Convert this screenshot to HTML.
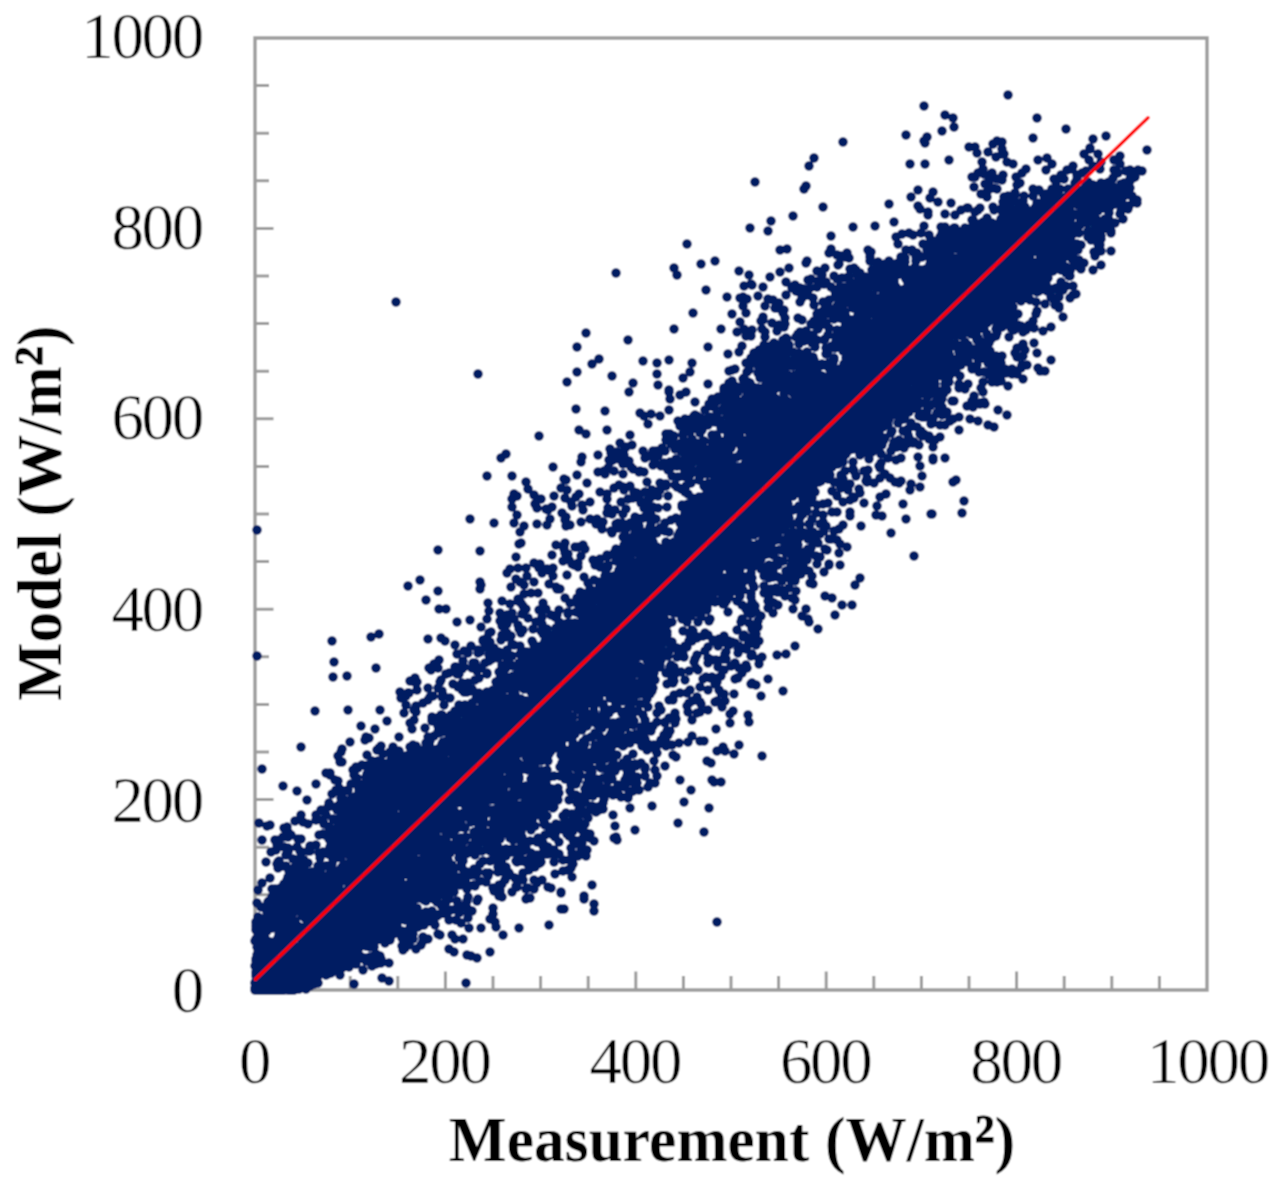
<!DOCTYPE html>
<html><head><meta charset="utf-8"><style>
html,body{margin:0;padding:0;background:#fff;}
svg{display:block;}
.t{font-family:"Liberation Serif",serif;font-size:65px;letter-spacing:-2.3px;fill:#000;stroke:#fff;stroke-width:0.4px;}
.b{font-family:"Liberation Serif",serif;font-weight:bold;font-size:64px;letter-spacing:0.4px;fill:#000;}
</style></head><body>
<svg width="1281" height="1192" viewBox="0 0 1281 1192">
<defs><filter id="bl" x="0" y="0" width="1281" height="1192" filterUnits="userSpaceOnUse"><feConvolveMatrix order="3" kernelMatrix="1 2 1 2 4 2 1 2 1" divisor="16" edgeMode="duplicate" preserveAlpha="true"/></filter></defs>
<g filter="url(#bl)">
<rect width="1281" height="1192" fill="#fff"/>
<path d="M255.0 38.0H1207.0V990.0H255.0Z" fill="none" stroke="#9c9c9c" stroke-width="3.4"/>
<path d="M302.6 990.0V976.0M255.0 942.4H269.0M350.2 990.0V976.0M255.0 894.8H269.0M397.8 990.0V976.0M255.0 847.2H269.0M445.4 990.0V971.5M255.0 799.6H273.5M493.0 990.0V976.0M255.0 752.0H269.0M540.6 990.0V976.0M255.0 704.4H269.0M588.2 990.0V976.0M255.0 656.8H269.0M635.8 990.0V971.5M255.0 609.2H273.5M683.4 990.0V976.0M255.0 561.6H269.0M731.0 990.0V976.0M255.0 514.0H269.0M778.6 990.0V976.0M255.0 466.4H269.0M826.2 990.0V971.5M255.0 418.8H273.5M873.8 990.0V976.0M255.0 371.2H269.0M921.4 990.0V976.0M255.0 323.6H269.0M969.0 990.0V976.0M255.0 276.0H269.0M1016.6 990.0V971.5M255.0 228.4H273.5M1064.2 990.0V976.0M255.0 180.8H269.0M1111.8 990.0V976.0M255.0 133.2H269.0M1159.4 990.0V976.0M255.0 85.6H269.0" stroke="#9c9c9c" stroke-width="3" fill="none"/>
<path d="M258 890h0M257 903h0M256 923h0M256 922h0M256 929h0M256 926h0M256 930h0M258 936h0M256 939h0M257 942h0M257 943h0M255 941h0M257 947h0M258 946h0M258 953h0M257 955h0M258 959h0M256 959h0M257 959h0M256 961h0M256 965h0M257 965h0M257 962h0M258 964h0M256 964h0M255 966h0M257 969h0M257 971h0M257 971h0M256 972h0M256 974h0M256 973h0M256 974h0M256 976h0M257 975h0M257 975h0M258 979h0M257 983h0M256 983h0M255 983h0M257 982h0M256 981h0M258 981h0M258 983h0M257 986h0M256 989h0M256 986h0M256 989h0M255 988h0M255 990h0M258 989h0M258 990h0M256 990h0M258 990h0M258 990h0M257 990h0M256 990h0M257 989h0M256 990h0M257 989h0M258 990h0M257 989h0M255 990h0M257 990h0M255 989h0M258 990h0M257 989h0M259 823h0M261 907h0M258 917h0M260 932h0M260 940h0M261 938h0M259 941h0M259 947h0M260 951h0M260 952h0M259 953h0M261 958h0M259 958h0M260 956h0M259 959h0M260 958h0M258 960h0M261 962h0M261 965h0M260 971h0M261 973h0M260 972h0M260 973h0M260 972h0M259 973h0M261 975h0M259 977h0M258 978h0M260 978h0M261 978h0M260 979h0M259 978h0M259 980h0M258 983h0M259 982h0M259 981h0M260 986h0M259 985h0M259 984h0M261 986h0M261 986h0M261 985h0M259 984h0M259 984h0M260 989h0M260 988h0M259 989h0M260 988h0M261 987h0M259 988h0M260 989h0M258 988h0M259 986h0M259 989h0M259 989h0M261 990h0M259 990h0M261 989h0M261 989h0M260 990h0M260 990h0M259 990h0M259 990h0M259 989h0M260 989h0M260 990h0M260 989h0M262 769h0M262 840h0M262 883h0M264 920h0M262 922h0M262 927h0M263 935h0M263 933h0M264 937h0M262 946h0M263 949h0M262 953h0M263 955h0M263 958h0M264 958h0M263 961h0M263 961h0M263 961h0M262 961h0M261 963h0M263 965h0M262 969h0M263 971h0M263 972h0M262 974h0M262 972h0M262 974h0M263 974h0M262 979h0M261 977h0M264 977h0M261 979h0M262 978h0M261 982h0M263 980h0M262 985h0M264 985h0M262 983h0M261 989h0M263 987h0M262 986h0M261 989h0M263 990h0M262 990h0M261 989h0M262 990h0M263 990h0M264 990h0M262 989h0M267 826h0M266 862h0M266 919h0M265 929h0M267 926h0M267 931h0M266 941h0M265 938h0M266 946h0M265 948h0M264 949h0M267 950h0M265 951h0M265 956h0M265 955h0M265 955h0M264 954h0M266 957h0M265 959h0M266 956h0M264 957h0M267 962h0M265 960h0M266 965h0M265 963h0M265 965h0M265 966h0M265 966h0M265 970h0M265 968h0M264 970h0M265 970h0M264 969h0M267 968h0M266 974h0M266 973h0M266 974h0M266 974h0M264 975h0M266 975h0M265 978h0M265 977h0M265 980h0M266 982h0M266 982h0M265 985h0M265 984h0M266 985h0M266 988h0M265 988h0M266 987h0M266 988h0M265 989h0M265 986h0M267 989h0M266 990h0M266 990h0M264 989h0M265 989h0M265 990h0M266 989h0M265 990h0M265 990h0M265 990h0M265 989h0M265 990h0M270 825h0M269 901h0M268 902h0M269 909h0M267 912h0M269 913h0M267 915h0M269 919h0M270 942h0M268 943h0M267 951h0M268 952h0M269 955h0M269 957h0M269 964h0M269 966h0M268 966h0M269 967h0M269 971h0M269 971h0M270 973h0M269 971h0M268 973h0M269 975h0M269 975h0M268 977h0M269 975h0M268 976h0M267 976h0M267 978h0M270 978h0M268 978h0M268 982h0M268 982h0M270 980h0M267 982h0M269 981h0M268 981h0M267 981h0M267 984h0M269 985h0M268 984h0M270 988h0M268 987h0M267 987h0M267 986h0M267 986h0M268 986h0M268 988h0M269 986h0M267 990h0M267 990h0M267 990h0M270 990h0M270 989h0M270 989h0M267 990h0M268 990h0M269 989h0M271 852h0M270 878h0M272 889h0M272 897h0M272 922h0M272 923h0M272 928h0M271 943h0M270 944h0M271 946h0M273 946h0M271 947h0M272 950h0M271 952h0M272 953h0M270 954h0M272 958h0M271 962h0M272 959h0M272 960h0M272 961h0M272 965h0M272 964h0M271 964h0M273 966h0M271 966h0M273 965h0M272 967h0M272 967h0M272 970h0M271 970h0M272 971h0M270 969h0M270 973h0M273 971h0M271 973h0M271 972h0M271 972h0M270 973h0M271 972h0M272 973h0M272 974h0M271 975h0M270 976h0M270 980h0M272 977h0M272 982h0M271 982h0M271 982h0M272 981h0M271 985h0M273 984h0M271 983h0M270 985h0M272 985h0M272 987h0M272 988h0M270 986h0M270 986h0M271 987h0M270 987h0M271 988h0M270 990h0M273 990h0M273 989h0M271 989h0M273 990h0M271 989h0M275 840h0M276 850h0M275 889h0M274 891h0M274 910h0M275 926h0M273 923h0M276 941h0M274 943h0M273 947h0M273 949h0M275 953h0M274 955h0M274 956h0M275 958h0M274 958h0M275 957h0M274 958h0M275 961h0M274 962h0M274 959h0M276 959h0M275 962h0M273 963h0M274 968h0M275 967h0M276 967h0M275 970h0M273 969h0M274 970h0M275 972h0M275 974h0M274 972h0M275 975h0M275 977h0M276 974h0M274 978h0M274 980h0M274 977h0M275 977h0M275 979h0M274 977h0M274 977h0M276 978h0M274 981h0M275 981h0M275 982h0M275 982h0M275 984h0M275 985h0M274 985h0M275 984h0M276 984h0M275 986h0M274 988h0M274 988h0M274 986h0M275 987h0M274 989h0M276 989h0M276 990h0M274 990h0M275 990h0M273 989h0M274 989h0M277 845h0M278 862h0M277 864h0M278 868h0M278 889h0M276 898h0M277 899h0M276 903h0M278 910h0M276 912h0M277 919h0M276 917h0M278 927h0M279 931h0M279 934h0M278 938h0M279 943h0M276 952h0M278 952h0M279 954h0M277 955h0M276 957h0M278 957h0M277 957h0M279 959h0M278 958h0M278 958h0M276 959h0M277 960h0M278 959h0M277 961h0M277 965h0M277 967h0M278 967h0M277 967h0M276 971h0M279 969h0M278 968h0M279 969h0M276 973h0M277 972h0M279 971h0M278 974h0M278 977h0M277 974h0M279 976h0M277 976h0M277 974h0M277 977h0M279 979h0M278 979h0M278 979h0M278 978h0M276 979h0M277 982h0M276 982h0M277 983h0M277 980h0M279 983h0M279 983h0M278 980h0M277 981h0M277 981h0M276 983h0M279 986h0M277 983h0M278 984h0M278 987h0M279 987h0M276 987h0M279 989h0M277 989h0M278 989h0M277 989h0M278 989h0M278 989h0M277 989h0M278 989h0M277 989h0M279 840h0M279 861h0M282 887h0M282 893h0M280 907h0M279 911h0M281 922h0M281 930h0M281 940h0M281 943h0M281 942h0M279 946h0M279 947h0M281 948h0M281 948h0M281 948h0M281 951h0M279 953h0M282 959h0M280 960h0M281 960h0M280 960h0M281 960h0M280 960h0M282 965h0M280 964h0M280 963h0M281 966h0M281 968h0M280 965h0M282 968h0M281 970h0M281 970h0M279 971h0M280 976h0M282 974h0M281 975h0M281 975h0M280 978h0M279 983h0M280 983h0M280 980h0M281 982h0M281 986h0M281 984h0M282 987h0M282 988h0M282 986h0M279 990h0M281 990h0M280 989h0M279 989h0M282 989h0M280 989h0M280 989h0M283 786h0M284 828h0M283 837h0M284 847h0M283 866h0M284 884h0M284 889h0M283 897h0M284 898h0M285 901h0M283 901h0M284 900h0M283 907h0M284 916h0M285 915h0M284 919h0M282 931h0M282 932h0M283 937h0M283 943h0M284 945h0M284 949h0M283 948h0M283 949h0M284 950h0M284 952h0M283 950h0M283 952h0M284 952h0M282 957h0M283 956h0M283 957h0M284 959h0M282 964h0M282 963h0M282 964h0M284 966h0M283 967h0M283 970h0M285 970h0M282 969h0M283 972h0M282 974h0M285 974h0M282 976h0M284 974h0M285 976h0M282 975h0M282 975h0M284 977h0M283 978h0M284 977h0M283 980h0M283 979h0M284 978h0M284 980h0M283 980h0M282 982h0M283 982h0M284 985h0M282 984h0M283 990h0M283 989h0M284 990h0M287 827h0M288 832h0M288 852h0M286 855h0M286 866h0M288 877h0M287 880h0M287 884h0M285 885h0M287 884h0M285 889h0M286 892h0M286 892h0M288 918h0M287 919h0M287 924h0M288 926h0M288 927h0M285 930h0M288 934h0M287 932h0M287 932h0M287 941h0M286 940h0M285 946h0M288 947h0M287 951h0M287 951h0M286 955h0M286 955h0M285 953h0M286 957h0M287 958h0M286 962h0M286 960h0M285 960h0M287 963h0M285 970h0M286 973h0M287 973h0M287 974h0M285 974h0M288 977h0M285 978h0M286 977h0M287 982h0M286 982h0M287 982h0M286 984h0M286 983h0M285 984h0M286 987h0M287 989h0M285 987h0M286 989h0M288 989h0M291 835h0M288 837h0M289 849h0M288 848h0M289 871h0M288 881h0M290 883h0M289 883h0M291 881h0M289 883h0M291 882h0M290 891h0M290 907h0M291 925h0M289 931h0M291 934h0M289 934h0M290 939h0M288 938h0M291 940h0M289 945h0M289 946h0M289 949h0M291 952h0M288 952h0M290 950h0M289 951h0M290 952h0M291 951h0M289 954h0M289 955h0M289 955h0M289 957h0M290 959h0M291 961h0M288 959h0M289 964h0M291 968h0M288 967h0M290 968h0M288 966h0M289 970h0M288 971h0M288 972h0M289 973h0M289 975h0M289 974h0M289 978h0M290 982h0M290 980h0M289 981h0M289 984h0M289 983h0M288 985h0M290 985h0M289 989h0M290 988h0M289 987h0M291 989h0M289 989h0M288 990h0M290 990h0M293 859h0M292 875h0M293 883h0M292 881h0M291 899h0M292 905h0M293 910h0M293 913h0M291 934h0M291 936h0M293 947h0M294 946h0M292 956h0M293 954h0M293 958h0M293 960h0M291 960h0M291 963h0M293 963h0M292 962h0M291 968h0M292 969h0M291 969h0M294 968h0M292 970h0M293 973h0M293 971h0M291 973h0M293 974h0M292 973h0M293 976h0M294 979h0M291 981h0M294 982h0M292 980h0M294 983h0M293 984h0M291 983h0M291 984h0M291 984h0M292 984h0M294 984h0M292 987h0M293 987h0M294 990h0M292 990h0M294 990h0M292 989h0M297 791h0M295 821h0M296 860h0M296 866h0M297 868h0M295 867h0M296 867h0M297 873h0M296 877h0M297 881h0M295 891h0M294 894h0M295 900h0M294 903h0M297 906h0M296 906h0M295 910h0M295 911h0M295 921h0M297 930h0M296 930h0M295 935h0M296 935h0M295 950h0M295 948h0M297 952h0M294 951h0M295 954h0M296 953h0M295 957h0M295 960h0M296 960h0M296 961h0M295 964h0M294 963h0M295 964h0M296 965h0M295 966h0M297 969h0M296 969h0M297 972h0M295 976h0M295 975h0M296 975h0M296 976h0M294 980h0M295 977h0M295 980h0M296 982h0M297 982h0M296 982h0M297 981h0M297 985h0M296 986h0M294 984h0M296 983h0M295 985h0M295 984h0M294 986h0M295 988h0M296 986h0M294 989h0M294 990h0M298 839h0M297 847h0M300 851h0M299 862h0M299 866h0M298 867h0M298 867h0M299 878h0M299 880h0M299 882h0M299 883h0M298 884h0M297 892h0M299 900h0M298 900h0M300 907h0M298 926h0M298 928h0M298 930h0M298 934h0M300 937h0M298 947h0M298 951h0M300 954h0M298 958h0M300 959h0M297 964h0M299 964h0M299 971h0M297 976h0M299 982h0M298 984h0M298 988h0M299 989h0M301 747h0M301 815h0M301 839h0M301 853h0M301 858h0M301 865h0M303 864h0M302 872h0M302 873h0M302 885h0M301 888h0M301 894h0M302 900h0M303 901h0M301 906h0M300 911h0M303 912h0M302 916h0M301 929h0M301 934h0M302 938h0M301 939h0M302 944h0M301 950h0M302 953h0M302 968h0M300 969h0M301 970h0M301 973h0M303 971h0M303 973h0M300 974h0M300 978h0M301 978h0M300 980h0M303 981h0M303 981h0M301 980h0M300 985h0M301 985h0M300 985h0M302 987h0M303 822h0M304 860h0M304 867h0M304 868h0M305 872h0M303 873h0M304 876h0M305 880h0M303 886h0M304 889h0M303 898h0M305 901h0M304 907h0M306 909h0M304 912h0M305 918h0M306 926h0M305 937h0M304 938h0M305 938h0M306 939h0M304 944h0M304 949h0M306 949h0M305 952h0M303 954h0M304 960h0M305 964h0M305 963h0M304 970h0M304 970h0M305 971h0M305 975h0M305 979h0M305 978h0M303 978h0M304 983h0M305 985h0M306 989h0M307 800h0M308 824h0M308 851h0M308 863h0M309 873h0M308 884h0M307 885h0M307 887h0M306 889h0M306 890h0M308 896h0M307 894h0M307 904h0M309 905h0M309 905h0M308 906h0M308 909h0M309 912h0M307 917h0M308 918h0M308 920h0M307 927h0M308 928h0M308 930h0M309 934h0M308 937h0M308 941h0M307 957h0M307 958h0M308 962h0M306 968h0M308 968h0M307 973h0M308 972h0M309 972h0M308 977h0M308 975h0M308 977h0M308 980h0M308 986h0M311 846h0M310 846h0M310 851h0M311 883h0M310 890h0M311 896h0M310 907h0M312 911h0M311 911h0M311 913h0M310 915h0M310 914h0M309 919h0M312 926h0M312 934h0M309 938h0M309 937h0M312 935h0M309 940h0M310 939h0M309 950h0M312 954h0M310 960h0M312 960h0M310 962h0M311 959h0M312 964h0M312 962h0M312 964h0M310 968h0M310 967h0M311 972h0M310 974h0M309 976h0M309 978h0M311 978h0M310 986h0M312 872h0M313 878h0M312 880h0M314 880h0M313 901h0M314 904h0M315 919h0M313 922h0M314 929h0M314 936h0M313 941h0M314 946h0M312 944h0M312 946h0M313 944h0M315 953h0M312 955h0M314 957h0M312 959h0M313 963h0M312 965h0M314 966h0M313 970h0M312 973h0M315 976h0M314 978h0M314 984h0M315 711h0M316 784h0M316 815h0M316 820h0M316 845h0M318 866h0M317 881h0M318 887h0M318 889h0M315 888h0M318 895h0M317 895h0M317 900h0M315 908h0M317 914h0M317 919h0M316 919h0M315 924h0M318 931h0M316 939h0M315 949h0M318 952h0M317 951h0M317 955h0M318 959h0M317 959h0M316 963h0M318 964h0M317 969h0M316 980h0M319 835h0M319 853h0M319 853h0M320 858h0M320 871h0M320 875h0M318 881h0M320 895h0M318 894h0M318 896h0M321 899h0M319 900h0M321 906h0M320 909h0M320 923h0M320 922h0M319 928h0M320 930h0M318 937h0M319 938h0M320 942h0M319 947h0M320 953h0M319 953h0M320 964h0M318 972h0M321 972h0M319 974h0M318 976h0M318 983h0M321 810h0M323 820h0M324 824h0M323 834h0M323 852h0M322 866h0M324 885h0M321 889h0M323 893h0M322 902h0M322 908h0M321 911h0M324 915h0M323 920h0M323 918h0M322 928h0M323 927h0M322 931h0M323 930h0M323 935h0M322 935h0M324 947h0M321 948h0M322 954h0M323 955h0M322 960h0M323 964h0M324 964h0M322 963h0M323 973h0M323 971h0M326 773h0M326 815h0M325 835h0M324 853h0M326 853h0M327 866h0M326 866h0M326 876h0M325 883h0M326 887h0M327 885h0M325 891h0M326 891h0M326 890h0M324 893h0M326 896h0M325 897h0M327 900h0M326 904h0M327 903h0M326 909h0M324 908h0M326 910h0M327 916h0M326 917h0M324 921h0M326 922h0M326 922h0M326 921h0M325 921h0M325 925h0M325 924h0M324 927h0M325 926h0M326 934h0M327 939h0M325 943h0M327 944h0M324 946h0M327 952h0M325 954h0M325 954h0M327 954h0M326 962h0M324 968h0M325 973h0M325 973h0M326 975h0M330 773h0M329 803h0M328 807h0M329 827h0M329 832h0M329 839h0M330 847h0M328 851h0M328 854h0M329 881h0M330 885h0M329 888h0M328 890h0M330 899h0M329 903h0M329 906h0M329 907h0M329 914h0M327 916h0M330 916h0M330 915h0M328 917h0M330 922h0M329 924h0M329 944h0M327 948h0M329 956h0M329 963h0M330 964h0M327 965h0M329 966h0M328 966h0M328 974h0M332 641h0M333 677h0M330 775h0M332 794h0M331 834h0M332 841h0M333 839h0M332 842h0M331 844h0M331 850h0M333 850h0M332 857h0M331 866h0M332 864h0M331 870h0M332 893h0M332 891h0M332 891h0M330 902h0M331 916h0M331 918h0M332 920h0M332 927h0M331 928h0M333 929h0M333 936h0M332 938h0M331 938h0M331 939h0M331 942h0M332 944h0M332 952h0M331 952h0M333 953h0M332 953h0M331 956h0M332 955h0M333 955h0M332 958h0M332 959h0M332 960h0M332 962h0M331 962h0M331 963h0M332 966h0M332 967h0M332 970h0M331 973h0M334 662h0M335 780h0M335 807h0M333 819h0M335 820h0M334 830h0M333 837h0M333 859h0M334 859h0M333 877h0M333 877h0M334 876h0M334 884h0M335 901h0M335 899h0M335 899h0M334 900h0M335 906h0M334 907h0M334 910h0M334 910h0M335 916h0M336 920h0M335 922h0M335 927h0M333 930h0M335 939h0M334 941h0M336 943h0M333 944h0M334 945h0M334 948h0M336 949h0M334 950h0M333 951h0M334 952h0M336 958h0M335 958h0M335 958h0M334 963h0M334 963h0M334 965h0M336 970h0M338 756h0M338 781h0M338 791h0M336 790h0M338 806h0M337 810h0M339 821h0M338 823h0M338 825h0M337 830h0M338 840h0M336 839h0M337 840h0M337 855h0M337 871h0M337 876h0M337 879h0M338 882h0M338 886h0M339 888h0M336 889h0M337 895h0M336 900h0M336 904h0M337 908h0M337 914h0M337 917h0M336 918h0M337 929h0M338 931h0M336 931h0M337 933h0M337 939h0M336 938h0M337 943h0M337 941h0M337 946h0M337 945h0M337 944h0M336 947h0M337 954h0M337 957h0M338 962h0M338 965h0M338 962h0M338 965h0M338 964h0M338 965h0M338 968h0M337 968h0M338 970h0M341 752h0M340 761h0M340 762h0M339 788h0M341 798h0M340 804h0M340 818h0M339 819h0M342 820h0M341 820h0M339 821h0M341 826h0M339 827h0M341 831h0M341 836h0M341 839h0M341 845h0M340 848h0M339 846h0M341 851h0M339 856h0M341 858h0M342 867h0M341 869h0M339 871h0M340 877h0M340 877h0M339 876h0M340 880h0M339 885h0M341 893h0M342 902h0M340 901h0M342 906h0M341 910h0M340 912h0M339 916h0M342 919h0M341 918h0M340 924h0M340 929h0M341 929h0M339 935h0M341 938h0M339 944h0M342 950h0M341 952h0M341 951h0M340 950h0M341 955h0M340 959h0M342 957h0M341 960h0M341 964h0M339 967h0M342 968h0M340 975h0M342 749h0M342 762h0M344 791h0M343 791h0M343 799h0M344 804h0M343 805h0M343 808h0M344 809h0M344 809h0M344 815h0M344 815h0M344 817h0M343 818h0M342 818h0M343 822h0M344 824h0M344 822h0M345 831h0M344 841h0M343 848h0M345 847h0M343 847h0M344 864h0M343 868h0M344 873h0M343 879h0M345 880h0M342 894h0M342 896h0M345 898h0M343 905h0M342 907h0M343 906h0M345 907h0M342 905h0M344 910h0M342 918h0M344 918h0M345 919h0M345 935h0M344 936h0M342 940h0M344 940h0M342 939h0M345 940h0M344 939h0M343 941h0M345 941h0M343 941h0M345 944h0M344 948h0M343 950h0M344 950h0M345 952h0M344 955h0M343 956h0M343 960h0M343 959h0M342 961h0M343 962h0M343 959h0M347 676h0M345 791h0M348 790h0M347 811h0M347 814h0M346 813h0M348 816h0M345 817h0M347 818h0M347 819h0M346 819h0M348 824h0M348 822h0M345 825h0M346 827h0M348 827h0M346 830h0M347 831h0M347 832h0M347 835h0M346 840h0M345 847h0M345 852h0M345 867h0M348 879h0M348 882h0M345 894h0M348 899h0M347 899h0M347 908h0M347 909h0M346 909h0M345 913h0M346 921h0M348 926h0M346 927h0M346 930h0M348 935h0M348 941h0M348 946h0M347 946h0M347 947h0M347 951h0M346 951h0M346 954h0M347 955h0M347 956h0M348 957h0M346 958h0M345 961h0M347 966h0M348 710h0M350 742h0M351 784h0M349 801h0M350 809h0M350 810h0M348 812h0M348 811h0M348 813h0M350 816h0M350 816h0M349 820h0M350 819h0M350 819h0M349 824h0M348 827h0M349 824h0M350 831h0M350 832h0M349 836h0M349 842h0M349 845h0M350 843h0M350 847h0M350 847h0M351 849h0M349 849h0M350 856h0M349 869h0M351 873h0M349 877h0M348 876h0M351 880h0M349 886h0M348 890h0M349 892h0M350 890h0M350 892h0M351 896h0M351 894h0M348 897h0M350 901h0M350 903h0M350 907h0M349 909h0M349 911h0M349 917h0M351 917h0M350 923h0M349 933h0M349 938h0M351 941h0M351 941h0M351 941h0M349 941h0M349 946h0M351 946h0M350 945h0M348 945h0M350 951h0M349 951h0M349 952h0M348 951h0M349 955h0M349 967h0M353 770h0M352 797h0M354 797h0M354 807h0M353 812h0M352 810h0M351 813h0M354 814h0M353 818h0M354 821h0M353 823h0M353 825h0M354 827h0M352 830h0M352 829h0M352 832h0M352 835h0M351 841h0M352 847h0M351 854h0M352 852h0M353 854h0M351 860h0M354 857h0M352 861h0M353 864h0M353 867h0M354 868h0M353 870h0M354 883h0M352 883h0M352 883h0M352 886h0M352 885h0M353 887h0M354 896h0M353 899h0M352 901h0M354 899h0M352 905h0M351 905h0M352 908h0M354 908h0M353 908h0M354 911h0M352 913h0M353 919h0M354 920h0M352 920h0M352 923h0M352 926h0M352 927h0M353 928h0M351 935h0M352 933h0M354 941h0M352 938h0M352 943h0M354 944h0M352 946h0M352 949h0M354 947h0M354 952h0M352 955h0M352 956h0M353 953h0M352 956h0M352 959h0M356 767h0M355 770h0M354 775h0M357 778h0M356 784h0M355 798h0M355 801h0M357 804h0M355 809h0M357 814h0M357 815h0M356 814h0M355 817h0M356 817h0M354 821h0M356 823h0M357 829h0M357 834h0M354 834h0M356 842h0M357 846h0M355 846h0M357 851h0M357 854h0M355 852h0M355 853h0M356 852h0M355 858h0M356 862h0M356 871h0M355 874h0M354 881h0M356 881h0M355 884h0M357 883h0M357 882h0M356 885h0M355 892h0M356 895h0M357 899h0M355 903h0M355 905h0M355 906h0M355 907h0M355 916h0M356 918h0M355 917h0M356 922h0M354 926h0M356 924h0M355 928h0M357 930h0M356 930h0M356 933h0M356 938h0M354 937h0M355 935h0M355 936h0M357 940h0M355 941h0M356 946h0M355 945h0M354 947h0M357 952h0M356 953h0M356 964h0M354 984h0M358 768h0M358 786h0M359 791h0M359 790h0M359 795h0M359 797h0M359 803h0M358 811h0M358 811h0M358 810h0M360 816h0M358 816h0M357 816h0M358 817h0M359 820h0M357 824h0M358 826h0M359 829h0M359 831h0M359 830h0M359 840h0M358 845h0M359 854h0M360 852h0M360 859h0M358 866h0M358 870h0M358 875h0M360 881h0M358 880h0M360 884h0M359 890h0M357 891h0M358 898h0M360 897h0M358 899h0M358 898h0M359 900h0M360 902h0M359 902h0M358 904h0M358 905h0M359 915h0M359 919h0M359 923h0M358 921h0M359 920h0M360 922h0M357 923h0M359 926h0M359 929h0M357 931h0M359 929h0M360 929h0M359 931h0M358 933h0M359 938h0M360 943h0M357 944h0M358 946h0M358 948h0M359 948h0M359 959h0M361 726h0M362 765h0M363 792h0M362 796h0M360 799h0M363 801h0M361 807h0M363 810h0M363 813h0M361 814h0M361 818h0M361 825h0M363 825h0M361 831h0M360 832h0M361 832h0M361 841h0M361 846h0M361 848h0M360 850h0M361 849h0M361 855h0M361 858h0M361 862h0M362 872h0M362 874h0M362 876h0M360 877h0M363 883h0M361 881h0M361 896h0M362 905h0M362 903h0M361 917h0M363 918h0M360 924h0M361 929h0M362 930h0M360 932h0M360 932h0M363 931h0M362 937h0M361 941h0M361 939h0M360 956h0M365 740h0M366 777h0M364 784h0M365 790h0M365 795h0M364 799h0M365 805h0M365 807h0M365 810h0M364 810h0M363 809h0M365 815h0M366 813h0M364 814h0M364 815h0M365 817h0M365 816h0M365 819h0M363 818h0M363 818h0M365 821h0M363 823h0M363 821h0M364 821h0M365 823h0M365 829h0M365 828h0M365 828h0M364 829h0M363 832h0M365 831h0M365 831h0M365 839h0M366 838h0M364 842h0M365 842h0M366 842h0M365 844h0M365 844h0M366 848h0M365 847h0M366 849h0M366 850h0M364 855h0M363 861h0M363 863h0M363 865h0M366 864h0M366 868h0M364 871h0M364 870h0M365 873h0M364 872h0M364 877h0M364 882h0M363 884h0M363 883h0M365 885h0M365 888h0M364 888h0M366 888h0M366 887h0M366 892h0M364 891h0M364 896h0M366 900h0M363 904h0M363 905h0M364 910h0M363 909h0M364 917h0M363 921h0M365 927h0M366 931h0M363 929h0M365 929h0M364 934h0M366 935h0M364 934h0M366 943h0M366 943h0M366 946h0M365 958h0M366 961h0M363 970h0M366 737h0M367 755h0M368 765h0M368 769h0M367 774h0M369 788h0M368 794h0M367 792h0M368 800h0M366 805h0M366 807h0M368 811h0M367 813h0M367 812h0M367 821h0M369 821h0M366 823h0M367 824h0M368 826h0M368 825h0M369 833h0M368 830h0M369 833h0M367 836h0M367 836h0M368 838h0M369 838h0M369 836h0M369 841h0M366 843h0M367 845h0M367 845h0M368 847h0M368 845h0M367 847h0M369 847h0M368 848h0M368 857h0M368 863h0M366 867h0M368 867h0M368 875h0M368 879h0M367 878h0M368 880h0M367 878h0M368 882h0M366 884h0M369 893h0M369 891h0M368 894h0M368 897h0M367 910h0M367 916h0M368 919h0M366 921h0M367 921h0M367 924h0M367 928h0M369 928h0M368 930h0M368 934h0M366 935h0M367 935h0M366 936h0M371 637h0M369 738h0M370 778h0M372 785h0M370 785h0M370 794h0M370 797h0M372 800h0M371 802h0M369 803h0M370 800h0M370 803h0M369 809h0M370 811h0M371 815h0M369 819h0M371 822h0M371 821h0M369 828h0M371 829h0M369 832h0M372 832h0M371 839h0M370 842h0M370 840h0M370 843h0M372 845h0M370 852h0M371 856h0M370 856h0M370 855h0M372 860h0M370 858h0M370 861h0M370 866h0M372 870h0M369 870h0M369 873h0M370 882h0M369 881h0M371 882h0M370 889h0M370 889h0M372 891h0M371 893h0M372 901h0M369 903h0M371 904h0M369 906h0M371 905h0M370 909h0M371 910h0M370 913h0M372 912h0M371 912h0M371 914h0M370 919h0M369 919h0M370 921h0M372 925h0M370 923h0M372 929h0M369 929h0M372 933h0M370 936h0M369 943h0M370 947h0M370 957h0M372 966h0M372 761h0M374 768h0M374 776h0M375 782h0M372 783h0M373 790h0M375 789h0M373 792h0M373 797h0M375 797h0M372 799h0M373 798h0M372 803h0M374 806h0M373 810h0M373 810h0M373 810h0M373 817h0M373 816h0M373 819h0M374 822h0M375 826h0M373 832h0M373 842h0M373 840h0M374 846h0M375 850h0M373 851h0M374 853h0M372 852h0M374 854h0M374 856h0M373 857h0M373 864h0M373 868h0M373 869h0M374 866h0M374 874h0M374 875h0M372 880h0M374 879h0M374 884h0M374 889h0M374 890h0M375 893h0M373 899h0M373 902h0M375 900h0M374 903h0M374 904h0M374 911h0M372 912h0M372 916h0M375 914h0M373 915h0M373 915h0M372 919h0M374 919h0M373 923h0M374 926h0M374 923h0M375 923h0M374 927h0M374 927h0M374 930h0M373 932h0M374 934h0M374 947h0M374 956h0M376 668h0M375 729h0M377 750h0M378 761h0M376 762h0M377 778h0M376 791h0M375 794h0M376 794h0M377 798h0M377 798h0M378 798h0M378 802h0M377 802h0M377 805h0M376 806h0M378 807h0M376 808h0M375 808h0M376 810h0M377 811h0M376 813h0M376 815h0M377 817h0M378 821h0M375 823h0M375 821h0M377 825h0M378 832h0M377 830h0M377 837h0M377 842h0M376 847h0M375 850h0M378 851h0M375 850h0M378 854h0M376 853h0M376 860h0M376 858h0M376 861h0M377 867h0M375 872h0M376 872h0M376 878h0M377 877h0M376 880h0M377 880h0M376 878h0M375 879h0M378 883h0M376 891h0M375 901h0M376 900h0M378 904h0M377 908h0M376 907h0M377 907h0M377 908h0M375 910h0M376 917h0M377 920h0M378 922h0M378 921h0M377 921h0M377 923h0M376 926h0M376 926h0M376 929h0M377 928h0M378 931h0M376 934h0M377 933h0M377 937h0M376 939h0M377 940h0M377 939h0M376 954h0M376 964h0M379 634h0M380 710h0M379 748h0M380 763h0M379 777h0M378 788h0M379 786h0M379 793h0M379 791h0M380 792h0M379 796h0M379 795h0M381 796h0M379 796h0M379 798h0M381 803h0M381 803h0M380 800h0M378 801h0M378 804h0M381 804h0M380 808h0M379 807h0M378 807h0M378 808h0M380 811h0M379 814h0M380 819h0M379 823h0M379 828h0M379 827h0M381 833h0M379 837h0M379 837h0M380 844h0M381 852h0M380 853h0M379 856h0M378 855h0M379 856h0M379 863h0M379 862h0M380 866h0M380 865h0M380 867h0M378 870h0M378 875h0M378 875h0M378 883h0M378 883h0M379 888h0M380 887h0M379 888h0M379 891h0M380 901h0M380 905h0M380 917h0M380 917h0M379 918h0M380 920h0M378 921h0M379 923h0M381 921h0M380 920h0M378 926h0M381 930h0M379 936h0M380 956h0M380 958h0M379 960h0M381 959h0M381 746h0M383 754h0M383 763h0M384 768h0M381 771h0M383 774h0M383 774h0M382 773h0M383 781h0M383 783h0M381 787h0M381 789h0M384 788h0M381 790h0M382 795h0M383 794h0M383 800h0M381 800h0M382 801h0M383 811h0M381 812h0M382 815h0M382 816h0M381 816h0M382 820h0M381 825h0M381 831h0M383 832h0M381 846h0M381 846h0M381 846h0M382 849h0M383 850h0M383 852h0M381 852h0M381 856h0M382 858h0M382 858h0M383 865h0M382 867h0M384 870h0M381 870h0M383 874h0M381 872h0M383 874h0M383 878h0M382 880h0M382 879h0M382 885h0M381 888h0M381 892h0M381 896h0M384 897h0M382 901h0M383 901h0M382 910h0M383 910h0M382 912h0M384 911h0M382 913h0M383 916h0M383 917h0M384 918h0M382 918h0M382 918h0M383 920h0M383 921h0M383 920h0M384 922h0M383 920h0M381 963h0M382 978h0M384 764h0M385 768h0M385 783h0M385 785h0M386 792h0M386 791h0M385 794h0M384 797h0M385 803h0M384 804h0M386 808h0M386 807h0M386 811h0M387 811h0M385 822h0M386 822h0M386 825h0M386 830h0M387 835h0M386 837h0M386 846h0M386 847h0M386 848h0M386 854h0M385 860h0M385 865h0M386 871h0M385 869h0M386 870h0M385 873h0M385 878h0M385 880h0M384 881h0M385 881h0M387 886h0M384 888h0M384 889h0M387 891h0M385 893h0M387 894h0M384 897h0M386 901h0M385 902h0M385 902h0M386 905h0M384 904h0M385 903h0M386 905h0M386 910h0M386 910h0M386 909h0M384 917h0M385 918h0M386 918h0M387 917h0M387 918h0M385 918h0M385 921h0M386 921h0M384 920h0M385 923h0M386 925h0M387 925h0M386 928h0M385 927h0M387 933h0M385 943h0M387 721h0M390 752h0M388 769h0M387 772h0M389 776h0M388 777h0M388 777h0M390 779h0M389 784h0M388 790h0M389 791h0M388 789h0M387 789h0M389 789h0M389 791h0M389 794h0M389 800h0M390 801h0M389 806h0M388 807h0M387 815h0M388 813h0M390 815h0M390 818h0M389 822h0M390 827h0M388 827h0M389 832h0M388 831h0M387 832h0M388 831h0M387 837h0M388 839h0M387 845h0M389 846h0M387 852h0M390 855h0M388 856h0M388 858h0M390 857h0M389 858h0M390 861h0M388 861h0M388 863h0M389 866h0M390 873h0M389 875h0M389 881h0M388 880h0M387 885h0M388 890h0M388 889h0M387 901h0M388 903h0M387 903h0M388 909h0M387 908h0M390 909h0M388 912h0M389 913h0M390 914h0M388 917h0M389 917h0M389 930h0M387 933h0M387 938h0M387 941h0M389 963h0M389 981h0M393 747h0M391 754h0M391 760h0M391 767h0M392 774h0M393 776h0M390 777h0M390 782h0M392 780h0M391 784h0M391 789h0M392 788h0M391 790h0M391 791h0M392 792h0M392 794h0M393 800h0M391 809h0M393 811h0M392 814h0M391 820h0M393 820h0M393 826h0M390 829h0M392 828h0M392 836h0M390 846h0M390 853h0M392 855h0M392 858h0M391 864h0M393 868h0M392 880h0M391 879h0M393 890h0M391 891h0M392 896h0M391 900h0M391 904h0M392 905h0M391 909h0M391 916h0M392 916h0M390 918h0M390 921h0M392 926h0M392 935h0M390 940h0M395 753h0M395 772h0M394 774h0M394 776h0M394 778h0M395 776h0M394 779h0M396 780h0M396 780h0M393 783h0M394 784h0M395 786h0M393 788h0M396 788h0M394 794h0M395 794h0M394 798h0M393 800h0M394 805h0M396 806h0M394 814h0M395 830h0M395 831h0M395 834h0M395 834h0M394 841h0M395 849h0M393 850h0M396 854h0M394 853h0M395 852h0M394 852h0M395 854h0M394 854h0M393 858h0M394 867h0M396 870h0M394 874h0M394 877h0M394 884h0M396 891h0M395 890h0M396 893h0M395 896h0M395 900h0M395 912h0M395 914h0M395 912h0M394 924h0M399 737h0M398 760h0M399 766h0M398 766h0M396 767h0M397 765h0M396 769h0M399 767h0M396 772h0M399 773h0M398 774h0M397 777h0M398 778h0M398 781h0M396 783h0M399 786h0M398 786h0M398 790h0M396 790h0M399 790h0M398 789h0M396 797h0M399 797h0M398 800h0M397 806h0M396 803h0M399 806h0M398 826h0M397 826h0M398 827h0M397 830h0M398 834h0M398 844h0M398 844h0M397 850h0M397 852h0M398 854h0M398 859h0M398 864h0M398 865h0M396 864h0M398 871h0M397 869h0M396 871h0M397 872h0M398 875h0M398 876h0M398 879h0M398 881h0M398 883h0M398 884h0M397 895h0M397 898h0M398 904h0M399 906h0M396 907h0M396 913h0M399 914h0M398 918h0M397 925h0M397 933h0M400 692h0M401 698h0M399 751h0M401 761h0M402 763h0M399 764h0M400 770h0M400 768h0M400 771h0M400 770h0M401 771h0M400 781h0M400 780h0M402 780h0M399 779h0M401 788h0M402 787h0M400 785h0M400 786h0M401 790h0M400 790h0M400 788h0M402 793h0M402 800h0M402 797h0M402 807h0M402 817h0M400 816h0M402 827h0M401 841h0M399 846h0M401 848h0M401 853h0M400 853h0M401 852h0M401 863h0M402 865h0M399 871h0M401 872h0M401 877h0M400 879h0M401 885h0M401 889h0M399 889h0M402 894h0M400 898h0M399 904h0M401 909h0M399 911h0M401 914h0M399 916h0M402 916h0M401 919h0M401 931h0M399 930h0M401 931h0M404 713h0M404 759h0M403 762h0M403 771h0M405 771h0M405 774h0M403 781h0M404 779h0M403 781h0M404 782h0M404 783h0M403 786h0M405 786h0M404 793h0M405 793h0M403 794h0M405 793h0M403 796h0M404 799h0M404 797h0M404 797h0M405 801h0M403 802h0M404 807h0M403 809h0M402 822h0M405 824h0M403 831h0M403 835h0M404 833h0M403 835h0M405 840h0M403 847h0M405 851h0M404 849h0M405 855h0M402 860h0M405 861h0M402 864h0M403 868h0M404 871h0M403 872h0M402 874h0M403 875h0M404 892h0M404 897h0M404 905h0M402 906h0M403 912h0M404 913h0M404 914h0M405 918h0M405 920h0M402 931h0M402 938h0M402 946h0M405 948h0M403 950h0M406 696h0M406 705h0M406 756h0M407 759h0M407 763h0M408 771h0M407 776h0M406 779h0M407 781h0M405 782h0M408 784h0M407 783h0M408 783h0M406 785h0M406 786h0M406 790h0M406 790h0M407 794h0M407 793h0M406 793h0M407 792h0M408 793h0M406 795h0M408 798h0M408 804h0M408 804h0M407 810h0M406 814h0M407 820h0M407 823h0M407 824h0M406 828h0M407 828h0M405 828h0M407 833h0M407 838h0M407 839h0M408 844h0M407 844h0M408 847h0M406 847h0M408 849h0M407 854h0M405 857h0M405 860h0M408 859h0M406 860h0M406 861h0M406 861h0M406 866h0M407 869h0M405 874h0M405 885h0M406 887h0M405 892h0M407 892h0M407 895h0M406 894h0M407 902h0M405 909h0M406 910h0M405 913h0M405 916h0M407 915h0M405 935h0M410 681h0M409 693h0M408 693h0M410 723h0M411 748h0M410 747h0M410 754h0M409 760h0M410 760h0M409 759h0M408 764h0M408 770h0M409 772h0M411 780h0M409 784h0M408 783h0M410 788h0M409 791h0M411 793h0M409 794h0M409 803h0M411 806h0M410 806h0M410 827h0M409 827h0M409 827h0M410 833h0M409 833h0M410 833h0M410 841h0M411 840h0M408 842h0M409 847h0M410 848h0M409 848h0M408 856h0M409 855h0M409 857h0M411 861h0M411 865h0M409 872h0M409 875h0M410 875h0M411 884h0M410 884h0M409 887h0M410 888h0M410 892h0M410 892h0M410 893h0M409 895h0M409 894h0M411 896h0M411 905h0M410 918h0M409 917h0M411 926h0M410 928h0M408 935h0M409 942h0M409 945h0M412 681h0M412 729h0M413 745h0M412 749h0M411 748h0M412 761h0M413 761h0M411 766h0M411 765h0M413 765h0M412 775h0M413 776h0M412 781h0M414 780h0M412 783h0M413 785h0M413 795h0M412 797h0M413 795h0M413 802h0M414 800h0M414 810h0M413 812h0M412 818h0M414 827h0M412 836h0M413 837h0M413 845h0M413 843h0M412 848h0M414 852h0M413 853h0M411 854h0M412 857h0M412 858h0M414 862h0M413 866h0M412 867h0M413 867h0M413 869h0M413 879h0M411 881h0M412 886h0M411 896h0M412 895h0M414 893h0M412 899h0M413 901h0M412 906h0M413 914h0M412 915h0M413 915h0M412 920h0M412 926h0M413 934h0M413 939h0M415 678h0M417 682h0M416 683h0M416 706h0M416 712h0M414 710h0M414 720h0M416 746h0M416 750h0M415 753h0M417 754h0M416 765h0M414 764h0M415 768h0M414 771h0M416 774h0M415 779h0M417 779h0M416 778h0M415 783h0M416 786h0M416 786h0M415 788h0M417 798h0M416 807h0M416 809h0M414 812h0M417 813h0M415 814h0M416 817h0M415 821h0M415 818h0M415 820h0M416 819h0M415 829h0M416 833h0M415 836h0M416 838h0M417 850h0M417 851h0M414 853h0M414 852h0M414 859h0M415 872h0M417 872h0M416 880h0M416 879h0M416 891h0M417 897h0M417 898h0M417 908h0M416 908h0M416 917h0M416 919h0M416 949h0M417 690h0M420 756h0M420 760h0M418 759h0M418 763h0M418 771h0M419 771h0M418 775h0M420 774h0M420 775h0M420 777h0M418 780h0M420 790h0M418 789h0M418 789h0M419 789h0M419 793h0M418 795h0M418 800h0M419 799h0M419 801h0M420 805h0M417 810h0M419 813h0M417 813h0M417 816h0M419 824h0M419 823h0M418 832h0M419 835h0M419 835h0M420 841h0M420 850h0M419 849h0M419 868h0M418 867h0M418 874h0M420 873h0M418 877h0M418 880h0M418 884h0M418 886h0M420 884h0M419 887h0M418 889h0M419 894h0M418 898h0M419 913h0M418 927h0M420 580h0M423 703h0M422 754h0M422 756h0M421 757h0M421 766h0M421 770h0M422 778h0M422 781h0M422 784h0M421 793h0M421 791h0M421 797h0M422 798h0M422 798h0M422 802h0M420 803h0M421 806h0M421 806h0M422 812h0M423 813h0M422 819h0M422 827h0M422 829h0M422 838h0M420 836h0M422 838h0M423 843h0M421 851h0M421 860h0M421 861h0M423 865h0M422 870h0M420 873h0M420 875h0M422 878h0M423 879h0M420 885h0M420 888h0M422 895h0M421 896h0M423 899h0M422 922h0M420 921h0M420 924h0M422 925h0M423 925h0M423 924h0M421 945h0M426 600h0M425 728h0M424 752h0M424 750h0M423 750h0M425 758h0M424 761h0M424 773h0M425 780h0M425 781h0M425 780h0M424 783h0M424 788h0M426 790h0M426 793h0M424 795h0M424 795h0M423 798h0M426 799h0M423 800h0M424 800h0M425 802h0M425 811h0M426 819h0M425 828h0M424 829h0M425 832h0M425 835h0M425 835h0M423 835h0M426 838h0M424 839h0M424 842h0M424 848h0M425 849h0M425 849h0M426 848h0M426 852h0M424 853h0M423 852h0M425 852h0M425 852h0M424 852h0M425 854h0M425 858h0M424 861h0M424 860h0M424 872h0M423 872h0M424 874h0M425 880h0M423 891h0M424 900h0M426 900h0M426 912h0M424 914h0M423 916h0M424 925h0M423 937h0M423 941h0M428 639h0M428 688h0M428 700h0M428 737h0M429 743h0M426 743h0M428 759h0M427 763h0M428 768h0M427 771h0M428 770h0M428 775h0M428 777h0M427 790h0M427 792h0M427 799h0M428 802h0M428 802h0M427 805h0M427 812h0M427 812h0M427 813h0M428 827h0M427 827h0M427 825h0M428 827h0M428 840h0M428 843h0M429 844h0M428 845h0M427 847h0M428 855h0M429 868h0M427 877h0M426 882h0M426 881h0M429 892h0M426 901h0M428 919h0M427 922h0M428 939h0M429 668h0M431 670h0M430 697h0M432 717h0M432 721h0M432 719h0M430 741h0M429 744h0M430 747h0M432 754h0M431 757h0M431 760h0M431 760h0M430 764h0M430 764h0M431 765h0M432 771h0M431 779h0M430 781h0M431 779h0M429 787h0M431 793h0M431 793h0M431 797h0M431 809h0M430 811h0M430 820h0M431 822h0M431 826h0M430 829h0M431 830h0M429 832h0M430 831h0M431 833h0M430 835h0M431 842h0M431 842h0M431 852h0M430 852h0M432 863h0M430 865h0M429 872h0M429 875h0M429 876h0M431 879h0M430 886h0M429 888h0M431 896h0M431 898h0M432 911h0M431 920h0M434 664h0M433 696h0M434 736h0M435 752h0M434 764h0M433 765h0M433 770h0M432 784h0M434 787h0M434 791h0M434 791h0M433 789h0M435 794h0M435 791h0M432 796h0M432 799h0M434 798h0M434 801h0M435 802h0M434 808h0M434 813h0M432 817h0M435 819h0M433 824h0M434 826h0M433 829h0M433 830h0M432 848h0M433 852h0M434 855h0M433 862h0M435 864h0M433 870h0M434 870h0M435 875h0M435 879h0M434 880h0M434 884h0M434 886h0M434 885h0M434 891h0M434 895h0M434 898h0M434 923h0M435 925h0M438 591h0M438 688h0M438 732h0M438 749h0M437 763h0M438 771h0M438 771h0M437 770h0M437 775h0M437 779h0M437 789h0M437 792h0M436 795h0M437 805h0M436 808h0M436 806h0M437 813h0M436 812h0M437 816h0M438 821h0M436 820h0M435 820h0M438 826h0M435 830h0M435 828h0M436 836h0M438 840h0M436 853h0M435 852h0M435 851h0M438 860h0M437 859h0M436 859h0M437 862h0M437 861h0M437 867h0M436 878h0M437 878h0M436 876h0M435 879h0M437 882h0M436 886h0M438 889h0M435 900h0M437 902h0M437 916h0M439 609h0M439 660h0M438 668h0M441 680h0M440 682h0M441 715h0M439 717h0M438 726h0M439 733h0M440 748h0M439 754h0M439 758h0M440 762h0M440 767h0M440 772h0M439 775h0M438 783h0M441 796h0M438 797h0M439 801h0M439 805h0M440 808h0M439 806h0M439 814h0M441 814h0M439 817h0M438 829h0M441 828h0M439 839h0M440 845h0M438 844h0M440 845h0M440 863h0M439 860h0M441 866h0M440 867h0M441 873h0M439 880h0M439 882h0M439 890h0M439 895h0M441 905h0M440 914h0M438 934h0M440 935h0M441 638h0M442 691h0M443 695h0M442 697h0M442 715h0M442 719h0M442 727h0M442 732h0M443 742h0M442 744h0M442 747h0M443 763h0M444 764h0M441 766h0M443 785h0M442 784h0M443 786h0M443 790h0M443 791h0M444 798h0M442 799h0M443 800h0M443 800h0M442 806h0M442 806h0M442 808h0M442 808h0M442 810h0M443 816h0M443 821h0M442 822h0M442 822h0M444 826h0M442 829h0M441 827h0M444 829h0M443 840h0M444 841h0M441 847h0M442 850h0M442 849h0M442 852h0M441 857h0M443 862h0M443 863h0M442 865h0M442 867h0M441 866h0M443 880h0M444 879h0M444 881h0M441 886h0M441 886h0M444 907h0M446 609h0M445 641h0M446 674h0M444 705h0M446 724h0M444 725h0M446 746h0M445 753h0M445 762h0M445 767h0M446 770h0M446 772h0M446 772h0M446 778h0M444 777h0M446 783h0M444 786h0M447 788h0M446 793h0M446 794h0M445 797h0M446 798h0M445 799h0M445 800h0M445 802h0M445 808h0M445 810h0M446 819h0M446 836h0M446 840h0M445 841h0M444 840h0M446 842h0M445 842h0M447 845h0M444 850h0M447 853h0M447 851h0M446 855h0M447 855h0M447 858h0M445 867h0M445 866h0M444 872h0M445 886h0M446 893h0M446 901h0M446 902h0M446 914h0M447 914h0M449 673h0M450 698h0M448 721h0M449 726h0M449 728h0M448 729h0M448 733h0M447 741h0M449 761h0M448 764h0M450 764h0M449 767h0M449 769h0M449 767h0M447 768h0M448 780h0M448 785h0M448 785h0M450 790h0M448 793h0M449 799h0M450 805h0M449 804h0M448 803h0M449 808h0M450 818h0M449 819h0M449 822h0M447 824h0M447 825h0M449 825h0M450 832h0M448 852h0M448 860h0M448 861h0M448 866h0M448 864h0M448 868h0M448 867h0M448 874h0M449 899h0M449 920h0M449 949h0M451 715h0M451 721h0M452 732h0M450 735h0M452 742h0M451 747h0M452 749h0M450 770h0M450 776h0M450 776h0M452 783h0M452 782h0M451 791h0M451 793h0M452 795h0M451 796h0M452 798h0M451 804h0M452 805h0M453 812h0M451 819h0M452 820h0M452 819h0M451 823h0M452 846h0M452 845h0M451 851h0M450 851h0M450 853h0M452 865h0M451 866h0M453 870h0M452 877h0M450 881h0M453 889h0M451 910h0M452 935h0M455 645h0M455 667h0M453 684h0M455 711h0M453 722h0M456 719h0M456 729h0M456 732h0M455 736h0M456 736h0M453 738h0M456 745h0M455 746h0M453 754h0M454 753h0M456 756h0M454 760h0M455 768h0M455 769h0M454 771h0M456 778h0M456 781h0M454 780h0M455 783h0M455 789h0M453 796h0M454 797h0M455 801h0M455 812h0M454 813h0M454 818h0M454 824h0M456 822h0M456 822h0M454 826h0M454 835h0M455 847h0M454 869h0M454 869h0M453 872h0M454 882h0M454 883h0M455 885h0M453 890h0M454 892h0M456 920h0M455 939h0M454 952h0M457 622h0M457 654h0M456 667h0M459 674h0M457 674h0M458 687h0M457 714h0M457 718h0M457 718h0M457 728h0M458 732h0M457 733h0M458 748h0M457 755h0M459 760h0M458 760h0M459 766h0M457 772h0M458 778h0M457 779h0M458 790h0M456 792h0M457 803h0M459 820h0M459 819h0M459 823h0M456 829h0M456 842h0M458 840h0M458 851h0M459 852h0M459 858h0M457 901h0M457 908h0M462 690h0M459 705h0M460 711h0M460 722h0M460 724h0M461 723h0M460 724h0M459 724h0M462 727h0M460 732h0M459 733h0M461 744h0M459 747h0M460 749h0M461 750h0M460 751h0M462 763h0M462 766h0M460 764h0M459 770h0M459 770h0M461 774h0M462 783h0M461 788h0M459 789h0M460 793h0M460 800h0M459 818h0M461 821h0M460 819h0M461 823h0M460 826h0M460 827h0M461 838h0M462 839h0M462 847h0M461 860h0M461 866h0M462 868h0M460 877h0M462 881h0M460 885h0M461 906h0M459 913h0M461 923h0M464 651h0M463 661h0M464 667h0M462 669h0M462 683h0M464 692h0M465 725h0M465 729h0M463 738h0M462 738h0M463 749h0M463 759h0M464 769h0M463 771h0M462 778h0M462 779h0M464 777h0M462 779h0M462 786h0M463 789h0M465 789h0M463 797h0M464 801h0M464 804h0M463 813h0M464 817h0M463 827h0M463 841h0M463 842h0M463 861h0M464 876h0M463 939h0M467 692h0M465 705h0M468 712h0M466 715h0M467 716h0M465 726h0M467 740h0M466 745h0M466 744h0M466 746h0M465 749h0M468 751h0M465 756h0M467 759h0M467 764h0M466 766h0M466 775h0M465 779h0M466 782h0M466 783h0M466 784h0M466 788h0M466 787h0M466 790h0M467 793h0M467 795h0M465 799h0M467 799h0M466 811h0M467 811h0M467 812h0M467 816h0M465 828h0M465 839h0M466 837h0M466 850h0M468 853h0M466 854h0M467 872h0M466 874h0M466 883h0M467 889h0M468 897h0M467 901h0M467 908h0M468 914h0M467 955h0M470 519h0M470 620h0M471 646h0M468 653h0M468 683h0M469 721h0M470 731h0M470 728h0M470 737h0M468 735h0M470 739h0M469 744h0M471 746h0M470 755h0M469 760h0M471 764h0M471 768h0M468 770h0M468 779h0M469 780h0M470 781h0M470 785h0M471 787h0M470 793h0M469 795h0M470 795h0M470 799h0M470 798h0M469 803h0M469 803h0M470 809h0M469 812h0M471 875h0M468 918h0M469 928h0M471 956h0M473 663h0M472 668h0M473 691h0M472 691h0M472 689h0M472 703h0M471 705h0M472 707h0M472 716h0M472 723h0M471 727h0M474 731h0M471 732h0M472 735h0M472 740h0M474 747h0M471 749h0M473 757h0M473 759h0M474 764h0M474 769h0M474 772h0M473 771h0M473 784h0M471 785h0M474 788h0M471 801h0M471 809h0M473 808h0M471 814h0M471 822h0M472 845h0M473 848h0M474 869h0M474 885h0M472 911h0M475 663h0M477 671h0M475 680h0M476 699h0M476 709h0M477 715h0M476 722h0M475 727h0M475 732h0M475 737h0M477 738h0M476 743h0M476 744h0M475 764h0M475 762h0M476 768h0M475 772h0M475 773h0M475 776h0M475 777h0M476 780h0M475 780h0M475 783h0M474 783h0M474 788h0M474 786h0M475 785h0M476 785h0M476 789h0M477 794h0M475 796h0M477 799h0M477 800h0M476 807h0M476 814h0M475 818h0M477 819h0M474 832h0M475 835h0M476 836h0M475 838h0M475 855h0M475 871h0M475 873h0M475 875h0M475 886h0M480 589h0M478 650h0M480 652h0M478 653h0M479 678h0M479 693h0M480 725h0M478 728h0M480 730h0M477 740h0M478 741h0M479 746h0M477 750h0M479 755h0M480 764h0M480 763h0M479 765h0M480 766h0M480 765h0M479 767h0M479 776h0M477 776h0M479 775h0M480 776h0M479 777h0M478 781h0M480 781h0M478 781h0M480 784h0M478 793h0M479 803h0M477 802h0M479 809h0M480 811h0M480 817h0M479 826h0M479 830h0M478 832h0M478 832h0M479 841h0M478 848h0M480 864h0M478 872h0M478 899h0M477 901h0M477 958h0M480 551h0M480 582h0M481 585h0M481 627h0M483 640h0M481 668h0M482 699h0M482 702h0M482 708h0M481 711h0M481 717h0M482 720h0M482 719h0M482 725h0M480 729h0M483 729h0M481 734h0M482 731h0M482 735h0M480 735h0M483 738h0M481 739h0M480 742h0M483 741h0M483 741h0M483 741h0M481 743h0M480 746h0M482 747h0M481 752h0M480 751h0M482 753h0M482 754h0M481 759h0M480 763h0M482 764h0M481 761h0M482 764h0M480 769h0M480 770h0M481 783h0M482 794h0M480 798h0M480 812h0M483 826h0M480 828h0M482 851h0M483 861h0M480 881h0M481 928h0M483 641h0M485 647h0M485 663h0M484 695h0M483 710h0M485 716h0M485 721h0M485 723h0M485 728h0M485 726h0M485 729h0M484 732h0M485 735h0M486 739h0M484 740h0M485 746h0M484 756h0M483 758h0M484 763h0M484 763h0M486 765h0M484 770h0M484 769h0M484 768h0M485 767h0M486 772h0M483 785h0M484 785h0M483 788h0M484 799h0M485 799h0M485 801h0M484 802h0M485 807h0M484 816h0M484 822h0M485 832h0M484 838h0M485 842h0M484 839h0M486 873h0M487 476h0M488 603h0M487 619h0M487 638h0M487 673h0M487 674h0M487 692h0M486 697h0M487 707h0M486 705h0M488 706h0M487 715h0M487 715h0M487 717h0M487 719h0M488 721h0M487 733h0M487 733h0M486 731h0M486 734h0M489 736h0M487 740h0M486 752h0M488 763h0M487 766h0M489 777h0M488 780h0M488 786h0M489 790h0M489 793h0M487 796h0M486 809h0M488 835h0M488 835h0M488 838h0M488 836h0M488 841h0M487 844h0M489 873h0M488 876h0M486 882h0M489 611h0M491 632h0M489 633h0M490 642h0M492 651h0M489 655h0M489 661h0M492 659h0M492 694h0M490 695h0M490 700h0M490 702h0M491 707h0M489 710h0M489 713h0M491 714h0M489 713h0M492 723h0M491 733h0M491 732h0M491 735h0M491 737h0M491 741h0M490 744h0M490 746h0M492 747h0M489 747h0M491 746h0M489 752h0M490 754h0M491 758h0M491 760h0M491 765h0M490 766h0M491 769h0M490 768h0M490 774h0M492 776h0M490 778h0M489 794h0M490 795h0M490 800h0M490 810h0M491 813h0M492 824h0M489 833h0M491 832h0M489 833h0M491 834h0M490 833h0M491 837h0M491 842h0M489 839h0M492 843h0M490 851h0M490 861h0M490 919h0M490 952h0M494 648h0M495 657h0M493 690h0M493 697h0M494 703h0M493 706h0M493 710h0M494 715h0M493 718h0M494 726h0M495 727h0M492 730h0M494 732h0M492 732h0M493 731h0M492 735h0M492 739h0M495 746h0M494 745h0M493 748h0M494 754h0M495 755h0M494 758h0M493 756h0M495 756h0M493 760h0M494 764h0M492 764h0M495 766h0M495 766h0M493 770h0M494 768h0M493 771h0M495 770h0M493 774h0M495 777h0M492 779h0M494 789h0M495 812h0M493 810h0M494 820h0M495 821h0M494 828h0M494 831h0M494 842h0M492 846h0M493 851h0M494 856h0M493 888h0M494 891h0M493 908h0M493 914h0M495 922h0M496 654h0M496 682h0M498 687h0M497 690h0M496 694h0M495 694h0M497 698h0M496 705h0M498 705h0M496 709h0M497 715h0M498 717h0M497 721h0M497 720h0M497 721h0M496 724h0M495 728h0M498 730h0M495 729h0M496 731h0M496 728h0M497 731h0M497 733h0M496 735h0M498 737h0M497 738h0M495 740h0M498 742h0M498 746h0M496 749h0M497 747h0M496 751h0M496 751h0M498 751h0M495 754h0M498 754h0M497 755h0M496 752h0M496 755h0M496 757h0M497 760h0M497 761h0M496 762h0M497 770h0M498 771h0M497 780h0M495 786h0M497 793h0M495 800h0M495 812h0M497 809h0M497 820h0M496 822h0M495 826h0M497 826h0M497 827h0M496 835h0M496 835h0M498 847h0M497 847h0M497 852h0M496 927h0M501 458h0M500 613h0M500 621h0M501 640h0M499 652h0M498 658h0M501 670h0M499 672h0M499 680h0M500 689h0M500 692h0M499 692h0M500 693h0M498 698h0M499 705h0M500 706h0M500 708h0M498 708h0M499 712h0M500 711h0M499 712h0M499 714h0M499 715h0M501 718h0M499 721h0M499 721h0M500 719h0M499 726h0M499 726h0M500 726h0M501 726h0M498 729h0M499 732h0M499 734h0M499 746h0M500 748h0M499 751h0M499 757h0M501 763h0M500 763h0M499 770h0M500 772h0M499 773h0M499 778h0M498 786h0M501 788h0M499 792h0M499 793h0M499 800h0M500 802h0M499 812h0M500 813h0M500 817h0M500 819h0M500 821h0M499 819h0M501 822h0M500 822h0M499 830h0M500 832h0M499 833h0M500 834h0M499 835h0M498 836h0M500 839h0M500 838h0M500 856h0M501 857h0M498 863h0M501 865h0M498 867h0M500 868h0M498 872h0M499 885h0M500 892h0M500 890h0M499 896h0M502 601h0M502 621h0M502 626h0M502 635h0M504 653h0M502 665h0M504 674h0M502 680h0M502 678h0M502 685h0M503 688h0M502 688h0M503 702h0M504 705h0M503 708h0M502 711h0M502 714h0M501 724h0M503 723h0M501 728h0M502 731h0M502 733h0M504 743h0M501 742h0M501 743h0M501 745h0M501 747h0M503 752h0M503 755h0M504 754h0M503 752h0M502 755h0M503 758h0M502 760h0M504 760h0M501 762h0M501 765h0M504 766h0M504 769h0M503 782h0M502 784h0M504 788h0M502 795h0M504 799h0M502 801h0M502 805h0M503 813h0M503 817h0M501 818h0M504 818h0M502 816h0M504 821h0M502 823h0M502 823h0M502 828h0M501 834h0M502 852h0M504 855h0M502 858h0M502 864h0M502 867h0M502 884h0M502 884h0M502 897h0M503 935h0M506 454h0M507 615h0M504 619h0M506 620h0M506 632h0M507 633h0M506 637h0M507 650h0M505 653h0M506 668h0M505 676h0M505 683h0M505 681h0M505 684h0M505 685h0M505 689h0M505 687h0M505 698h0M505 704h0M506 713h0M506 714h0M506 715h0M507 717h0M505 720h0M506 722h0M506 721h0M504 719h0M504 728h0M507 727h0M505 726h0M506 727h0M506 736h0M506 734h0M505 739h0M505 738h0M505 741h0M505 744h0M505 750h0M504 753h0M506 754h0M506 753h0M507 755h0M505 757h0M505 761h0M504 769h0M506 779h0M505 783h0M504 783h0M505 783h0M504 786h0M506 799h0M505 805h0M505 805h0M505 810h0M506 816h0M506 819h0M504 822h0M506 823h0M507 827h0M507 824h0M504 826h0M505 827h0M506 829h0M506 830h0M505 833h0M506 849h0M506 856h0M506 867h0M506 867h0M507 872h0M505 873h0M505 880h0M507 573h0M510 604h0M507 624h0M507 635h0M507 658h0M509 661h0M509 665h0M508 678h0M510 684h0M507 699h0M508 720h0M510 722h0M508 726h0M508 729h0M507 733h0M509 738h0M510 742h0M509 745h0M509 749h0M509 750h0M508 769h0M507 768h0M510 774h0M509 795h0M508 804h0M510 809h0M509 809h0M508 810h0M508 811h0M507 813h0M508 818h0M510 815h0M508 820h0M508 820h0M510 818h0M509 820h0M507 821h0M510 824h0M507 821h0M509 829h0M510 838h0M508 872h0M509 873h0M510 875h0M512 476h0M512 499h0M512 507h0M510 569h0M511 587h0M512 613h0M511 636h0M512 644h0M512 656h0M513 676h0M511 684h0M511 684h0M511 689h0M511 697h0M513 707h0M511 710h0M513 709h0M512 713h0M510 710h0M512 715h0M512 716h0M511 724h0M511 723h0M511 728h0M513 726h0M513 727h0M511 734h0M512 735h0M511 739h0M513 737h0M512 738h0M512 737h0M510 742h0M512 745h0M511 746h0M512 751h0M512 749h0M512 752h0M513 751h0M513 750h0M512 755h0M513 762h0M511 764h0M512 763h0M512 768h0M512 770h0M512 784h0M513 795h0M513 796h0M512 797h0M513 799h0M511 802h0M510 801h0M512 803h0M510 818h0M511 827h0M513 828h0M513 831h0M511 830h0M510 836h0M512 849h0M512 852h0M511 851h0M512 892h0M514 494h0M514 523h0M516 557h0M516 579h0M514 619h0M514 645h0M513 666h0M515 676h0M515 682h0M514 680h0M513 690h0M515 690h0M515 694h0M514 694h0M513 697h0M516 699h0M514 704h0M513 710h0M515 711h0M515 711h0M515 716h0M516 715h0M514 719h0M514 720h0M514 723h0M513 725h0M516 727h0M515 728h0M515 732h0M515 737h0M514 739h0M515 743h0M516 743h0M516 741h0M515 747h0M515 752h0M514 757h0M513 757h0M514 758h0M514 767h0M514 769h0M515 771h0M515 773h0M515 781h0M515 789h0M516 791h0M514 790h0M514 788h0M516 796h0M514 797h0M513 795h0M513 801h0M514 806h0M514 809h0M514 807h0M515 812h0M513 809h0M513 814h0M514 822h0M515 826h0M515 827h0M515 827h0M514 828h0M513 831h0M513 840h0M514 849h0M516 861h0M515 878h0M517 496h0M517 515h0M519 544h0M518 568h0M518 599h0M518 601h0M518 625h0M518 666h0M518 674h0M516 675h0M517 677h0M518 686h0M519 700h0M519 699h0M518 703h0M517 707h0M517 710h0M516 712h0M517 711h0M517 718h0M519 721h0M518 720h0M518 724h0M519 724h0M518 725h0M517 729h0M518 732h0M517 734h0M517 741h0M518 740h0M517 742h0M518 745h0M518 752h0M517 755h0M518 763h0M517 763h0M517 775h0M519 777h0M518 782h0M519 789h0M517 805h0M517 808h0M518 808h0M517 810h0M517 816h0M518 815h0M517 821h0M518 820h0M516 824h0M517 827h0M518 829h0M518 831h0M517 839h0M518 838h0M518 849h0M518 853h0M517 853h0M517 862h0M516 886h0M517 887h0M520 532h0M521 543h0M520 582h0M521 603h0M519 629h0M521 633h0M520 646h0M520 654h0M522 660h0M519 663h0M521 665h0M520 667h0M521 673h0M520 677h0M519 681h0M522 687h0M521 699h0M521 700h0M522 700h0M520 703h0M520 704h0M520 706h0M520 707h0M519 708h0M521 712h0M519 717h0M521 721h0M522 730h0M520 736h0M520 740h0M520 745h0M522 743h0M519 747h0M519 747h0M519 779h0M519 785h0M521 789h0M521 794h0M521 795h0M519 806h0M521 805h0M521 806h0M519 812h0M521 817h0M521 817h0M520 818h0M521 832h0M520 830h0M522 844h0M519 854h0M521 859h0M521 861h0M524 526h0M524 585h0M524 594h0M523 606h0M522 614h0M523 630h0M525 652h0M523 666h0M523 672h0M523 675h0M524 675h0M523 680h0M525 682h0M524 687h0M524 689h0M523 701h0M523 710h0M525 711h0M524 713h0M524 720h0M524 722h0M523 724h0M523 727h0M524 726h0M524 739h0M523 739h0M525 739h0M523 746h0M525 746h0M523 747h0M523 750h0M524 751h0M524 750h0M522 751h0M523 766h0M524 769h0M525 803h0M523 806h0M523 805h0M523 806h0M523 806h0M523 806h0M524 813h0M522 823h0M522 837h0M522 843h0M523 851h0M524 861h0M523 873h0M522 879h0M523 880h0M526 482h0M526 568h0M527 576h0M526 609h0M528 618h0M527 652h0M527 654h0M527 655h0M527 662h0M526 672h0M527 673h0M526 674h0M528 677h0M527 676h0M527 682h0M525 683h0M525 688h0M526 701h0M527 701h0M526 705h0M527 708h0M526 708h0M525 708h0M527 712h0M526 711h0M526 719h0M526 719h0M527 723h0M526 724h0M526 726h0M525 732h0M526 736h0M527 739h0M526 737h0M527 754h0M526 757h0M527 757h0M525 765h0M526 786h0M526 790h0M528 793h0M526 796h0M528 799h0M527 802h0M528 803h0M525 804h0M526 810h0M526 811h0M526 814h0M528 818h0M527 826h0M527 842h0M526 848h0M527 863h0M526 889h0M528 888h0M526 899h0M527 898h0M528 489h0M529 665h0M528 670h0M529 673h0M529 684h0M529 685h0M530 688h0M531 692h0M530 713h0M529 716h0M529 717h0M531 720h0M529 720h0M530 722h0M531 723h0M529 723h0M531 724h0M529 723h0M530 727h0M531 727h0M531 728h0M529 731h0M530 740h0M528 738h0M529 739h0M530 740h0M529 740h0M529 744h0M531 745h0M529 745h0M528 748h0M528 750h0M531 755h0M529 757h0M531 759h0M530 759h0M529 764h0M530 765h0M528 770h0M531 779h0M530 797h0M529 799h0M529 800h0M529 800h0M530 804h0M530 805h0M531 808h0M530 809h0M530 815h0M528 814h0M529 817h0M531 830h0M530 841h0M531 853h0M529 859h0M529 869h0M529 870h0M530 898h0M534 582h0M531 593h0M533 629h0M532 641h0M533 643h0M534 649h0M533 652h0M532 656h0M534 656h0M532 661h0M532 661h0M532 659h0M533 662h0M533 665h0M532 668h0M531 670h0M533 680h0M533 682h0M534 684h0M531 685h0M532 690h0M532 690h0M533 696h0M534 701h0M532 706h0M533 705h0M533 709h0M534 716h0M533 717h0M533 716h0M532 724h0M532 730h0M532 728h0M531 732h0M532 735h0M531 743h0M534 744h0M533 747h0M531 748h0M532 746h0M533 750h0M533 755h0M533 759h0M531 759h0M533 761h0M534 774h0M534 785h0M532 791h0M533 790h0M531 793h0M533 796h0M532 798h0M532 803h0M533 809h0M534 812h0M533 812h0M533 816h0M533 818h0M531 821h0M533 861h0M531 863h0M533 866h0M534 495h0M535 504h0M534 563h0M536 622h0M536 650h0M534 657h0M537 657h0M536 659h0M535 674h0M535 675h0M534 683h0M536 685h0M537 687h0M536 688h0M534 690h0M534 694h0M534 694h0M535 697h0M535 696h0M536 700h0M536 705h0M536 707h0M536 707h0M534 712h0M536 713h0M534 724h0M535 724h0M535 726h0M537 729h0M534 732h0M535 737h0M536 745h0M535 746h0M536 752h0M535 768h0M535 777h0M536 776h0M537 788h0M535 794h0M535 801h0M536 801h0M535 809h0M537 806h0M535 806h0M535 826h0M535 856h0M537 858h0M535 867h0M534 880h0M537 883h0M534 889h0M537 508h0M537 524h0M538 566h0M539 568h0M538 593h0M539 610h0M537 654h0M539 655h0M540 658h0M538 660h0M539 661h0M538 667h0M537 665h0M539 670h0M539 671h0M539 672h0M538 676h0M539 675h0M537 675h0M537 678h0M540 678h0M538 682h0M538 682h0M539 686h0M539 685h0M539 687h0M538 691h0M539 694h0M538 695h0M539 697h0M540 699h0M537 699h0M539 704h0M537 704h0M537 706h0M539 706h0M540 713h0M538 715h0M539 715h0M537 721h0M537 735h0M539 739h0M539 741h0M537 741h0M539 741h0M537 743h0M538 744h0M539 754h0M537 758h0M538 760h0M540 775h0M540 779h0M537 784h0M539 798h0M540 798h0M539 798h0M537 801h0M540 806h0M538 806h0M539 809h0M538 838h0M537 842h0M537 855h0M540 863h0M538 864h0M541 499h0M540 564h0M542 573h0M543 603h0M543 607h0M542 617h0M542 624h0M541 631h0M543 645h0M541 646h0M542 651h0M540 657h0M542 661h0M543 661h0M541 669h0M541 674h0M541 681h0M543 681h0M542 690h0M543 691h0M542 692h0M542 693h0M540 701h0M541 719h0M543 719h0M542 736h0M541 736h0M542 734h0M540 740h0M540 740h0M542 742h0M540 744h0M543 754h0M542 757h0M542 756h0M541 761h0M541 771h0M542 771h0M542 778h0M543 783h0M542 791h0M542 795h0M540 815h0M543 843h0M543 846h0M540 862h0M541 862h0M542 880h0M546 509h0M543 634h0M545 641h0M544 644h0M545 649h0M545 652h0M546 656h0M546 655h0M544 657h0M545 664h0M543 675h0M544 677h0M545 675h0M544 679h0M546 677h0M543 681h0M545 683h0M546 685h0M546 685h0M545 687h0M545 692h0M544 690h0M544 690h0M544 694h0M545 699h0M546 702h0M543 703h0M544 702h0M545 707h0M545 705h0M545 710h0M544 712h0M545 713h0M544 713h0M544 715h0M543 717h0M544 719h0M546 722h0M545 720h0M546 722h0M544 725h0M544 727h0M545 733h0M545 735h0M543 739h0M545 737h0M544 742h0M543 745h0M544 749h0M544 749h0M546 751h0M546 782h0M544 787h0M544 792h0M544 792h0M543 807h0M544 812h0M543 819h0M544 824h0M545 824h0M545 825h0M545 835h0M543 853h0M548 510h0M547 525h0M547 569h0M549 584h0M546 609h0M547 629h0M547 631h0M547 640h0M547 644h0M548 646h0M547 648h0M548 652h0M547 655h0M546 657h0M547 661h0M547 668h0M549 666h0M547 665h0M549 668h0M548 678h0M547 685h0M547 683h0M547 685h0M547 687h0M547 691h0M547 695h0M546 692h0M549 696h0M548 700h0M548 704h0M547 706h0M548 707h0M546 707h0M546 708h0M547 712h0M549 719h0M548 729h0M547 729h0M549 734h0M546 738h0M547 741h0M549 740h0M549 748h0M547 750h0M549 754h0M547 759h0M548 761h0M547 770h0M549 777h0M547 786h0M549 790h0M547 797h0M547 804h0M546 807h0M547 816h0M549 827h0M548 847h0M548 850h0M546 854h0M548 854h0M548 887h0M552 507h0M550 519h0M552 555h0M550 571h0M551 615h0M550 636h0M551 642h0M551 647h0M552 649h0M549 651h0M550 655h0M551 658h0M550 660h0M552 663h0M551 667h0M551 667h0M552 669h0M550 673h0M549 679h0M551 677h0M549 685h0M551 684h0M552 686h0M551 687h0M549 691h0M550 690h0M552 694h0M552 695h0M551 693h0M552 694h0M551 700h0M549 699h0M550 700h0M549 698h0M550 701h0M551 706h0M549 708h0M551 709h0M549 714h0M550 714h0M550 718h0M549 720h0M551 722h0M552 723h0M550 725h0M551 727h0M551 751h0M552 789h0M551 888h0M549 925h0M553 467h0M554 496h0M553 568h0M553 576h0M553 642h0M553 642h0M553 644h0M554 650h0M553 648h0M553 656h0M553 665h0M554 663h0M555 666h0M552 665h0M554 669h0M552 672h0M555 679h0M552 682h0M555 687h0M555 693h0M552 695h0M554 699h0M552 698h0M552 702h0M554 701h0M555 708h0M555 710h0M554 715h0M555 722h0M554 722h0M554 731h0M554 739h0M552 740h0M555 740h0M555 748h0M554 746h0M554 776h0M554 790h0M554 795h0M553 795h0M554 800h0M554 807h0M553 808h0M555 831h0M553 832h0M553 830h0M553 835h0M554 850h0M554 855h0M554 862h0M555 874h0M556 545h0M556 587h0M557 589h0M557 615h0M555 617h0M556 628h0M558 630h0M556 633h0M557 637h0M557 640h0M557 641h0M557 644h0M556 648h0M556 659h0M557 657h0M557 658h0M558 658h0M556 660h0M558 661h0M556 665h0M558 664h0M557 662h0M558 667h0M557 670h0M557 682h0M557 685h0M556 686h0M556 686h0M555 690h0M557 692h0M555 691h0M557 693h0M557 693h0M555 694h0M555 696h0M555 697h0M557 697h0M558 698h0M558 709h0M556 710h0M556 711h0M556 719h0M556 724h0M556 724h0M557 723h0M555 725h0M555 727h0M557 726h0M555 728h0M556 728h0M556 732h0M555 732h0M557 735h0M557 791h0M558 800h0M556 824h0M557 828h0M556 832h0M555 837h0M560 589h0M559 610h0M559 622h0M560 631h0M561 639h0M561 646h0M560 644h0M559 648h0M559 659h0M560 661h0M559 664h0M559 665h0M558 670h0M559 670h0M560 675h0M558 675h0M560 675h0M561 679h0M560 677h0M559 684h0M560 686h0M560 687h0M559 687h0M559 691h0M558 690h0M559 691h0M560 694h0M558 697h0M560 697h0M558 699h0M559 703h0M559 701h0M560 702h0M560 706h0M558 707h0M559 708h0M560 713h0M559 714h0M559 713h0M559 717h0M560 720h0M559 721h0M559 721h0M560 723h0M559 723h0M558 727h0M558 726h0M559 734h0M560 739h0M558 739h0M559 739h0M560 767h0M560 776h0M558 788h0M559 793h0M560 825h0M559 842h0M559 854h0M561 909h0M564 479h0M561 488h0M562 513h0M564 547h0M564 549h0M563 561h0M562 625h0M563 628h0M562 626h0M561 643h0M562 647h0M562 649h0M562 650h0M562 651h0M563 653h0M564 652h0M561 652h0M562 654h0M564 659h0M564 659h0M562 665h0M562 666h0M562 667h0M563 665h0M562 671h0M562 671h0M562 675h0M563 674h0M561 680h0M561 682h0M562 682h0M563 683h0M562 686h0M561 687h0M561 691h0M562 694h0M563 693h0M562 693h0M563 697h0M564 702h0M563 705h0M563 707h0M562 707h0M564 712h0M561 716h0M563 718h0M564 716h0M563 716h0M561 733h0M563 735h0M562 741h0M562 747h0M564 753h0M562 753h0M561 755h0M564 760h0M563 761h0M562 763h0M564 762h0M562 765h0M563 816h0M564 830h0M562 827h0M563 860h0M563 871h0M561 893h0M561 892h0M566 480h0M565 498h0M566 517h0M565 520h0M566 526h0M565 543h0M565 553h0M567 575h0M565 598h0M565 624h0M565 629h0M566 627h0M567 631h0M565 637h0M564 639h0M567 640h0M564 644h0M564 646h0M565 647h0M567 647h0M565 652h0M567 652h0M566 653h0M564 654h0M564 662h0M566 662h0M564 665h0M566 668h0M565 665h0M565 668h0M566 677h0M567 677h0M564 677h0M566 681h0M566 682h0M565 681h0M564 684h0M565 686h0M565 689h0M564 687h0M565 692h0M565 692h0M566 694h0M566 692h0M567 696h0M564 704h0M566 706h0M565 708h0M564 710h0M566 714h0M567 714h0M566 715h0M565 717h0M566 720h0M564 729h0M565 728h0M564 735h0M567 751h0M565 756h0M566 755h0M566 758h0M566 761h0M567 764h0M565 765h0M565 768h0M566 778h0M565 777h0M565 779h0M566 813h0M567 822h0M564 909h0M567 490h0M570 525h0M568 554h0M569 560h0M568 612h0M568 614h0M570 623h0M568 623h0M567 626h0M570 624h0M569 627h0M569 630h0M569 634h0M568 641h0M568 642h0M568 645h0M569 652h0M568 652h0M568 654h0M568 654h0M567 658h0M569 660h0M569 663h0M567 665h0M567 669h0M568 669h0M568 676h0M568 675h0M568 674h0M569 676h0M567 676h0M568 680h0M568 678h0M567 681h0M570 681h0M569 681h0M570 683h0M567 686h0M569 691h0M570 692h0M568 691h0M567 694h0M569 696h0M570 697h0M569 700h0M568 702h0M568 706h0M568 710h0M568 707h0M568 711h0M567 711h0M568 719h0M567 722h0M569 733h0M570 738h0M569 755h0M570 757h0M570 762h0M569 768h0M570 776h0M570 779h0M570 791h0M569 800h0M569 833h0M569 836h0M567 834h0M569 860h0M568 870h0M571 502h0M572 506h0M572 564h0M570 603h0M572 626h0M571 636h0M572 638h0M572 637h0M572 641h0M570 640h0M571 641h0M572 645h0M573 651h0M572 651h0M571 650h0M571 651h0M571 654h0M570 660h0M572 661h0M572 662h0M570 659h0M570 664h0M571 663h0M571 664h0M572 671h0M572 668h0M570 669h0M573 670h0M570 668h0M571 676h0M571 678h0M572 678h0M571 683h0M572 683h0M570 685h0M572 689h0M570 690h0M572 692h0M572 702h0M571 702h0M571 703h0M572 720h0M572 719h0M572 721h0M570 723h0M570 729h0M573 743h0M572 748h0M573 754h0M573 752h0M571 778h0M571 785h0M572 814h0M572 827h0M571 834h0M571 848h0M572 853h0M572 861h0M571 868h0M572 877h0M576 497h0M575 547h0M574 565h0M576 612h0M575 623h0M574 624h0M574 628h0M575 631h0M573 638h0M573 639h0M573 640h0M576 649h0M573 648h0M574 653h0M574 653h0M576 656h0M575 656h0M575 657h0M575 657h0M575 659h0M574 659h0M575 664h0M574 663h0M574 664h0M575 666h0M575 666h0M574 670h0M575 670h0M575 670h0M574 673h0M575 675h0M575 677h0M574 679h0M575 679h0M575 679h0M574 685h0M573 685h0M575 684h0M576 686h0M576 690h0M574 691h0M574 693h0M574 696h0M576 700h0M573 717h0M574 726h0M575 727h0M575 733h0M573 736h0M575 734h0M574 748h0M574 752h0M576 749h0M576 767h0M576 768h0M573 777h0M574 783h0M575 821h0M574 824h0M573 831h0M573 840h0M573 864h0M577 372h0M576 409h0M577 475h0M579 494h0M578 547h0M578 563h0M578 567h0M577 598h0M577 603h0M577 628h0M576 626h0M576 631h0M579 630h0M577 630h0M577 631h0M576 634h0M577 638h0M577 636h0M578 637h0M576 639h0M578 640h0M578 641h0M577 641h0M576 639h0M578 643h0M576 643h0M578 645h0M576 646h0M577 647h0M576 649h0M578 648h0M577 650h0M578 652h0M576 653h0M577 654h0M577 656h0M579 659h0M577 659h0M579 664h0M579 668h0M579 665h0M578 673h0M577 676h0M577 674h0M577 677h0M577 679h0M578 684h0M578 689h0M577 689h0M577 689h0M578 690h0M576 695h0M579 697h0M577 699h0M576 701h0M577 705h0M577 709h0M577 709h0M577 752h0M578 763h0M576 761h0M578 780h0M576 784h0M576 795h0M577 803h0M579 810h0M578 817h0M578 826h0M577 841h0M578 844h0M578 856h0M576 856h0M579 430h0M582 457h0M581 462h0M582 505h0M581 522h0M581 556h0M580 592h0M581 605h0M580 614h0M581 614h0M581 634h0M581 638h0M581 639h0M580 638h0M579 641h0M579 646h0M581 648h0M581 652h0M582 652h0M580 655h0M582 654h0M582 655h0M580 657h0M581 659h0M582 659h0M580 660h0M580 660h0M580 660h0M580 660h0M581 663h0M581 663h0M580 663h0M580 662h0M582 663h0M581 666h0M579 669h0M580 672h0M582 676h0M580 674h0M580 680h0M581 688h0M582 688h0M581 690h0M581 691h0M580 694h0M582 697h0M582 702h0M582 708h0M579 710h0M581 710h0M581 711h0M582 713h0M582 718h0M581 725h0M581 723h0M582 725h0M581 729h0M582 730h0M581 745h0M580 756h0M580 759h0M581 763h0M580 764h0M579 769h0M580 775h0M581 797h0M579 803h0M580 802h0M581 808h0M581 808h0M580 823h0M582 830h0M582 843h0M581 851h0M583 510h0M583 545h0M585 549h0M584 577h0M582 593h0M583 596h0M585 610h0M582 611h0M583 614h0M583 615h0M582 621h0M583 626h0M584 628h0M584 635h0M583 637h0M582 639h0M583 643h0M584 643h0M585 643h0M582 646h0M585 645h0M585 645h0M583 645h0M584 649h0M584 650h0M584 647h0M582 649h0M584 651h0M582 653h0M583 651h0M584 654h0M582 659h0M585 657h0M584 658h0M582 662h0M583 660h0M583 660h0M584 664h0M582 663h0M582 663h0M584 665h0M584 667h0M584 665h0M584 667h0M584 669h0M584 671h0M584 670h0M583 669h0M583 671h0M583 671h0M583 673h0M584 674h0M584 677h0M585 676h0M583 676h0M584 682h0M584 685h0M583 686h0M584 688h0M583 690h0M584 693h0M584 692h0M583 696h0M583 698h0M584 705h0M585 711h0M583 718h0M583 719h0M584 721h0M584 723h0M583 742h0M585 744h0M583 746h0M584 750h0M582 755h0M585 753h0M584 757h0M582 760h0M584 759h0M583 763h0M582 797h0M583 814h0M582 824h0M585 824h0M582 829h0M583 838h0M584 896h0M584 899h0M586 434h0M587 483h0M585 595h0M586 599h0M586 606h0M586 609h0M586 609h0M586 608h0M586 612h0M586 615h0M587 617h0M587 620h0M587 627h0M586 630h0M586 631h0M585 634h0M588 637h0M588 639h0M586 643h0M586 646h0M587 645h0M586 646h0M586 646h0M587 649h0M587 651h0M588 652h0M587 656h0M587 658h0M586 657h0M586 658h0M587 658h0M585 657h0M586 657h0M587 661h0M588 662h0M587 662h0M586 661h0M587 663h0M586 664h0M588 662h0M588 664h0M585 665h0M588 665h0M585 662h0M588 663h0M585 666h0M587 669h0M586 672h0M586 672h0M585 674h0M586 677h0M586 675h0M587 674h0M585 675h0M587 676h0M587 680h0M588 678h0M585 679h0M585 681h0M586 681h0M587 683h0M587 686h0M586 684h0M586 686h0M587 688h0M585 687h0M587 687h0M585 694h0M588 693h0M586 695h0M586 693h0M586 701h0M587 703h0M585 704h0M587 704h0M586 719h0M586 720h0M587 726h0M586 739h0M585 755h0M586 757h0M588 757h0M587 768h0M587 784h0M585 789h0M587 796h0M585 802h0M588 818h0M586 833h0M587 850h0M586 856h0M590 502h0M590 519h0M588 583h0M590 589h0M591 599h0M590 599h0M591 608h0M590 616h0M589 616h0M589 617h0M591 617h0M590 620h0M591 628h0M589 629h0M589 630h0M589 634h0M590 636h0M590 635h0M590 640h0M589 639h0M590 639h0M590 639h0M589 642h0M590 645h0M589 647h0M591 646h0M589 645h0M589 649h0M589 648h0M590 648h0M589 653h0M591 653h0M590 655h0M590 657h0M589 658h0M590 658h0M591 661h0M590 662h0M589 661h0M590 662h0M591 660h0M590 665h0M590 662h0M591 665h0M589 665h0M589 665h0M589 667h0M590 668h0M589 669h0M589 671h0M589 674h0M589 674h0M590 674h0M588 674h0M591 675h0M590 677h0M591 674h0M589 674h0M591 680h0M588 679h0M591 677h0M589 687h0M591 687h0M589 697h0M588 700h0M589 699h0M589 759h0M588 777h0M591 783h0M588 787h0M589 795h0M590 795h0M590 810h0M590 834h0M590 838h0M593 560h0M592 595h0M593 601h0M592 607h0M593 609h0M593 614h0M592 615h0M594 619h0M593 618h0M594 621h0M593 624h0M593 629h0M592 626h0M592 630h0M593 631h0M593 634h0M591 632h0M591 636h0M592 640h0M594 645h0M594 644h0M591 647h0M592 646h0M592 647h0M593 649h0M591 649h0M594 653h0M591 651h0M593 652h0M592 653h0M594 653h0M592 654h0M591 658h0M593 659h0M592 660h0M593 661h0M594 660h0M594 660h0M594 660h0M592 662h0M591 663h0M592 666h0M593 666h0M594 667h0M592 668h0M592 671h0M592 669h0M592 668h0M592 670h0M593 671h0M592 671h0M591 672h0M592 673h0M592 680h0M593 680h0M593 685h0M591 686h0M592 686h0M594 691h0M592 693h0M592 695h0M594 696h0M593 701h0M594 706h0M593 704h0M591 715h0M591 737h0M592 737h0M592 752h0M592 760h0M592 769h0M592 772h0M592 777h0M593 784h0M593 796h0M592 806h0M593 807h0M594 841h0M592 885h0M594 911h0M597 519h0M596 524h0M595 565h0M594 580h0M596 594h0M596 594h0M596 612h0M594 615h0M594 615h0M596 627h0M594 627h0M597 627h0M594 631h0M596 634h0M597 634h0M596 633h0M595 635h0M596 635h0M594 636h0M596 638h0M595 643h0M596 641h0M596 641h0M594 646h0M595 644h0M597 646h0M595 647h0M595 647h0M596 647h0M594 649h0M597 650h0M595 648h0M595 652h0M597 651h0M595 653h0M597 656h0M594 653h0M596 656h0M595 661h0M595 662h0M596 661h0M596 663h0M594 663h0M596 664h0M595 664h0M595 664h0M595 664h0M597 667h0M596 665h0M595 666h0M596 671h0M597 668h0M594 672h0M595 676h0M596 676h0M594 680h0M597 679h0M596 679h0M596 678h0M596 682h0M596 686h0M596 684h0M596 685h0M595 691h0M596 696h0M594 712h0M597 717h0M594 722h0M595 733h0M595 745h0M595 748h0M596 748h0M595 752h0M597 757h0M596 779h0M595 780h0M595 789h0M595 807h0M596 812h0M594 904h0M599 359h0M598 455h0M598 472h0M600 492h0M599 564h0M600 567h0M599 582h0M599 588h0M599 599h0M598 599h0M598 611h0M598 613h0M598 614h0M599 620h0M598 620h0M598 621h0M600 622h0M599 621h0M600 626h0M599 625h0M597 624h0M598 628h0M597 628h0M600 629h0M597 630h0M598 630h0M600 633h0M600 637h0M597 640h0M600 641h0M598 642h0M598 643h0M598 643h0M598 646h0M599 645h0M597 646h0M600 646h0M599 649h0M599 650h0M597 648h0M599 651h0M599 652h0M600 656h0M598 655h0M598 656h0M598 658h0M599 658h0M599 660h0M600 661h0M597 660h0M598 662h0M599 664h0M599 667h0M600 671h0M598 670h0M599 669h0M599 673h0M599 673h0M597 676h0M599 679h0M599 677h0M600 679h0M599 681h0M599 683h0M599 683h0M600 686h0M598 688h0M598 689h0M599 698h0M598 696h0M599 702h0M597 724h0M600 750h0M600 764h0M597 781h0M598 784h0M597 789h0M599 793h0M599 809h0M598 807h0M599 810h0M602 529h0M600 559h0M602 567h0M601 582h0M601 588h0M600 588h0M602 592h0M601 592h0M602 591h0M601 598h0M603 598h0M601 606h0M601 609h0M601 611h0M602 613h0M602 614h0M602 614h0M601 619h0M601 618h0M602 618h0M602 625h0M600 623h0M600 625h0M601 629h0M602 628h0M602 631h0M601 629h0M601 635h0M601 636h0M600 635h0M601 640h0M600 644h0M601 641h0M601 644h0M600 646h0M602 648h0M602 650h0M600 648h0M603 647h0M601 649h0M601 648h0M602 653h0M600 654h0M601 657h0M602 658h0M600 656h0M602 656h0M602 663h0M602 665h0M603 662h0M601 663h0M601 667h0M601 665h0M602 668h0M603 666h0M602 669h0M600 669h0M601 671h0M602 670h0M600 671h0M600 672h0M601 673h0M601 673h0M601 676h0M600 681h0M601 682h0M600 685h0M600 686h0M602 691h0M603 704h0M601 717h0M600 722h0M600 725h0M603 723h0M602 728h0M600 737h0M602 745h0M603 749h0M600 754h0M602 754h0M602 759h0M601 763h0M601 768h0M603 778h0M605 411h0M604 471h0M605 474h0M603 522h0M606 573h0M605 576h0M605 580h0M605 584h0M605 588h0M604 589h0M604 591h0M603 591h0M606 600h0M605 608h0M604 606h0M604 614h0M605 613h0M605 616h0M603 618h0M604 619h0M604 622h0M605 621h0M605 625h0M606 624h0M605 628h0M604 630h0M605 630h0M606 635h0M604 640h0M604 643h0M604 641h0M604 642h0M605 643h0M604 642h0M605 646h0M604 645h0M605 648h0M605 647h0M603 650h0M604 648h0M605 648h0M605 651h0M603 652h0M606 652h0M603 652h0M605 652h0M606 651h0M604 653h0M606 654h0M604 656h0M605 657h0M604 658h0M604 657h0M604 658h0M603 657h0M605 662h0M603 660h0M603 659h0M603 660h0M604 664h0M606 663h0M604 664h0M603 664h0M603 665h0M604 668h0M604 665h0M604 666h0M605 668h0M605 670h0M606 668h0M604 671h0M605 675h0M606 677h0M603 678h0M605 684h0M606 683h0M605 684h0M604 685h0M605 687h0M604 690h0M604 692h0M604 707h0M604 712h0M603 718h0M604 725h0M603 760h0M605 759h0M603 788h0M606 792h0M604 799h0M603 803h0M603 809h0M607 430h0M608 468h0M607 494h0M607 499h0M608 508h0M607 513h0M607 555h0M607 557h0M608 565h0M608 567h0M609 586h0M608 591h0M608 595h0M608 602h0M606 603h0M607 605h0M606 611h0M607 608h0M608 611h0M606 612h0M607 616h0M606 615h0M607 614h0M608 622h0M608 627h0M607 629h0M607 626h0M608 630h0M608 634h0M608 633h0M606 633h0M607 635h0M609 640h0M607 638h0M608 638h0M609 640h0M608 644h0M609 647h0M609 645h0M608 645h0M609 644h0M607 649h0M609 648h0M607 649h0M608 653h0M607 653h0M608 654h0M609 658h0M607 657h0M608 658h0M608 659h0M607 665h0M608 663h0M608 665h0M609 665h0M608 670h0M608 669h0M608 670h0M606 673h0M609 672h0M608 678h0M606 679h0M607 678h0M608 681h0M607 687h0M608 687h0M607 693h0M606 712h0M609 712h0M607 714h0M606 717h0M608 724h0M607 739h0M609 737h0M609 752h0M606 769h0M609 773h0M608 781h0M607 790h0M608 791h0M608 793h0M612 376h0M610 449h0M611 453h0M609 460h0M610 462h0M612 514h0M611 531h0M612 533h0M609 583h0M611 585h0M612 593h0M612 596h0M610 598h0M610 599h0M611 601h0M612 601h0M611 610h0M610 612h0M611 615h0M611 615h0M609 618h0M610 620h0M610 618h0M609 619h0M609 621h0M611 621h0M609 621h0M612 623h0M611 629h0M610 627h0M610 632h0M610 634h0M610 635h0M611 633h0M611 636h0M609 641h0M609 640h0M610 640h0M611 638h0M611 646h0M609 652h0M611 653h0M612 652h0M611 653h0M609 657h0M610 658h0M609 657h0M609 659h0M611 660h0M611 659h0M610 663h0M609 666h0M610 667h0M611 670h0M610 669h0M612 671h0M611 670h0M611 673h0M611 671h0M611 671h0M611 676h0M612 674h0M611 680h0M612 677h0M612 681h0M609 684h0M610 686h0M611 687h0M611 690h0M611 691h0M612 689h0M611 692h0M610 698h0M610 710h0M611 710h0M609 713h0M611 734h0M612 732h0M609 741h0M609 746h0M611 751h0M610 754h0M611 758h0M611 767h0M611 767h0M611 778h0M609 779h0M611 790h0M613 460h0M614 471h0M614 488h0M615 510h0M614 553h0M614 554h0M614 576h0M613 581h0M612 588h0M613 592h0M612 593h0M613 593h0M613 594h0M614 599h0M613 599h0M614 598h0M614 600h0M615 602h0M614 604h0M613 605h0M615 606h0M614 606h0M615 612h0M612 617h0M614 617h0M615 615h0M613 615h0M613 622h0M614 623h0M615 624h0M614 626h0M613 627h0M615 630h0M614 634h0M613 634h0M614 638h0M612 637h0M614 637h0M613 643h0M612 643h0M614 653h0M613 652h0M613 650h0M612 657h0M615 657h0M614 661h0M613 661h0M613 661h0M613 662h0M614 664h0M613 662h0M615 667h0M612 669h0M614 670h0M614 672h0M615 676h0M612 675h0M614 675h0M614 680h0M614 681h0M613 684h0M612 683h0M614 688h0M614 687h0M612 687h0M615 690h0M613 692h0M615 701h0M613 709h0M613 723h0M614 727h0M615 729h0M612 739h0M613 745h0M613 761h0M615 767h0M612 779h0M613 795h0M613 815h0M615 826h0M614 838h0M617 452h0M618 523h0M616 524h0M616 549h0M618 552h0M616 558h0M616 561h0M617 560h0M617 575h0M617 577h0M618 580h0M616 578h0M617 588h0M616 593h0M617 592h0M617 595h0M617 595h0M618 597h0M615 596h0M616 601h0M615 604h0M618 607h0M615 606h0M618 608h0M617 609h0M617 609h0M617 608h0M618 609h0M616 612h0M617 614h0M617 613h0M617 612h0M616 616h0M616 619h0M618 619h0M617 621h0M616 621h0M616 624h0M616 628h0M616 629h0M616 630h0M616 629h0M616 635h0M616 632h0M615 632h0M618 634h0M617 636h0M617 637h0M617 637h0M616 636h0M617 640h0M617 642h0M617 649h0M616 648h0M617 648h0M618 649h0M618 647h0M617 651h0M616 655h0M618 655h0M618 653h0M617 657h0M617 659h0M618 660h0M617 662h0M618 661h0M618 662h0M616 669h0M618 671h0M616 672h0M617 675h0M616 686h0M616 685h0M616 697h0M617 708h0M616 729h0M617 737h0M617 735h0M616 737h0M617 743h0M617 755h0M617 767h0M615 771h0M616 789h0M616 837h0M617 840h0M620 443h0M619 459h0M619 485h0M620 527h0M618 528h0M619 528h0M621 558h0M619 561h0M621 568h0M620 569h0M620 572h0M619 570h0M620 570h0M620 574h0M618 573h0M620 581h0M621 587h0M618 587h0M621 590h0M618 593h0M619 595h0M618 598h0M619 601h0M620 599h0M618 600h0M621 606h0M620 608h0M619 610h0M619 611h0M621 617h0M618 620h0M621 618h0M621 622h0M621 626h0M619 627h0M619 631h0M620 634h0M621 635h0M621 638h0M620 638h0M619 635h0M619 638h0M620 639h0M620 639h0M619 639h0M620 641h0M619 641h0M621 647h0M619 645h0M620 645h0M620 645h0M621 653h0M618 651h0M621 656h0M621 653h0M620 656h0M618 660h0M620 664h0M620 662h0M619 667h0M621 666h0M620 666h0M619 670h0M621 677h0M621 674h0M620 685h0M618 687h0M621 691h0M619 722h0M618 728h0M621 730h0M619 733h0M619 734h0M620 744h0M620 766h0M618 785h0M618 789h0M619 795h0M624 455h0M623 464h0M623 474h0M623 487h0M621 502h0M623 514h0M622 523h0M623 537h0M624 545h0M623 552h0M623 556h0M624 558h0M623 560h0M623 562h0M622 566h0M622 566h0M624 569h0M622 574h0M622 573h0M622 582h0M621 583h0M622 586h0M622 586h0M622 585h0M621 593h0M622 595h0M623 595h0M621 598h0M623 597h0M624 597h0M623 601h0M623 599h0M623 599h0M622 600h0M623 604h0M623 602h0M623 611h0M622 613h0M622 613h0M624 612h0M621 612h0M623 614h0M621 614h0M622 616h0M624 617h0M624 619h0M622 618h0M621 617h0M623 619h0M622 620h0M622 620h0M623 622h0M623 623h0M622 624h0M623 623h0M624 624h0M622 624h0M622 627h0M623 627h0M623 627h0M622 627h0M622 627h0M623 632h0M622 630h0M621 636h0M622 637h0M621 636h0M622 635h0M621 638h0M622 642h0M621 647h0M624 646h0M624 647h0M622 648h0M624 649h0M621 648h0M621 650h0M622 652h0M624 653h0M622 654h0M621 654h0M622 656h0M624 653h0M622 656h0M621 656h0M621 656h0M624 659h0M621 659h0M624 661h0M624 659h0M624 668h0M624 671h0M623 689h0M624 691h0M624 700h0M623 699h0M623 701h0M622 712h0M622 713h0M624 722h0M622 723h0M623 726h0M621 728h0M623 738h0M624 745h0M623 746h0M623 763h0M621 797h0M626 447h0M625 448h0M624 490h0M626 509h0M626 529h0M625 535h0M627 561h0M627 560h0M625 567h0M626 570h0M625 578h0M625 581h0M625 588h0M624 595h0M625 599h0M627 598h0M625 601h0M626 600h0M626 600h0M627 604h0M627 602h0M627 602h0M626 606h0M627 608h0M627 610h0M624 609h0M627 613h0M627 613h0M627 614h0M626 619h0M626 618h0M627 620h0M625 619h0M626 617h0M627 619h0M626 618h0M624 622h0M627 622h0M626 622h0M626 626h0M624 624h0M627 627h0M625 627h0M626 630h0M626 635h0M627 633h0M626 636h0M626 636h0M625 637h0M625 637h0M627 640h0M625 645h0M624 645h0M626 646h0M624 650h0M624 648h0M626 654h0M626 653h0M627 659h0M627 665h0M625 672h0M626 678h0M625 682h0M624 681h0M627 712h0M626 711h0M624 720h0M625 721h0M626 727h0M627 739h0M627 759h0M627 770h0M625 780h0M626 779h0M625 787h0M629 392h0M629 461h0M628 499h0M629 539h0M629 546h0M629 550h0M630 554h0M627 552h0M630 557h0M629 567h0M628 571h0M630 571h0M628 571h0M628 570h0M630 572h0M629 583h0M630 589h0M630 587h0M628 591h0M629 592h0M629 593h0M629 592h0M627 598h0M627 600h0M628 601h0M628 601h0M628 604h0M630 603h0M628 608h0M629 606h0M630 606h0M628 605h0M630 605h0M627 609h0M628 610h0M630 612h0M628 612h0M628 616h0M628 616h0M628 614h0M629 615h0M630 617h0M627 620h0M629 620h0M630 620h0M630 621h0M630 621h0M627 625h0M629 629h0M628 628h0M628 629h0M629 638h0M628 639h0M627 639h0M630 639h0M629 640h0M628 644h0M627 641h0M627 645h0M628 646h0M627 646h0M630 647h0M628 648h0M628 647h0M628 647h0M629 655h0M629 654h0M628 653h0M630 659h0M629 664h0M630 665h0M627 671h0M630 675h0M627 678h0M630 685h0M628 685h0M630 688h0M629 691h0M628 696h0M629 700h0M628 701h0M629 699h0M630 707h0M629 708h0M628 718h0M627 720h0M627 721h0M629 723h0M629 736h0M630 743h0M629 764h0M627 776h0M629 794h0M628 798h0M633 383h0M630 435h0M632 445h0M631 467h0M633 469h0M630 486h0M630 523h0M631 544h0M631 544h0M631 548h0M632 550h0M630 560h0M631 561h0M631 565h0M633 574h0M631 590h0M631 587h0M631 587h0M632 589h0M631 591h0M632 593h0M632 594h0M632 594h0M631 597h0M631 607h0M631 610h0M630 609h0M631 610h0M630 609h0M632 609h0M632 610h0M633 611h0M632 611h0M632 613h0M631 614h0M633 614h0M631 615h0M633 619h0M632 618h0M632 617h0M632 623h0M631 621h0M632 625h0M630 624h0M633 623h0M633 623h0M631 631h0M630 629h0M631 631h0M630 632h0M630 630h0M630 633h0M631 634h0M632 636h0M632 636h0M631 638h0M632 640h0M632 644h0M630 646h0M631 646h0M632 646h0M632 647h0M630 647h0M632 651h0M632 664h0M632 665h0M632 664h0M631 668h0M630 670h0M631 673h0M632 672h0M632 677h0M632 701h0M630 712h0M632 716h0M630 720h0M633 725h0M631 736h0M630 735h0M631 740h0M633 754h0M631 772h0M632 781h0M632 782h0M633 791h0M630 808h0M634 492h0M633 498h0M635 517h0M633 524h0M634 527h0M635 533h0M634 536h0M633 537h0M634 550h0M635 553h0M634 566h0M634 566h0M634 578h0M634 581h0M634 578h0M634 582h0M635 591h0M635 594h0M634 595h0M633 593h0M635 595h0M634 598h0M634 597h0M636 602h0M636 601h0M634 602h0M634 604h0M635 607h0M636 610h0M636 611h0M634 610h0M635 613h0M634 614h0M633 612h0M635 612h0M635 611h0M633 615h0M634 616h0M633 617h0M635 615h0M635 619h0M633 617h0M634 618h0M634 620h0M635 622h0M635 624h0M636 627h0M635 626h0M636 631h0M636 631h0M635 632h0M633 634h0M635 632h0M635 633h0M634 635h0M636 638h0M636 643h0M635 644h0M634 645h0M633 645h0M635 652h0M634 651h0M636 651h0M636 658h0M635 666h0M635 683h0M634 688h0M635 692h0M634 697h0M633 702h0M635 711h0M634 721h0M633 765h0M635 764h0M636 786h0M635 830h0M639 472h0M637 493h0M637 518h0M639 526h0M638 537h0M638 562h0M638 565h0M638 574h0M638 575h0M637 579h0M637 587h0M637 587h0M639 587h0M637 594h0M639 594h0M638 595h0M639 595h0M638 598h0M639 602h0M637 606h0M639 605h0M638 608h0M638 606h0M636 606h0M638 611h0M639 610h0M638 611h0M636 613h0M638 613h0M638 611h0M637 615h0M639 615h0M638 617h0M637 616h0M639 616h0M637 615h0M637 620h0M638 620h0M638 621h0M637 623h0M637 625h0M637 625h0M638 625h0M639 626h0M637 628h0M636 631h0M639 631h0M638 634h0M637 636h0M639 641h0M637 638h0M638 642h0M636 642h0M637 644h0M637 643h0M638 652h0M637 652h0M637 653h0M636 672h0M637 673h0M637 686h0M638 687h0M638 711h0M636 734h0M638 740h0M636 766h0M637 777h0M637 783h0M639 790h0M640 413h0M640 471h0M639 498h0M641 503h0M642 536h0M641 543h0M639 544h0M642 545h0M640 550h0M640 556h0M642 556h0M642 562h0M642 566h0M640 566h0M641 566h0M641 571h0M641 576h0M641 575h0M642 583h0M642 586h0M640 586h0M640 587h0M640 587h0M640 588h0M640 592h0M642 592h0M641 594h0M641 597h0M639 602h0M641 605h0M639 607h0M640 610h0M639 610h0M642 609h0M639 611h0M642 617h0M639 620h0M641 619h0M641 619h0M641 618h0M641 618h0M641 621h0M641 622h0M642 623h0M641 623h0M640 627h0M640 628h0M641 631h0M640 629h0M641 629h0M641 630h0M642 631h0M641 634h0M641 632h0M641 637h0M640 638h0M642 640h0M640 641h0M641 645h0M639 645h0M642 646h0M641 646h0M641 649h0M639 648h0M642 652h0M641 656h0M639 666h0M640 694h0M640 704h0M641 727h0M641 736h0M642 746h0M641 763h0M643 361h0M644 416h0M643 451h0M645 458h0M644 472h0M644 508h0M643 518h0M643 532h0M643 551h0M644 563h0M643 561h0M644 561h0M643 561h0M645 565h0M645 567h0M642 567h0M643 574h0M644 591h0M644 592h0M644 595h0M643 594h0M645 598h0M644 597h0M643 600h0M645 602h0M643 603h0M645 604h0M644 604h0M642 602h0M644 607h0M644 606h0M643 610h0M644 613h0M644 613h0M644 616h0M645 616h0M645 614h0M645 619h0M643 618h0M643 619h0M644 617h0M642 620h0M644 618h0M644 623h0M644 622h0M642 621h0M645 624h0M643 628h0M644 627h0M642 626h0M642 630h0M642 630h0M643 630h0M644 631h0M643 633h0M644 633h0M644 637h0M645 636h0M642 639h0M643 645h0M644 654h0M644 671h0M643 672h0M642 673h0M643 676h0M642 678h0M644 679h0M642 685h0M644 690h0M643 715h0M645 720h0M645 726h0M642 729h0M642 737h0M644 734h0M645 739h0M645 769h0M645 776h0M648 424h0M647 482h0M645 492h0M646 505h0M646 508h0M646 516h0M646 517h0M647 532h0M648 537h0M647 541h0M647 553h0M646 561h0M648 561h0M645 561h0M648 565h0M647 565h0M647 570h0M645 573h0M647 575h0M647 576h0M646 576h0M648 576h0M646 578h0M645 581h0M645 582h0M646 582h0M647 583h0M645 583h0M647 599h0M646 599h0M646 602h0M646 601h0M645 604h0M648 602h0M647 604h0M645 606h0M648 607h0M648 609h0M646 611h0M647 612h0M646 616h0M648 614h0M646 617h0M647 620h0M646 617h0M648 617h0M648 617h0M648 617h0M646 618h0M647 622h0M647 623h0M646 621h0M646 625h0M646 624h0M647 626h0M646 623h0M646 626h0M648 628h0M647 628h0M648 628h0M646 630h0M648 629h0M646 635h0M647 638h0M646 641h0M647 639h0M646 642h0M647 643h0M647 645h0M647 650h0M646 650h0M647 651h0M647 654h0M645 654h0M647 660h0M648 665h0M648 667h0M645 680h0M648 679h0M647 685h0M646 685h0M647 699h0M648 707h0M648 726h0M645 739h0M648 744h0M647 750h0M645 767h0M648 787h0M651 414h0M649 456h0M648 500h0M650 498h0M648 509h0M651 510h0M649 514h0M651 515h0M651 523h0M650 527h0M651 548h0M650 547h0M651 553h0M649 552h0M648 561h0M650 572h0M648 574h0M651 573h0M649 574h0M648 577h0M650 581h0M650 586h0M649 585h0M651 585h0M649 584h0M651 589h0M649 589h0M648 592h0M650 590h0M650 590h0M649 591h0M648 594h0M650 596h0M651 600h0M649 600h0M649 600h0M650 602h0M648 602h0M650 605h0M648 608h0M650 608h0M650 609h0M649 612h0M649 615h0M648 616h0M649 615h0M648 615h0M649 615h0M650 616h0M650 618h0M648 621h0M649 621h0M648 621h0M650 624h0M648 623h0M651 627h0M650 634h0M649 633h0M649 635h0M649 635h0M648 643h0M650 643h0M650 641h0M650 647h0M648 646h0M651 650h0M648 653h0M651 657h0M648 658h0M651 682h0M651 692h0M650 694h0M648 696h0M649 730h0M650 783h0M653 451h0M653 465h0M652 490h0M651 497h0M653 507h0M653 530h0M652 540h0M653 542h0M651 547h0M654 550h0M653 554h0M652 556h0M651 558h0M653 560h0M652 563h0M653 565h0M652 566h0M651 575h0M653 580h0M653 586h0M651 589h0M654 593h0M652 598h0M653 599h0M654 598h0M653 600h0M652 601h0M652 601h0M653 599h0M653 605h0M654 606h0M653 608h0M652 606h0M652 608h0M652 611h0M651 611h0M653 611h0M653 611h0M652 613h0M654 612h0M654 615h0M652 615h0M654 615h0M653 615h0M654 616h0M652 616h0M651 620h0M653 618h0M652 626h0M653 629h0M653 629h0M652 629h0M652 635h0M653 638h0M653 643h0M653 659h0M652 667h0M651 673h0M652 672h0M653 688h0M652 686h0M652 691h0M653 726h0M651 731h0M654 761h0M652 806h0M656 451h0M655 460h0M654 494h0M656 519h0M655 532h0M657 547h0M654 550h0M655 554h0M657 555h0M656 557h0M654 558h0M654 561h0M654 569h0M654 567h0M655 570h0M655 576h0M655 578h0M656 580h0M657 582h0M655 585h0M656 587h0M657 587h0M655 590h0M655 589h0M655 592h0M655 596h0M656 594h0M657 593h0M657 598h0M655 597h0M656 598h0M657 597h0M656 600h0M655 599h0M656 601h0M656 603h0M655 603h0M655 606h0M654 607h0M657 607h0M656 605h0M656 607h0M655 610h0M654 613h0M654 611h0M654 615h0M655 616h0M656 615h0M657 616h0M655 619h0M656 621h0M656 623h0M657 626h0M654 625h0M656 624h0M657 625h0M654 630h0M656 632h0M656 636h0M656 637h0M655 643h0M656 646h0M655 656h0M655 655h0M655 654h0M654 673h0M655 680h0M654 745h0M656 748h0M656 751h0M657 753h0M655 770h0M657 776h0M655 783h0M657 363h0M657 374h0M658 385h0M660 416h0M658 456h0M660 490h0M658 496h0M658 508h0M660 528h0M658 531h0M657 533h0M659 554h0M659 556h0M658 556h0M659 557h0M658 562h0M658 562h0M658 565h0M659 566h0M659 564h0M659 564h0M657 564h0M659 567h0M657 566h0M660 573h0M658 572h0M658 576h0M657 576h0M658 580h0M659 583h0M659 581h0M658 585h0M659 586h0M657 586h0M659 589h0M659 588h0M658 592h0M658 591h0M660 592h0M658 592h0M657 591h0M658 596h0M659 599h0M658 598h0M660 601h0M659 599h0M658 599h0M659 600h0M657 601h0M658 600h0M658 604h0M658 607h0M659 610h0M659 610h0M658 611h0M658 612h0M658 614h0M658 612h0M659 612h0M659 614h0M659 622h0M658 628h0M658 634h0M657 633h0M659 633h0M659 635h0M660 658h0M658 660h0M660 665h0M659 706h0M657 713h0M657 722h0M660 743h0M662 448h0M661 466h0M662 484h0M660 483h0M660 490h0M663 553h0M662 554h0M662 553h0M663 555h0M660 559h0M662 561h0M662 563h0M660 563h0M661 567h0M662 569h0M661 569h0M662 571h0M662 571h0M663 573h0M662 574h0M660 573h0M661 578h0M660 581h0M662 579h0M661 584h0M662 586h0M660 586h0M662 589h0M661 592h0M662 596h0M663 594h0M660 596h0M663 600h0M662 604h0M661 603h0M661 602h0M662 605h0M661 608h0M662 605h0M662 608h0M661 609h0M662 610h0M660 614h0M661 619h0M661 620h0M662 621h0M661 624h0M661 625h0M662 629h0M660 631h0M661 640h0M663 638h0M661 641h0M662 644h0M662 644h0M661 647h0M662 655h0M661 660h0M660 667h0M661 710h0M663 741h0M661 740h0M666 434h0M665 451h0M664 463h0M663 465h0M664 464h0M666 484h0M664 486h0M666 486h0M665 523h0M665 531h0M666 542h0M664 548h0M663 557h0M665 555h0M663 559h0M663 559h0M664 559h0M666 558h0M664 558h0M666 562h0M666 566h0M665 564h0M666 564h0M664 564h0M665 566h0M663 566h0M665 567h0M664 568h0M663 570h0M664 570h0M663 569h0M665 573h0M664 572h0M666 577h0M664 581h0M666 580h0M664 580h0M665 581h0M665 579h0M665 579h0M664 582h0M664 585h0M663 584h0M664 585h0M666 587h0M666 590h0M664 588h0M666 589h0M664 594h0M665 594h0M664 598h0M664 597h0M664 599h0M664 597h0M663 601h0M663 599h0M666 605h0M665 602h0M666 605h0M664 614h0M664 618h0M665 620h0M664 623h0M665 633h0M664 636h0M663 640h0M665 722h0M665 723h0M664 735h0M666 742h0M665 745h0M666 746h0M665 766h0M669 360h0M669 390h0M669 392h0M669 410h0M668 434h0M666 440h0M667 468h0M668 470h0M668 496h0M667 507h0M666 543h0M667 551h0M667 548h0M667 549h0M667 553h0M669 553h0M667 560h0M668 557h0M669 560h0M668 561h0M668 564h0M668 567h0M668 566h0M669 568h0M668 567h0M668 566h0M668 570h0M666 570h0M668 572h0M668 578h0M667 578h0M668 576h0M668 579h0M669 583h0M666 583h0M667 584h0M669 587h0M668 586h0M668 584h0M666 589h0M667 588h0M667 588h0M668 587h0M667 591h0M668 592h0M666 595h0M667 594h0M668 595h0M669 594h0M668 597h0M669 598h0M667 597h0M667 596h0M668 599h0M667 602h0M668 605h0M669 604h0M667 604h0M667 607h0M668 609h0M668 611h0M668 624h0M668 623h0M666 626h0M667 632h0M667 635h0M667 639h0M669 651h0M668 656h0M666 673h0M668 672h0M667 684h0M669 700h0M669 718h0M667 731h0M668 735h0M670 399h0M670 434h0M671 444h0M670 462h0M671 467h0M672 476h0M671 520h0M669 532h0M672 545h0M672 545h0M671 548h0M670 554h0M672 555h0M670 556h0M672 558h0M672 562h0M672 561h0M671 561h0M672 565h0M672 563h0M671 568h0M671 567h0M670 568h0M672 569h0M672 575h0M671 573h0M671 576h0M671 577h0M672 576h0M670 577h0M671 576h0M672 580h0M669 580h0M669 580h0M672 580h0M671 581h0M671 580h0M671 583h0M671 582h0M671 582h0M672 583h0M672 586h0M670 587h0M669 585h0M672 585h0M671 586h0M669 589h0M669 588h0M671 589h0M670 589h0M671 591h0M672 594h0M671 593h0M669 594h0M672 596h0M672 596h0M672 601h0M669 599h0M671 603h0M671 605h0M670 606h0M671 607h0M672 622h0M672 642h0M670 644h0M670 667h0M671 665h0M669 671h0M670 731h0M674 268h0M674 329h0M674 436h0M675 449h0M675 485h0M674 542h0M675 550h0M674 548h0M673 552h0M674 556h0M673 559h0M674 560h0M675 558h0M673 560h0M673 562h0M674 561h0M674 563h0M674 567h0M675 567h0M672 568h0M674 572h0M675 570h0M675 572h0M673 570h0M673 574h0M675 574h0M673 577h0M674 580h0M674 581h0M674 579h0M672 580h0M674 580h0M673 579h0M673 579h0M674 583h0M673 582h0M675 582h0M675 585h0M673 585h0M675 586h0M674 590h0M674 590h0M673 588h0M675 590h0M674 587h0M674 593h0M674 592h0M673 591h0M675 594h0M673 595h0M674 599h0M673 601h0M674 603h0M674 608h0M675 607h0M674 607h0M672 612h0M674 613h0M674 667h0M672 670h0M672 679h0M674 681h0M673 683h0M674 695h0M673 700h0M675 713h0M675 716h0M675 723h0M672 745h0M673 755h0M677 275h0M678 421h0M675 444h0M676 448h0M676 459h0M677 466h0M677 487h0M676 518h0M676 548h0M677 545h0M677 550h0M677 556h0M678 558h0M675 563h0M677 561h0M675 566h0M676 569h0M675 568h0M677 571h0M677 572h0M676 571h0M676 574h0M676 572h0M675 573h0M677 573h0M676 576h0M676 578h0M678 576h0M675 575h0M675 580h0M675 580h0M676 579h0M677 579h0M677 580h0M678 582h0M676 583h0M677 583h0M677 583h0M677 583h0M676 586h0M677 585h0M676 586h0M677 586h0M676 587h0M677 587h0M678 588h0M677 590h0M677 588h0M675 592h0M677 592h0M676 593h0M676 597h0M677 596h0M676 598h0M677 597h0M676 596h0M677 597h0M676 601h0M676 600h0M678 613h0M677 649h0M677 648h0M678 656h0M677 657h0M675 674h0M676 719h0M676 757h0M680 395h0M680 426h0M680 426h0M678 477h0M681 489h0M680 523h0M680 532h0M678 536h0M679 534h0M680 535h0M679 540h0M680 544h0M680 549h0M680 550h0M679 549h0M680 554h0M680 554h0M680 558h0M678 561h0M681 564h0M680 566h0M680 568h0M681 568h0M678 567h0M681 569h0M679 574h0M678 572h0M680 573h0M679 575h0M679 572h0M679 574h0M679 574h0M680 574h0M678 573h0M680 575h0M680 575h0M678 575h0M681 575h0M679 576h0M680 577h0M678 577h0M679 579h0M680 578h0M680 580h0M680 579h0M680 580h0M679 579h0M679 578h0M678 583h0M681 581h0M678 583h0M680 584h0M681 587h0M680 586h0M680 585h0M678 588h0M678 588h0M681 590h0M679 591h0M679 592h0M679 597h0M679 597h0M681 598h0M679 599h0M680 599h0M678 606h0M680 606h0M679 606h0M678 610h0M679 611h0M681 656h0M681 672h0M680 693h0M679 743h0M680 780h0M678 823h0M683 378h0M683 435h0M683 434h0M681 443h0M681 451h0M682 462h0M683 463h0M684 465h0M683 467h0M683 476h0M683 490h0M682 505h0M682 507h0M683 518h0M682 527h0M682 539h0M683 545h0M684 549h0M683 550h0M683 555h0M682 559h0M682 558h0M683 562h0M681 562h0M683 561h0M684 563h0M682 566h0M682 566h0M681 566h0M683 567h0M682 569h0M682 571h0M682 572h0M682 571h0M684 571h0M682 574h0M682 575h0M682 573h0M683 577h0M683 577h0M681 582h0M682 583h0M683 583h0M682 582h0M682 583h0M682 586h0M684 585h0M682 585h0M683 586h0M683 587h0M683 588h0M681 587h0M683 587h0M683 591h0M683 592h0M683 591h0M681 591h0M683 594h0M684 595h0M682 595h0M681 596h0M684 597h0M682 605h0M682 607h0M684 610h0M682 615h0M682 619h0M683 631h0M683 654h0M681 653h0M686 392h0M685 419h0M685 425h0M685 443h0M687 442h0M687 446h0M685 445h0M686 449h0M686 453h0M685 456h0M686 462h0M685 472h0M686 477h0M686 486h0M685 492h0M686 505h0M685 513h0M685 514h0M685 526h0M686 527h0M687 525h0M685 533h0M686 530h0M685 535h0M685 539h0M685 538h0M684 541h0M686 543h0M686 543h0M684 547h0M684 547h0M684 546h0M685 548h0M685 549h0M685 553h0M686 553h0M686 554h0M684 562h0M686 566h0M685 564h0M686 567h0M685 568h0M685 570h0M687 569h0M687 571h0M687 574h0M685 573h0M687 576h0M685 576h0M687 578h0M687 580h0M687 582h0M686 584h0M685 587h0M685 588h0M685 590h0M685 589h0M686 592h0M685 596h0M686 599h0M686 603h0M684 605h0M686 607h0M685 646h0M684 657h0M685 680h0M687 706h0M684 802h0M689 427h0M688 427h0M688 430h0M687 444h0M687 444h0M689 448h0M688 450h0M689 452h0M688 476h0M688 494h0M690 505h0M688 504h0M687 508h0M689 509h0M687 515h0M690 517h0M688 522h0M689 527h0M688 528h0M687 532h0M688 532h0M687 546h0M690 547h0M688 549h0M689 549h0M688 548h0M690 556h0M688 555h0M687 558h0M689 563h0M689 568h0M687 569h0M688 570h0M688 574h0M687 573h0M688 574h0M688 572h0M687 572h0M689 576h0M687 578h0M687 577h0M690 577h0M689 576h0M689 577h0M687 581h0M688 580h0M687 586h0M688 584h0M689 585h0M689 586h0M689 584h0M688 590h0M688 589h0M688 591h0M689 593h0M689 590h0M689 595h0M688 595h0M688 596h0M688 609h0M687 622h0M689 641h0M687 647h0M689 671h0M687 693h0M689 703h0M688 712h0M688 742h0M693 313h0M692 363h0M690 372h0M690 420h0M691 419h0M692 429h0M690 432h0M692 439h0M693 447h0M690 449h0M690 449h0M693 453h0M692 456h0M691 466h0M690 475h0M691 483h0M692 498h0M691 508h0M692 507h0M691 510h0M693 510h0M692 510h0M692 509h0M692 518h0M691 515h0M691 527h0M692 528h0M691 532h0M692 531h0M692 537h0M693 538h0M692 540h0M692 543h0M692 542h0M692 548h0M693 545h0M692 546h0M692 547h0M690 553h0M692 554h0M690 553h0M691 554h0M693 555h0M691 555h0M691 559h0M693 558h0M693 560h0M691 561h0M691 561h0M690 563h0M693 562h0M690 560h0M692 565h0M691 565h0M692 564h0M691 563h0M691 569h0M692 568h0M691 566h0M692 575h0M693 573h0M690 573h0M692 580h0M691 579h0M692 580h0M693 582h0M692 583h0M691 584h0M693 584h0M691 590h0M691 590h0M690 596h0M692 598h0M690 597h0M693 609h0M690 609h0M691 612h0M691 612h0M691 612h0M691 615h0M691 616h0M693 631h0M692 630h0M690 635h0M692 641h0M690 690h0M692 701h0M692 720h0M692 736h0M691 790h0M695 402h0M694 416h0M695 415h0M696 443h0M695 455h0M695 461h0M695 499h0M694 510h0M695 514h0M694 515h0M695 518h0M694 517h0M694 520h0M693 522h0M694 527h0M693 525h0M695 526h0M695 525h0M695 533h0M695 534h0M693 535h0M696 537h0M695 537h0M695 541h0M694 541h0M696 548h0M696 552h0M694 553h0M695 551h0M696 560h0M694 559h0M695 569h0M695 568h0M694 568h0M693 569h0M695 571h0M696 570h0M694 572h0M695 576h0M695 580h0M696 578h0M695 579h0M694 579h0M694 578h0M695 583h0M695 584h0M696 586h0M693 590h0M695 589h0M695 588h0M694 591h0M693 601h0M695 607h0M696 612h0M695 659h0M694 662h0M696 700h0M697 416h0M698 423h0M697 423h0M696 444h0M697 450h0M698 458h0M696 472h0M699 473h0M699 497h0M697 501h0M696 505h0M697 508h0M698 515h0M697 512h0M698 516h0M696 515h0M696 515h0M697 521h0M696 523h0M698 530h0M699 528h0M697 531h0M698 531h0M699 535h0M698 538h0M698 538h0M697 539h0M698 543h0M697 543h0M698 545h0M698 549h0M699 549h0M697 549h0M696 554h0M698 558h0M697 563h0M698 564h0M696 568h0M698 574h0M698 575h0M697 577h0M697 576h0M697 575h0M697 580h0M696 583h0M698 586h0M697 586h0M699 587h0M699 593h0M697 593h0M697 595h0M698 595h0M696 597h0M699 598h0M699 596h0M697 603h0M696 602h0M696 607h0M698 609h0M698 613h0M698 622h0M697 638h0M698 637h0M697 655h0M698 670h0M696 668h0M697 697h0M697 713h0M701 264h0M700 418h0M701 420h0M699 422h0M699 427h0M699 425h0M702 430h0M700 433h0M702 442h0M701 455h0M702 462h0M700 469h0M701 475h0M700 475h0M699 480h0M702 503h0M702 504h0M702 503h0M701 503h0M700 506h0M702 512h0M700 522h0M699 522h0M699 524h0M702 527h0M700 529h0M702 528h0M700 532h0M699 531h0M700 534h0M700 534h0M701 538h0M699 537h0M700 538h0M700 541h0M701 542h0M701 543h0M699 543h0M700 544h0M700 542h0M701 549h0M699 550h0M701 551h0M700 556h0M700 555h0M702 558h0M701 562h0M701 563h0M700 564h0M700 565h0M700 567h0M702 571h0M700 570h0M700 570h0M700 571h0M701 574h0M700 576h0M700 579h0M699 580h0M700 579h0M700 584h0M700 585h0M702 586h0M701 589h0M700 587h0M700 591h0M701 594h0M699 593h0M699 596h0M700 597h0M699 601h0M699 601h0M701 600h0M702 599h0M701 608h0M701 611h0M701 617h0M700 687h0M700 702h0M701 704h0M700 712h0M700 741h0M705 422h0M703 427h0M703 442h0M704 441h0M704 449h0M703 447h0M702 448h0M704 450h0M704 450h0M705 452h0M703 456h0M702 467h0M702 470h0M704 486h0M705 487h0M702 498h0M702 497h0M704 502h0M704 503h0M703 505h0M702 505h0M703 507h0M702 512h0M702 509h0M702 512h0M703 516h0M704 522h0M703 525h0M704 524h0M703 526h0M704 527h0M703 528h0M705 533h0M704 531h0M703 534h0M702 534h0M705 537h0M705 536h0M703 541h0M704 542h0M704 542h0M704 544h0M705 544h0M703 543h0M703 548h0M704 545h0M703 548h0M705 551h0M703 549h0M704 550h0M704 550h0M705 550h0M704 553h0M704 553h0M702 558h0M705 560h0M705 558h0M703 561h0M705 561h0M705 563h0M705 568h0M705 566h0M702 567h0M703 572h0M702 570h0M702 577h0M704 578h0M703 581h0M704 589h0M702 588h0M703 591h0M703 592h0M702 599h0M705 633h0M703 636h0M705 651h0M703 679h0M704 741h0M704 832h0M706 290h0M708 384h0M705 410h0M707 419h0M708 451h0M707 456h0M706 464h0M706 465h0M705 468h0M706 469h0M707 474h0M707 484h0M706 488h0M708 495h0M706 495h0M706 495h0M707 502h0M707 508h0M706 506h0M705 514h0M706 515h0M708 517h0M706 519h0M705 520h0M706 524h0M706 523h0M708 526h0M707 525h0M708 524h0M706 529h0M707 529h0M706 529h0M707 528h0M708 527h0M707 528h0M706 529h0M706 530h0M705 531h0M708 532h0M707 534h0M706 533h0M705 535h0M705 534h0M708 538h0M705 538h0M706 537h0M705 536h0M706 538h0M707 540h0M707 544h0M706 544h0M706 544h0M707 549h0M706 553h0M706 552h0M708 553h0M708 553h0M706 556h0M706 555h0M706 555h0M706 554h0M706 555h0M708 557h0M708 558h0M706 562h0M708 568h0M707 573h0M706 579h0M707 579h0M706 586h0M706 590h0M707 591h0M708 599h0M707 604h0M706 602h0M705 606h0M707 607h0M707 610h0M708 658h0M708 663h0M706 677h0M708 690h0M708 710h0M707 761h0M708 347h0M709 404h0M710 406h0M710 404h0M710 417h0M710 421h0M708 425h0M710 449h0M710 451h0M711 452h0M710 453h0M708 459h0M709 458h0M711 463h0M711 468h0M709 483h0M711 483h0M709 489h0M708 501h0M710 514h0M708 512h0M710 515h0M709 519h0M710 519h0M710 523h0M708 526h0M709 525h0M708 526h0M710 528h0M708 529h0M710 530h0M710 529h0M711 530h0M709 531h0M709 533h0M710 535h0M710 535h0M711 535h0M708 535h0M709 535h0M709 535h0M711 537h0M711 540h0M711 541h0M709 541h0M708 541h0M711 544h0M710 542h0M710 542h0M711 550h0M709 550h0M710 549h0M709 550h0M710 550h0M708 552h0M710 553h0M710 552h0M710 554h0M710 556h0M709 557h0M709 558h0M709 559h0M711 562h0M711 560h0M711 564h0M710 567h0M710 568h0M710 572h0M710 574h0M709 575h0M709 577h0M708 576h0M710 576h0M710 579h0M708 582h0M708 595h0M710 596h0M710 619h0M709 621h0M708 635h0M708 647h0M710 678h0M709 808h0M712 399h0M714 407h0M712 420h0M711 422h0M712 435h0M712 442h0M712 448h0M711 453h0M711 457h0M712 463h0M712 467h0M712 468h0M713 474h0M714 491h0M712 489h0M713 502h0M712 503h0M713 507h0M712 511h0M714 513h0M714 514h0M713 518h0M711 521h0M711 520h0M711 521h0M713 521h0M712 524h0M713 527h0M711 526h0M711 524h0M712 529h0M713 528h0M712 529h0M713 531h0M713 530h0M712 533h0M713 534h0M714 535h0M714 536h0M714 538h0M711 538h0M713 538h0M712 536h0M713 537h0M712 539h0M713 538h0M713 541h0M714 541h0M713 542h0M712 546h0M712 551h0M713 550h0M714 551h0M712 549h0M713 553h0M713 552h0M712 552h0M713 552h0M712 554h0M712 552h0M711 554h0M712 554h0M712 560h0M711 558h0M713 559h0M711 559h0M713 561h0M713 561h0M711 561h0M714 564h0M713 566h0M713 569h0M713 571h0M713 578h0M712 583h0M713 584h0M711 594h0M712 593h0M713 595h0M712 597h0M712 601h0M713 640h0M714 641h0M712 660h0M712 677h0M711 763h0M712 780h0M715 261h0M716 402h0M717 414h0M715 422h0M717 437h0M716 436h0M716 435h0M714 441h0M717 447h0M715 457h0M717 457h0M716 476h0M716 479h0M715 478h0M715 483h0M717 484h0M716 485h0M715 489h0M715 495h0M715 499h0M715 506h0M716 511h0M714 515h0M717 516h0M716 516h0M717 516h0M716 518h0M716 516h0M716 515h0M717 517h0M715 519h0M716 518h0M716 523h0M717 525h0M714 525h0M717 527h0M714 527h0M716 528h0M714 532h0M716 531h0M715 534h0M716 536h0M717 535h0M717 536h0M715 534h0M716 536h0M715 534h0M716 536h0M716 538h0M716 539h0M715 538h0M714 537h0M714 537h0M717 537h0M715 541h0M716 539h0M715 541h0M715 540h0M716 541h0M716 539h0M715 545h0M714 543h0M717 544h0M714 544h0M715 545h0M716 545h0M714 546h0M717 547h0M714 545h0M714 551h0M714 549h0M717 553h0M717 554h0M715 553h0M716 551h0M715 554h0M715 554h0M715 555h0M714 559h0M714 559h0M715 558h0M715 558h0M717 562h0M716 568h0M714 570h0M715 574h0M714 574h0M716 576h0M716 579h0M715 580h0M716 587h0M716 589h0M716 592h0M715 602h0M716 660h0M717 682h0M715 684h0M717 701h0M715 702h0M716 729h0M717 751h0M714 782h0M718 397h0M720 444h0M719 445h0M718 451h0M719 457h0M719 461h0M720 463h0M719 467h0M719 465h0M719 472h0M719 488h0M717 496h0M718 505h0M719 508h0M719 511h0M717 512h0M719 513h0M719 512h0M717 513h0M720 517h0M718 516h0M718 516h0M718 521h0M720 519h0M717 518h0M717 521h0M719 522h0M720 523h0M718 524h0M718 526h0M718 525h0M719 527h0M719 526h0M718 528h0M718 532h0M720 532h0M718 533h0M718 532h0M719 531h0M717 531h0M720 535h0M720 533h0M718 537h0M718 537h0M718 541h0M718 541h0M718 539h0M718 547h0M718 550h0M720 549h0M718 552h0M719 551h0M717 554h0M720 555h0M719 555h0M717 557h0M719 556h0M719 555h0M718 554h0M720 558h0M718 560h0M717 560h0M718 560h0M720 563h0M719 561h0M719 563h0M718 563h0M717 567h0M719 571h0M718 575h0M719 583h0M719 639h0M718 646h0M718 667h0M717 679h0M718 678h0M719 690h0M721 329h0M721 400h0M723 409h0M720 420h0M721 428h0M722 429h0M722 442h0M722 443h0M722 445h0M720 451h0M722 460h0M723 463h0M721 466h0M721 476h0M723 474h0M722 479h0M722 478h0M722 481h0M721 480h0M721 487h0M722 488h0M721 497h0M722 497h0M720 497h0M721 503h0M723 504h0M720 503h0M722 507h0M721 507h0M721 506h0M722 507h0M722 507h0M722 510h0M723 511h0M721 509h0M722 510h0M722 514h0M723 512h0M723 515h0M723 514h0M722 516h0M722 519h0M722 518h0M721 520h0M721 520h0M722 518h0M720 524h0M723 527h0M721 526h0M721 527h0M723 531h0M721 533h0M723 533h0M721 536h0M721 537h0M721 537h0M722 541h0M722 540h0M721 544h0M720 543h0M722 543h0M722 542h0M721 543h0M722 547h0M721 545h0M721 548h0M720 549h0M720 549h0M721 551h0M723 549h0M721 553h0M722 552h0M721 551h0M720 553h0M723 553h0M721 557h0M722 555h0M722 558h0M722 560h0M722 563h0M720 562h0M721 561h0M722 563h0M721 566h0M721 567h0M721 567h0M723 578h0M721 589h0M722 593h0M720 601h0M722 642h0M721 676h0M721 693h0M722 707h0M723 747h0M721 782h0M724 388h0M725 391h0M724 389h0M725 392h0M726 389h0M724 391h0M724 393h0M725 401h0M723 410h0M725 426h0M723 446h0M726 453h0M726 456h0M725 455h0M725 462h0M725 468h0M725 472h0M726 473h0M723 477h0M725 482h0M723 483h0M724 489h0M724 492h0M723 493h0M724 497h0M724 497h0M725 499h0M723 498h0M724 502h0M723 501h0M725 507h0M723 506h0M725 515h0M726 516h0M726 518h0M724 518h0M723 519h0M725 520h0M725 521h0M723 523h0M725 525h0M724 527h0M724 527h0M723 528h0M724 528h0M725 530h0M725 530h0M726 535h0M724 533h0M725 533h0M724 535h0M726 536h0M725 536h0M724 542h0M724 543h0M723 544h0M725 543h0M724 544h0M725 547h0M724 545h0M725 551h0M724 548h0M723 556h0M725 556h0M726 557h0M726 560h0M724 562h0M725 561h0M724 564h0M724 566h0M725 565h0M724 565h0M725 578h0M724 578h0M725 578h0M723 580h0M725 582h0M726 582h0M724 584h0M724 588h0M724 591h0M724 600h0M723 604h0M725 603h0M724 636h0M725 654h0M726 659h0M723 659h0M724 670h0M724 694h0M725 701h0M725 751h0M727 297h0M728 354h0M729 371h0M728 393h0M728 396h0M727 396h0M727 404h0M728 411h0M727 415h0M728 415h0M728 423h0M727 424h0M729 423h0M728 435h0M727 439h0M726 443h0M726 464h0M729 470h0M727 476h0M726 473h0M727 480h0M728 481h0M727 480h0M728 482h0M728 485h0M727 486h0M729 488h0M729 489h0M728 494h0M727 493h0M727 496h0M728 501h0M726 506h0M727 504h0M729 507h0M728 509h0M727 515h0M728 514h0M727 516h0M727 520h0M729 523h0M729 524h0M728 522h0M728 522h0M729 524h0M728 524h0M728 526h0M727 524h0M727 526h0M728 530h0M728 531h0M728 532h0M727 535h0M727 534h0M728 534h0M727 536h0M727 541h0M726 542h0M726 545h0M728 547h0M726 549h0M729 548h0M728 554h0M728 553h0M729 561h0M727 563h0M727 566h0M728 585h0M729 597h0M727 600h0M728 612h0M728 645h0M726 652h0M732 314h0M729 383h0M732 381h0M730 411h0M730 411h0M730 416h0M729 425h0M731 423h0M731 422h0M730 428h0M730 440h0M732 441h0M732 441h0M732 445h0M732 444h0M731 448h0M729 455h0M730 459h0M731 463h0M731 475h0M731 479h0M731 480h0M731 485h0M732 485h0M730 497h0M730 495h0M731 495h0M731 500h0M730 498h0M730 499h0M729 502h0M731 501h0M730 501h0M729 503h0M732 505h0M732 505h0M731 504h0M731 506h0M731 510h0M732 510h0M731 511h0M732 515h0M731 515h0M730 516h0M731 521h0M731 523h0M731 521h0M731 524h0M730 526h0M731 527h0M729 529h0M731 531h0M730 532h0M730 532h0M730 534h0M730 536h0M731 535h0M730 535h0M731 533h0M731 538h0M732 536h0M732 538h0M729 536h0M730 537h0M731 538h0M730 541h0M730 540h0M731 541h0M731 542h0M731 539h0M731 540h0M730 544h0M731 545h0M730 547h0M731 559h0M730 562h0M730 561h0M731 563h0M732 568h0M731 571h0M732 571h0M730 571h0M731 573h0M730 580h0M731 592h0M729 641h0M729 645h0M731 666h0M730 714h0M730 723h0M732 370h0M735 369h0M733 392h0M735 397h0M733 399h0M733 401h0M734 402h0M735 408h0M733 408h0M733 417h0M733 417h0M733 421h0M733 436h0M733 436h0M732 460h0M732 461h0M732 469h0M734 468h0M734 472h0M733 475h0M732 474h0M733 477h0M734 482h0M734 482h0M733 485h0M733 483h0M732 485h0M733 491h0M733 492h0M733 494h0M733 496h0M734 496h0M733 496h0M732 500h0M733 497h0M733 498h0M735 500h0M733 504h0M732 505h0M734 505h0M734 507h0M733 508h0M733 508h0M733 509h0M732 508h0M735 508h0M734 511h0M734 514h0M732 517h0M733 518h0M733 518h0M733 516h0M734 515h0M733 520h0M734 518h0M732 522h0M734 524h0M733 525h0M732 528h0M735 531h0M734 532h0M734 531h0M735 532h0M734 535h0M732 534h0M732 535h0M734 535h0M735 538h0M733 537h0M734 538h0M734 542h0M732 540h0M733 541h0M734 542h0M733 542h0M733 546h0M735 546h0M732 546h0M734 548h0M732 550h0M732 553h0M734 552h0M734 553h0M734 562h0M733 564h0M733 565h0M734 571h0M733 575h0M733 574h0M732 577h0M733 577h0M734 581h0M735 579h0M735 643h0M732 642h0M734 694h0M733 711h0M734 754h0M737 332h0M735 386h0M736 399h0M736 402h0M736 401h0M738 412h0M737 411h0M736 414h0M735 415h0M738 422h0M736 422h0M736 427h0M737 434h0M736 440h0M737 457h0M735 469h0M735 468h0M737 470h0M735 473h0M735 471h0M737 471h0M736 473h0M735 476h0M737 478h0M737 477h0M737 484h0M735 488h0M736 486h0M736 491h0M735 491h0M736 488h0M737 492h0M735 493h0M737 498h0M738 499h0M735 499h0M738 500h0M737 502h0M738 505h0M735 507h0M736 507h0M738 506h0M736 509h0M736 509h0M737 512h0M735 511h0M738 513h0M736 517h0M736 517h0M736 517h0M738 521h0M737 519h0M736 521h0M735 523h0M736 521h0M735 523h0M737 526h0M738 526h0M737 526h0M738 525h0M735 524h0M736 528h0M737 528h0M735 529h0M737 529h0M736 532h0M737 536h0M737 539h0M736 537h0M737 542h0M735 539h0M735 540h0M737 545h0M737 543h0M735 546h0M737 546h0M736 546h0M737 549h0M736 551h0M735 553h0M735 554h0M737 561h0M735 564h0M736 563h0M735 567h0M737 575h0M737 580h0M736 588h0M736 591h0M737 601h0M737 630h0M738 653h0M735 663h0M735 679h0M738 678h0M737 678h0M739 271h0M740 298h0M740 322h0M739 352h0M738 392h0M741 406h0M740 420h0M738 420h0M741 420h0M738 428h0M738 427h0M741 431h0M739 436h0M740 438h0M741 446h0M740 468h0M738 467h0M738 474h0M741 475h0M739 477h0M740 480h0M738 487h0M740 489h0M738 492h0M738 491h0M739 492h0M739 495h0M738 497h0M741 496h0M738 495h0M741 497h0M740 500h0M741 500h0M740 497h0M739 506h0M740 504h0M739 504h0M739 505h0M741 505h0M741 507h0M741 511h0M741 511h0M740 511h0M739 512h0M741 512h0M739 512h0M741 515h0M739 517h0M739 515h0M739 516h0M739 521h0M741 520h0M739 520h0M739 521h0M741 522h0M740 522h0M740 526h0M740 528h0M740 527h0M738 529h0M740 532h0M740 530h0M740 535h0M739 533h0M740 536h0M740 542h0M741 540h0M740 544h0M739 543h0M739 543h0M739 543h0M740 546h0M739 546h0M739 546h0M738 548h0M738 547h0M739 550h0M738 551h0M739 555h0M740 557h0M741 555h0M739 560h0M740 557h0M740 569h0M740 574h0M740 577h0M740 580h0M738 592h0M740 596h0M741 622h0M739 646h0M738 648h0M739 650h0M739 668h0M739 745h0M743 297h0M743 306h0M742 346h0M743 379h0M744 378h0M741 389h0M744 388h0M741 387h0M742 405h0M743 418h0M742 420h0M743 421h0M742 420h0M742 420h0M742 427h0M742 428h0M743 440h0M743 447h0M741 453h0M743 456h0M742 468h0M742 467h0M744 471h0M742 472h0M743 475h0M743 477h0M744 483h0M741 483h0M742 486h0M742 486h0M742 490h0M743 489h0M742 491h0M744 489h0M742 491h0M741 492h0M743 493h0M741 492h0M744 491h0M742 496h0M741 496h0M742 494h0M742 498h0M742 497h0M743 497h0M742 501h0M742 501h0M742 502h0M741 502h0M742 505h0M744 504h0M743 508h0M741 508h0M743 507h0M743 509h0M742 507h0M743 509h0M744 511h0M743 510h0M743 518h0M744 519h0M743 522h0M744 524h0M743 523h0M742 525h0M742 524h0M743 525h0M744 526h0M742 524h0M742 526h0M742 526h0M743 526h0M744 526h0M744 528h0M741 527h0M742 527h0M742 535h0M744 538h0M742 538h0M741 538h0M743 541h0M743 541h0M743 543h0M743 544h0M744 542h0M742 546h0M741 547h0M743 546h0M743 548h0M742 550h0M742 554h0M743 554h0M742 562h0M741 560h0M743 561h0M743 565h0M743 564h0M743 582h0M741 582h0M743 590h0M742 605h0M742 619h0M744 635h0M743 637h0M742 673h0M744 286h0M747 299h0M746 313h0M744 329h0M746 336h0M746 363h0M747 372h0M747 383h0M747 386h0M745 399h0M745 409h0M744 410h0M746 411h0M744 419h0M744 418h0M746 419h0M746 420h0M745 443h0M746 447h0M745 464h0M747 472h0M746 472h0M745 476h0M747 478h0M747 481h0M745 486h0M744 489h0M745 491h0M747 491h0M746 491h0M745 492h0M744 494h0M745 492h0M744 492h0M746 496h0M747 496h0M746 499h0M745 498h0M746 502h0M745 501h0M745 506h0M746 511h0M746 510h0M747 510h0M747 512h0M745 518h0M746 521h0M747 520h0M745 519h0M746 523h0M746 524h0M746 525h0M746 525h0M747 525h0M746 526h0M746 527h0M745 529h0M746 528h0M745 532h0M745 531h0M745 534h0M745 535h0M746 534h0M744 536h0M746 535h0M745 536h0M746 539h0M745 539h0M747 543h0M746 550h0M746 551h0M746 553h0M747 554h0M746 553h0M744 552h0M747 555h0M745 557h0M746 560h0M744 560h0M747 565h0M745 577h0M745 607h0M746 609h0M746 649h0M746 665h0M747 668h0M750 228h0M749 275h0M749 370h0M748 382h0M750 383h0M748 389h0M750 390h0M747 396h0M749 405h0M750 413h0M749 415h0M748 426h0M747 425h0M749 432h0M748 444h0M749 446h0M749 449h0M749 454h0M749 458h0M749 465h0M749 469h0M750 471h0M748 475h0M748 475h0M750 476h0M748 476h0M750 477h0M748 477h0M748 481h0M749 481h0M748 483h0M750 484h0M749 487h0M748 487h0M748 490h0M749 488h0M748 490h0M748 493h0M747 493h0M748 494h0M748 496h0M748 497h0M748 499h0M749 498h0M750 500h0M749 499h0M750 502h0M748 500h0M749 501h0M748 501h0M748 505h0M750 505h0M749 504h0M748 504h0M749 507h0M748 506h0M749 506h0M747 507h0M748 508h0M749 507h0M750 507h0M748 507h0M748 509h0M750 510h0M749 512h0M749 509h0M747 514h0M749 517h0M749 517h0M750 518h0M749 521h0M749 519h0M748 529h0M749 530h0M748 536h0M747 539h0M747 539h0M747 540h0M747 545h0M749 547h0M748 547h0M749 549h0M747 551h0M749 552h0M750 553h0M748 555h0M750 557h0M749 565h0M747 577h0M749 580h0M748 613h0M749 623h0M749 638h0M748 645h0M747 668h0M748 715h0M749 722h0M751 284h0M752 285h0M752 330h0M751 336h0M751 358h0M753 363h0M751 391h0M752 403h0M751 407h0M751 417h0M751 428h0M752 425h0M752 426h0M751 426h0M752 430h0M753 434h0M750 437h0M751 436h0M752 440h0M752 445h0M753 450h0M751 458h0M751 462h0M752 463h0M751 463h0M752 465h0M753 466h0M752 469h0M750 473h0M753 471h0M753 476h0M752 473h0M751 478h0M752 479h0M753 478h0M752 477h0M753 480h0M750 484h0M752 484h0M752 485h0M752 491h0M750 493h0M752 492h0M750 492h0M751 491h0M752 499h0M752 498h0M750 499h0M752 498h0M751 498h0M752 503h0M751 500h0M751 501h0M751 502h0M750 505h0M752 506h0M750 505h0M752 507h0M751 506h0M752 510h0M751 510h0M753 509h0M752 510h0M750 512h0M752 510h0M750 518h0M753 519h0M753 520h0M750 519h0M751 518h0M753 524h0M752 523h0M751 521h0M751 526h0M752 525h0M752 530h0M751 529h0M753 527h0M751 528h0M752 531h0M752 532h0M751 534h0M752 546h0M751 545h0M753 550h0M752 555h0M751 560h0M753 564h0M751 565h0M751 563h0M752 568h0M751 573h0M752 578h0M751 593h0M751 594h0M751 597h0M752 602h0M751 614h0M751 625h0M752 629h0M751 656h0M752 654h0M751 684h0M752 683h0M755 182h0M754 353h0M753 387h0M755 388h0M756 395h0M755 396h0M756 397h0M755 401h0M754 407h0M756 409h0M755 417h0M756 423h0M755 424h0M754 424h0M756 431h0M755 435h0M755 439h0M755 439h0M754 440h0M755 442h0M756 460h0M755 464h0M755 462h0M754 464h0M754 468h0M755 468h0M754 472h0M753 471h0M754 471h0M755 470h0M756 475h0M755 474h0M754 478h0M753 478h0M753 478h0M754 481h0M755 481h0M754 479h0M756 483h0M754 487h0M755 485h0M755 488h0M754 487h0M755 487h0M753 489h0M755 489h0M755 489h0M755 490h0M753 489h0M755 493h0M755 492h0M756 492h0M754 492h0M756 496h0M753 496h0M754 496h0M755 497h0M755 498h0M755 501h0M756 504h0M755 505h0M755 505h0M755 507h0M756 507h0M754 507h0M755 507h0M754 508h0M753 509h0M756 513h0M754 513h0M755 512h0M755 518h0M755 517h0M754 517h0M753 515h0M754 519h0M755 520h0M753 520h0M755 519h0M753 519h0M754 523h0M755 525h0M754 526h0M756 527h0M754 535h0M754 546h0M754 556h0M754 554h0M755 561h0M754 587h0M753 585h0M755 606h0M754 605h0M753 608h0M756 612h0M756 634h0M753 641h0M755 643h0M756 645h0M758 296h0M759 350h0M759 361h0M759 369h0M758 373h0M758 388h0M758 389h0M757 400h0M757 401h0M756 403h0M757 406h0M757 407h0M757 415h0M757 423h0M756 432h0M759 439h0M758 441h0M756 444h0M757 450h0M756 451h0M758 452h0M757 453h0M757 466h0M756 471h0M757 474h0M758 478h0M759 479h0M758 477h0M758 476h0M757 483h0M758 487h0M757 489h0M757 490h0M758 490h0M758 490h0M757 489h0M758 489h0M758 494h0M757 491h0M758 493h0M757 492h0M757 493h0M759 492h0M756 491h0M756 492h0M757 495h0M757 497h0M758 500h0M758 499h0M757 498h0M758 502h0M757 501h0M757 502h0M759 501h0M759 500h0M758 504h0M758 505h0M758 507h0M757 508h0M758 510h0M758 509h0M759 511h0M756 513h0M759 514h0M757 520h0M758 520h0M758 523h0M757 522h0M757 525h0M758 544h0M759 547h0M756 551h0M757 554h0M757 564h0M758 563h0M758 621h0M756 628h0M758 627h0M759 659h0M756 685h0M761 321h0M759 355h0M762 369h0M760 378h0M762 397h0M759 399h0M759 403h0M759 401h0M759 404h0M761 415h0M760 419h0M759 420h0M762 425h0M759 432h0M761 439h0M761 440h0M760 446h0M760 448h0M761 450h0M762 461h0M761 461h0M760 460h0M761 462h0M759 462h0M761 467h0M759 465h0M759 469h0M761 468h0M761 470h0M760 468h0M762 472h0M759 472h0M762 472h0M760 471h0M759 476h0M759 477h0M760 481h0M759 485h0M761 485h0M761 484h0M762 484h0M761 487h0M760 486h0M759 487h0M761 488h0M762 489h0M760 490h0M761 490h0M760 490h0M761 488h0M762 491h0M762 492h0M760 491h0M761 492h0M761 493h0M762 492h0M760 492h0M760 493h0M761 497h0M760 498h0M759 503h0M759 502h0M760 506h0M760 503h0M760 503h0M761 506h0M761 507h0M761 510h0M760 510h0M761 512h0M759 511h0M760 513h0M760 514h0M759 521h0M762 520h0M762 520h0M760 523h0M759 523h0M762 522h0M761 522h0M761 522h0M760 526h0M762 529h0M759 529h0M759 531h0M760 545h0M760 545h0M762 553h0M760 557h0M761 559h0M761 557h0M759 565h0M761 566h0M761 569h0M761 616h0M759 641h0M762 657h0M759 659h0M759 664h0M761 696h0M763 287h0M763 317h0M763 320h0M762 329h0M765 332h0M765 337h0M764 345h0M763 354h0M762 357h0M764 360h0M765 359h0M763 366h0M764 368h0M765 373h0M765 378h0M763 388h0M764 391h0M762 403h0M764 408h0M763 420h0M764 427h0M763 430h0M764 434h0M763 440h0M765 444h0M764 444h0M765 448h0M763 451h0M765 451h0M763 449h0M763 454h0M763 453h0M762 453h0M764 456h0M765 455h0M763 457h0M764 457h0M765 456h0M763 460h0M763 462h0M764 464h0M762 470h0M762 472h0M764 471h0M763 475h0M762 475h0M764 474h0M765 475h0M765 478h0M764 478h0M763 481h0M765 481h0M763 480h0M763 482h0M764 479h0M764 480h0M765 483h0M765 483h0M763 488h0M764 491h0M765 490h0M764 489h0M765 491h0M764 492h0M764 492h0M764 491h0M762 492h0M762 495h0M764 494h0M764 495h0M763 497h0M764 496h0M762 499h0M764 500h0M765 500h0M764 497h0M762 499h0M763 499h0M763 497h0M764 497h0M763 498h0M763 503h0M764 500h0M764 501h0M764 504h0M764 504h0M763 503h0M765 504h0M762 503h0M765 508h0M763 510h0M764 509h0M763 510h0M764 513h0M764 513h0M765 518h0M763 515h0M764 515h0M762 519h0M764 519h0M765 519h0M764 522h0M762 522h0M763 528h0M764 529h0M765 529h0M763 528h0M764 539h0M764 536h0M763 538h0M764 544h0M762 548h0M764 546h0M762 550h0M763 548h0M764 554h0M764 555h0M764 576h0M764 586h0M764 593h0M762 756h0M768 231h0M768 299h0M765 306h0M767 350h0M767 358h0M766 385h0M766 386h0M768 391h0M767 396h0M766 400h0M767 407h0M767 411h0M767 414h0M766 416h0M766 416h0M766 420h0M767 423h0M767 427h0M767 432h0M766 432h0M766 438h0M768 438h0M765 439h0M766 440h0M765 437h0M765 440h0M766 448h0M768 447h0M767 452h0M766 455h0M767 455h0M765 457h0M767 456h0M766 456h0M766 460h0M767 459h0M766 466h0M768 467h0M766 465h0M765 466h0M766 466h0M766 468h0M768 474h0M766 475h0M767 475h0M768 475h0M766 478h0M766 478h0M765 478h0M767 479h0M767 482h0M767 491h0M766 495h0M767 498h0M767 505h0M766 504h0M767 504h0M766 506h0M765 507h0M768 508h0M767 506h0M766 507h0M765 506h0M766 509h0M767 509h0M767 512h0M766 514h0M768 520h0M768 533h0M766 537h0M766 543h0M767 543h0M767 547h0M766 550h0M767 548h0M768 553h0M767 554h0M766 567h0M766 573h0M768 608h0M768 679h0M770 277h0M768 351h0M769 356h0M770 355h0M769 358h0M768 364h0M770 369h0M771 372h0M770 380h0M770 384h0M771 391h0M771 394h0M769 413h0M768 419h0M771 419h0M770 425h0M771 425h0M771 430h0M769 432h0M769 435h0M768 440h0M771 439h0M770 440h0M769 443h0M770 444h0M769 447h0M768 446h0M771 453h0M768 456h0M770 456h0M769 457h0M770 457h0M770 459h0M770 464h0M771 466h0M770 467h0M768 470h0M771 469h0M769 470h0M770 469h0M770 471h0M768 472h0M771 472h0M771 471h0M769 474h0M770 477h0M768 481h0M769 480h0M770 484h0M768 484h0M768 483h0M768 484h0M769 486h0M771 490h0M768 491h0M769 491h0M769 492h0M771 491h0M770 491h0M771 492h0M771 494h0M769 500h0M771 499h0M769 500h0M768 503h0M771 505h0M771 503h0M770 504h0M768 503h0M770 507h0M769 510h0M771 514h0M770 515h0M769 515h0M768 515h0M769 516h0M770 521h0M770 524h0M769 524h0M770 528h0M770 531h0M771 531h0M769 533h0M770 536h0M769 537h0M769 537h0M769 539h0M769 542h0M769 552h0M769 565h0M769 578h0M771 589h0M768 590h0M771 590h0M769 595h0M768 601h0M771 221h0M773 300h0M772 323h0M772 345h0M771 360h0M774 359h0M771 365h0M772 369h0M773 380h0M774 388h0M774 389h0M773 396h0M772 402h0M773 402h0M774 402h0M773 413h0M773 413h0M772 418h0M774 419h0M772 420h0M773 423h0M773 427h0M772 426h0M771 433h0M771 436h0M774 437h0M773 437h0M772 441h0M773 443h0M774 449h0M773 448h0M774 451h0M772 451h0M771 454h0M772 452h0M773 453h0M773 457h0M772 457h0M771 459h0M772 461h0M772 460h0M773 460h0M773 467h0M774 466h0M774 466h0M771 464h0M773 469h0M773 470h0M774 473h0M772 472h0M774 472h0M771 475h0M772 475h0M772 478h0M772 479h0M772 478h0M773 481h0M774 480h0M772 484h0M774 486h0M773 487h0M772 492h0M774 500h0M771 498h0M773 502h0M772 501h0M771 508h0M774 508h0M774 510h0M773 511h0M772 510h0M771 511h0M773 510h0M773 513h0M771 515h0M774 520h0M771 522h0M772 534h0M773 540h0M771 545h0M771 547h0M773 555h0M773 568h0M773 571h0M773 577h0M774 603h0M772 602h0M773 613h0M775 308h0M774 343h0M776 346h0M775 353h0M774 358h0M774 377h0M777 382h0M775 386h0M775 389h0M775 398h0M775 405h0M774 413h0M774 412h0M775 417h0M777 422h0M775 421h0M776 428h0M776 430h0M775 430h0M776 429h0M775 428h0M774 438h0M775 443h0M774 440h0M775 444h0M776 448h0M775 450h0M776 451h0M775 449h0M775 451h0M775 449h0M777 452h0M776 453h0M775 457h0M776 459h0M774 460h0M774 462h0M776 462h0M775 463h0M777 465h0M776 465h0M774 466h0M775 465h0M777 468h0M776 470h0M775 470h0M775 470h0M777 473h0M775 475h0M774 476h0M776 481h0M777 479h0M775 480h0M775 484h0M775 483h0M776 488h0M775 486h0M774 487h0M774 486h0M777 489h0M777 490h0M774 488h0M776 489h0M776 493h0M775 494h0M775 493h0M776 496h0M774 495h0M775 495h0M776 497h0M777 501h0M775 507h0M775 507h0M775 508h0M776 509h0M775 506h0M777 509h0M776 510h0M774 510h0M774 511h0M775 515h0M776 516h0M775 518h0M774 519h0M776 525h0M775 526h0M777 528h0M776 532h0M776 532h0M776 535h0M776 540h0M776 588h0M780 250h0M779 303h0M778 308h0M779 325h0M777 331h0M779 353h0M777 359h0M779 362h0M777 367h0M779 371h0M778 376h0M779 377h0M777 413h0M778 414h0M779 414h0M778 425h0M779 426h0M777 428h0M778 433h0M777 435h0M779 440h0M779 442h0M778 441h0M780 447h0M779 447h0M779 451h0M780 450h0M780 451h0M779 452h0M778 454h0M780 452h0M779 458h0M778 457h0M778 460h0M779 460h0M778 462h0M780 466h0M778 470h0M780 470h0M778 471h0M778 473h0M778 476h0M778 478h0M780 481h0M780 480h0M779 480h0M777 482h0M778 484h0M779 484h0M777 483h0M778 483h0M779 486h0M778 493h0M779 493h0M777 494h0M779 493h0M778 494h0M780 499h0M780 498h0M777 499h0M778 502h0M779 503h0M779 503h0M779 500h0M778 503h0M779 503h0M777 504h0M777 508h0M778 510h0M777 516h0M778 524h0M778 522h0M778 525h0M778 527h0M778 530h0M778 534h0M778 539h0M779 550h0M778 560h0M777 562h0M778 564h0M778 563h0M778 565h0M778 577h0M777 592h0M780 592h0M778 605h0M777 655h0M780 272h0M783 313h0M783 340h0M783 342h0M782 349h0M782 367h0M782 368h0M781 376h0M782 379h0M780 385h0M783 404h0M781 402h0M782 405h0M782 409h0M782 411h0M781 414h0M782 415h0M782 431h0M782 432h0M780 435h0M782 436h0M783 438h0M781 439h0M783 440h0M783 442h0M783 446h0M782 448h0M781 451h0M783 454h0M782 454h0M781 455h0M782 457h0M783 457h0M781 456h0M780 457h0M781 456h0M781 460h0M781 459h0M781 458h0M783 458h0M780 462h0M781 464h0M781 463h0M781 464h0M783 466h0M780 466h0M781 466h0M780 466h0M780 468h0M780 469h0M782 470h0M782 470h0M782 471h0M782 471h0M783 470h0M782 475h0M780 474h0M781 474h0M783 475h0M781 475h0M780 480h0M781 482h0M780 482h0M782 483h0M781 484h0M782 486h0M780 488h0M780 496h0M782 496h0M780 497h0M782 499h0M782 503h0M783 504h0M783 506h0M781 509h0M783 508h0M780 511h0M783 510h0M783 514h0M780 516h0M782 519h0M781 523h0M782 522h0M783 526h0M781 529h0M781 530h0M781 540h0M782 581h0M782 590h0M782 592h0M783 691h0M786 295h0M784 310h0M785 318h0M785 324h0M784 327h0M786 338h0M786 345h0M785 355h0M785 356h0M784 359h0M786 364h0M784 363h0M784 367h0M785 366h0M784 366h0M783 374h0M785 377h0M785 383h0M785 385h0M785 390h0M785 390h0M783 389h0M784 394h0M784 394h0M784 397h0M786 401h0M784 398h0M784 407h0M784 425h0M784 423h0M783 426h0M784 428h0M785 430h0M785 429h0M786 437h0M784 440h0M783 443h0M783 441h0M783 442h0M785 448h0M785 449h0M785 448h0M783 447h0M785 449h0M786 453h0M784 453h0M786 454h0M784 453h0M783 455h0M783 455h0M784 457h0M785 456h0M783 457h0M785 459h0M785 460h0M785 461h0M785 458h0M784 458h0M785 458h0M784 459h0M785 463h0M784 462h0M786 462h0M784 462h0M785 464h0M785 465h0M784 468h0M786 473h0M783 472h0M786 471h0M784 477h0M783 478h0M784 479h0M783 485h0M783 486h0M784 489h0M784 490h0M783 489h0M785 491h0M785 497h0M784 498h0M783 503h0M785 507h0M783 512h0M784 510h0M785 509h0M785 524h0M784 525h0M785 530h0M785 530h0M785 546h0M786 553h0M784 551h0M783 561h0M784 578h0M785 596h0M786 654h0M787 249h0M786 282h0M787 339h0M786 341h0M789 345h0M787 353h0M788 363h0M788 366h0M788 375h0M787 387h0M787 401h0M787 403h0M787 411h0M787 421h0M787 421h0M787 421h0M788 419h0M786 422h0M787 428h0M787 431h0M786 437h0M787 436h0M786 440h0M787 443h0M787 445h0M787 443h0M786 447h0M787 447h0M789 448h0M787 449h0M789 447h0M788 452h0M789 452h0M789 450h0M787 451h0M788 450h0M789 450h0M788 453h0M787 452h0M786 453h0M788 455h0M788 456h0M789 461h0M788 461h0M789 462h0M787 463h0M787 463h0M787 464h0M787 465h0M788 469h0M787 468h0M787 472h0M787 475h0M787 477h0M789 480h0M787 483h0M789 482h0M786 486h0M788 497h0M786 495h0M788 495h0M787 501h0M788 504h0M787 508h0M787 507h0M788 507h0M786 509h0M788 516h0M788 516h0M789 518h0M788 520h0M788 535h0M788 543h0M788 547h0M787 549h0M786 571h0M789 588h0M789 268h0M790 377h0M791 402h0M791 407h0M789 408h0M791 420h0M792 423h0M791 423h0M789 429h0M790 431h0M790 434h0M789 440h0M791 439h0M791 442h0M791 446h0M791 449h0M790 447h0M790 448h0M789 448h0M789 449h0M790 450h0M789 450h0M789 455h0M791 452h0M790 457h0M789 455h0M790 457h0M789 457h0M792 457h0M789 456h0M790 458h0M790 460h0M790 460h0M789 459h0M790 460h0M790 460h0M791 463h0M791 462h0M789 461h0M791 463h0M792 465h0M791 466h0M791 471h0M790 475h0M791 475h0M792 479h0M789 479h0M791 481h0M790 482h0M789 483h0M791 487h0M790 493h0M790 492h0M792 524h0M791 554h0M792 560h0M791 566h0M791 580h0M792 598h0M793 216h0M795 285h0M792 288h0M793 352h0M793 352h0M792 361h0M794 361h0M793 363h0M794 364h0M792 366h0M792 377h0M793 379h0M793 383h0M793 380h0M793 393h0M795 402h0M794 414h0M793 424h0M793 424h0M793 423h0M793 427h0M794 426h0M795 431h0M794 431h0M794 433h0M792 433h0M795 438h0M794 440h0M794 444h0M794 448h0M795 449h0M793 446h0M793 448h0M794 450h0M794 450h0M794 452h0M795 453h0M793 454h0M792 452h0M792 454h0M795 454h0M795 452h0M794 452h0M794 454h0M795 455h0M794 456h0M793 457h0M792 457h0M794 460h0M793 461h0M792 460h0M794 460h0M793 460h0M793 459h0M793 460h0M794 462h0M793 462h0M793 462h0M795 464h0M792 469h0M792 470h0M794 478h0M795 477h0M794 478h0M794 477h0M792 486h0M794 489h0M793 490h0M793 494h0M793 496h0M793 510h0M793 532h0M792 537h0M795 545h0M793 543h0M794 549h0M793 553h0M793 555h0M795 557h0M795 563h0M794 563h0M795 566h0M792 573h0M792 579h0M793 609h0M796 291h0M796 337h0M797 336h0M796 356h0M796 359h0M795 375h0M795 379h0M797 380h0M798 380h0M798 385h0M796 390h0M796 392h0M796 392h0M798 393h0M796 396h0M798 400h0M797 406h0M798 421h0M798 422h0M797 429h0M796 430h0M797 431h0M795 433h0M796 435h0M798 436h0M797 441h0M796 442h0M798 444h0M796 445h0M796 446h0M795 448h0M796 448h0M796 447h0M797 449h0M797 451h0M795 449h0M797 450h0M796 449h0M796 454h0M795 454h0M795 454h0M797 453h0M795 454h0M797 453h0M797 456h0M795 457h0M795 456h0M796 456h0M796 458h0M797 458h0M797 460h0M797 458h0M797 459h0M796 459h0M798 460h0M796 462h0M797 461h0M796 464h0M797 465h0M796 465h0M795 470h0M795 469h0M797 473h0M796 471h0M798 474h0M796 474h0M796 476h0M797 478h0M795 479h0M796 482h0M798 479h0M796 481h0M796 486h0M796 490h0M795 489h0M797 509h0M796 509h0M797 533h0M798 534h0M798 545h0M797 556h0M797 568h0M796 577h0M795 581h0M796 591h0M795 600h0M795 646h0M800 288h0M799 292h0M800 302h0M798 318h0M800 332h0M798 334h0M799 344h0M799 353h0M800 354h0M799 361h0M801 364h0M799 367h0M799 373h0M799 380h0M799 398h0M798 395h0M800 404h0M800 408h0M800 409h0M799 413h0M799 414h0M801 414h0M800 420h0M799 428h0M800 432h0M801 433h0M800 436h0M799 437h0M798 443h0M799 440h0M801 441h0M800 442h0M800 445h0M800 444h0M799 446h0M800 446h0M800 449h0M800 451h0M800 451h0M801 454h0M799 453h0M799 457h0M798 456h0M798 459h0M800 465h0M798 465h0M800 469h0M800 469h0M798 467h0M799 473h0M801 472h0M799 473h0M801 478h0M798 479h0M799 478h0M799 480h0M799 482h0M800 484h0M798 485h0M799 486h0M800 489h0M799 493h0M799 506h0M801 516h0M799 521h0M800 525h0M800 533h0M799 538h0M798 552h0M799 554h0M801 574h0M804 189h0M802 298h0M802 320h0M802 333h0M804 341h0M801 363h0M804 363h0M801 378h0M803 378h0M801 380h0M802 386h0M802 385h0M803 397h0M804 401h0M803 403h0M803 405h0M804 406h0M801 418h0M803 418h0M804 424h0M803 430h0M802 430h0M803 433h0M803 432h0M803 433h0M804 435h0M801 436h0M802 440h0M804 438h0M802 442h0M802 444h0M804 451h0M801 452h0M804 452h0M802 455h0M804 456h0M803 461h0M804 460h0M803 459h0M804 463h0M804 467h0M802 466h0M802 465h0M801 468h0M804 470h0M804 469h0M803 471h0M802 471h0M804 471h0M803 475h0M804 479h0M803 480h0M803 479h0M804 482h0M803 483h0M801 486h0M802 485h0M801 489h0M804 496h0M803 499h0M803 514h0M801 533h0M804 533h0M803 555h0M801 560h0M804 568h0M802 616h0M806 186h0M806 263h0M807 261h0M804 289h0M806 331h0M807 352h0M806 361h0M804 370h0M804 374h0M806 371h0M806 373h0M804 381h0M806 385h0M805 384h0M806 387h0M806 389h0M806 400h0M805 400h0M804 406h0M805 409h0M805 409h0M804 414h0M806 416h0M805 416h0M805 419h0M806 421h0M807 423h0M806 423h0M805 422h0M806 437h0M805 435h0M804 437h0M805 441h0M807 445h0M806 445h0M805 444h0M807 447h0M806 449h0M804 451h0M807 454h0M807 455h0M806 457h0M804 457h0M805 459h0M806 460h0M807 460h0M806 462h0M805 463h0M804 461h0M806 466h0M805 466h0M804 468h0M804 473h0M805 475h0M805 476h0M806 474h0M804 477h0M805 478h0M804 480h0M805 482h0M804 488h0M804 488h0M804 490h0M807 499h0M805 503h0M807 511h0M805 534h0M805 533h0M804 552h0M807 559h0M807 560h0M806 609h0M809 166h0M808 280h0M808 295h0M808 356h0M810 358h0M807 362h0M809 362h0M807 371h0M807 375h0M808 377h0M809 378h0M809 379h0M809 381h0M810 392h0M810 395h0M809 397h0M808 404h0M807 403h0M808 404h0M808 409h0M808 408h0M808 407h0M807 411h0M809 413h0M808 413h0M808 418h0M808 419h0M808 418h0M808 420h0M808 425h0M808 425h0M809 424h0M810 423h0M807 422h0M809 423h0M809 429h0M810 429h0M807 431h0M810 436h0M807 438h0M809 438h0M809 443h0M807 445h0M809 446h0M809 448h0M808 448h0M808 450h0M807 449h0M807 454h0M809 453h0M808 455h0M809 457h0M808 457h0M809 457h0M809 458h0M810 458h0M808 463h0M810 466h0M809 468h0M808 469h0M807 470h0M810 470h0M810 476h0M809 483h0M807 486h0M809 490h0M808 491h0M808 496h0M810 503h0M809 524h0M810 532h0M808 539h0M808 549h0M809 554h0M809 571h0M810 583h0M808 619h0M809 622h0M811 279h0M810 280h0M810 288h0M811 324h0M813 335h0M810 338h0M812 341h0M812 338h0M812 343h0M811 357h0M813 369h0M812 370h0M812 380h0M813 383h0M813 391h0M812 392h0M812 396h0M812 396h0M813 400h0M811 403h0M811 401h0M811 402h0M811 406h0M813 406h0M813 405h0M812 405h0M810 416h0M811 414h0M810 414h0M812 419h0M810 418h0M811 418h0M811 420h0M811 419h0M811 422h0M813 424h0M810 422h0M812 425h0M811 426h0M810 426h0M810 427h0M810 429h0M812 430h0M811 428h0M812 428h0M813 433h0M812 434h0M813 436h0M810 436h0M811 436h0M811 437h0M812 434h0M810 439h0M810 437h0M811 443h0M811 443h0M812 445h0M812 444h0M813 449h0M812 448h0M812 447h0M812 449h0M812 452h0M812 452h0M811 454h0M812 458h0M810 459h0M812 462h0M812 461h0M812 466h0M810 468h0M811 469h0M813 469h0M812 468h0M811 473h0M812 470h0M811 471h0M811 475h0M812 476h0M811 473h0M812 477h0M812 481h0M811 480h0M810 480h0M812 480h0M811 482h0M812 482h0M810 486h0M811 491h0M812 489h0M812 498h0M812 519h0M810 524h0M810 538h0M812 540h0M811 548h0M812 576h0M813 584h0M813 298h0M814 305h0M814 321h0M814 325h0M815 343h0M815 347h0M813 357h0M814 360h0M814 368h0M814 375h0M814 379h0M815 381h0M813 385h0M815 388h0M814 390h0M815 390h0M815 399h0M815 400h0M814 399h0M815 401h0M815 402h0M815 403h0M814 405h0M813 406h0M815 404h0M813 407h0M813 409h0M816 410h0M815 412h0M813 412h0M814 415h0M813 415h0M813 415h0M816 415h0M815 413h0M815 416h0M815 419h0M813 417h0M816 418h0M814 421h0M815 423h0M816 424h0M814 428h0M815 425h0M813 429h0M815 429h0M815 433h0M815 432h0M814 435h0M813 439h0M816 443h0M815 441h0M816 444h0M813 445h0M815 447h0M814 447h0M815 446h0M815 448h0M815 450h0M814 451h0M814 456h0M815 459h0M815 460h0M814 459h0M815 459h0M814 464h0M815 464h0M815 464h0M813 462h0M816 467h0M814 467h0M814 470h0M816 476h0M815 478h0M816 476h0M815 481h0M814 479h0M813 487h0M815 492h0M815 492h0M816 513h0M813 532h0M815 534h0M813 538h0M814 540h0M816 556h0M817 271h0M818 281h0M817 287h0M817 314h0M819 318h0M818 318h0M818 329h0M817 340h0M818 365h0M816 372h0M817 371h0M817 384h0M818 389h0M819 392h0M818 402h0M818 404h0M816 407h0M818 408h0M818 412h0M818 411h0M817 411h0M818 415h0M818 416h0M818 415h0M818 416h0M819 417h0M817 424h0M817 423h0M817 427h0M817 428h0M816 428h0M817 432h0M816 432h0M818 439h0M817 440h0M818 442h0M819 446h0M818 445h0M818 446h0M817 449h0M816 451h0M818 450h0M816 452h0M819 457h0M817 460h0M817 462h0M817 461h0M817 462h0M819 467h0M818 467h0M817 468h0M816 478h0M817 479h0M817 481h0M817 481h0M819 482h0M817 482h0M817 505h0M818 543h0M817 564h0M818 629h0M822 275h0M819 313h0M821 324h0M819 327h0M819 327h0M822 364h0M820 366h0M822 376h0M820 377h0M820 385h0M819 384h0M820 387h0M819 390h0M821 392h0M822 394h0M820 397h0M822 397h0M822 396h0M820 399h0M821 401h0M821 409h0M820 408h0M820 413h0M822 411h0M822 414h0M820 417h0M820 419h0M820 416h0M821 418h0M821 422h0M821 425h0M820 427h0M822 426h0M820 429h0M822 429h0M819 432h0M820 435h0M820 437h0M821 439h0M819 439h0M819 437h0M820 441h0M820 444h0M820 445h0M821 446h0M819 448h0M821 447h0M820 446h0M820 451h0M820 451h0M821 454h0M819 456h0M822 457h0M821 458h0M821 457h0M821 459h0M820 459h0M821 461h0M821 464h0M820 465h0M821 468h0M822 469h0M822 469h0M821 470h0M819 471h0M820 471h0M820 474h0M820 473h0M820 479h0M821 481h0M819 481h0M820 524h0M820 534h0M820 557h0M819 557h0M823 207h0M824 284h0M823 302h0M824 310h0M823 311h0M824 315h0M824 322h0M823 324h0M825 339h0M824 340h0M825 365h0M823 380h0M822 381h0M824 383h0M823 386h0M823 385h0M824 383h0M825 384h0M823 390h0M824 389h0M822 392h0M822 395h0M824 400h0M823 400h0M823 404h0M822 408h0M825 413h0M823 414h0M823 414h0M822 417h0M822 417h0M824 417h0M824 416h0M822 418h0M825 421h0M822 420h0M823 427h0M823 426h0M825 427h0M823 427h0M824 427h0M824 426h0M825 430h0M824 433h0M823 435h0M822 435h0M822 436h0M824 440h0M823 439h0M824 441h0M822 445h0M825 445h0M824 447h0M823 448h0M825 454h0M823 464h0M823 465h0M824 467h0M823 470h0M824 468h0M823 471h0M824 476h0M823 474h0M823 504h0M823 515h0M823 522h0M824 531h0M824 572h0M825 268h0M826 282h0M828 307h0M826 314h0M826 323h0M826 348h0M826 354h0M825 378h0M827 377h0M828 381h0M826 388h0M827 386h0M827 390h0M827 393h0M825 394h0M828 397h0M827 400h0M828 402h0M826 406h0M828 406h0M826 406h0M826 405h0M826 408h0M826 409h0M827 412h0M825 413h0M826 410h0M827 412h0M826 415h0M827 414h0M827 414h0M826 418h0M826 417h0M827 419h0M826 420h0M825 422h0M825 427h0M828 426h0M827 426h0M825 428h0M826 426h0M827 427h0M826 431h0M826 430h0M827 431h0M826 434h0M826 433h0M828 435h0M828 443h0M828 443h0M825 444h0M827 448h0M828 448h0M828 448h0M825 452h0M827 455h0M825 456h0M828 461h0M826 462h0M828 463h0M825 473h0M828 479h0M828 503h0M826 526h0M825 549h0M827 550h0M825 596h0M831 236h0M829 253h0M829 300h0M828 311h0M830 312h0M829 328h0M828 335h0M828 351h0M831 365h0M829 363h0M829 368h0M830 377h0M830 388h0M829 396h0M830 397h0M831 399h0M829 402h0M828 401h0M830 403h0M830 403h0M831 407h0M829 405h0M828 407h0M829 410h0M829 409h0M829 411h0M829 410h0M829 410h0M829 418h0M830 417h0M830 418h0M831 420h0M828 422h0M830 423h0M829 423h0M828 425h0M830 427h0M831 427h0M828 429h0M831 433h0M829 433h0M830 431h0M828 435h0M830 434h0M829 435h0M828 434h0M829 438h0M828 438h0M830 440h0M828 443h0M829 443h0M830 446h0M828 448h0M830 454h0M831 452h0M830 475h0M831 539h0M829 539h0M829 565h0M829 564h0M831 249h0M831 287h0M833 317h0M834 319h0M832 346h0M834 358h0M833 363h0M832 366h0M831 372h0M832 381h0M831 384h0M831 387h0M833 389h0M833 388h0M832 389h0M833 392h0M833 391h0M833 390h0M832 391h0M833 398h0M833 403h0M832 403h0M831 407h0M831 409h0M833 409h0M831 412h0M832 411h0M831 416h0M831 415h0M833 418h0M833 417h0M833 419h0M832 418h0M834 418h0M833 422h0M831 420h0M831 420h0M832 421h0M832 422h0M832 423h0M832 424h0M831 424h0M833 428h0M833 426h0M832 426h0M832 429h0M831 429h0M832 428h0M832 433h0M833 431h0M833 434h0M834 438h0M831 443h0M833 445h0M832 445h0M833 448h0M832 448h0M832 448h0M834 453h0M833 465h0M832 467h0M832 491h0M832 512h0M832 598h0M837 255h0M834 276h0M835 291h0M835 297h0M837 306h0M835 314h0M837 330h0M837 334h0M836 337h0M836 338h0M836 341h0M835 346h0M835 348h0M834 360h0M837 374h0M836 371h0M835 371h0M836 380h0M836 382h0M835 384h0M835 388h0M835 398h0M837 395h0M834 397h0M835 400h0M834 401h0M835 406h0M837 406h0M835 406h0M837 405h0M836 409h0M834 407h0M836 410h0M835 415h0M835 415h0M834 414h0M836 414h0M834 415h0M835 415h0M835 415h0M835 416h0M835 419h0M836 419h0M834 418h0M836 418h0M837 420h0M835 420h0M835 420h0M837 423h0M836 425h0M836 426h0M834 427h0M837 426h0M836 426h0M836 431h0M836 431h0M835 438h0M834 438h0M835 438h0M836 438h0M836 442h0M837 442h0M836 441h0M835 441h0M836 441h0M836 443h0M836 447h0M836 448h0M836 451h0M835 456h0M836 460h0M834 482h0M837 512h0M834 531h0M837 540h0M835 615h0M839 264h0M838 265h0M837 279h0M840 287h0M838 290h0M839 296h0M840 304h0M837 312h0M837 315h0M840 369h0M839 370h0M839 373h0M838 387h0M838 387h0M840 389h0M839 390h0M840 391h0M839 393h0M839 394h0M839 393h0M838 395h0M838 397h0M837 400h0M839 400h0M839 401h0M837 403h0M838 405h0M838 406h0M839 407h0M838 407h0M837 408h0M838 412h0M839 412h0M838 412h0M838 414h0M839 416h0M838 419h0M839 417h0M839 417h0M837 416h0M838 418h0M839 417h0M838 420h0M839 420h0M837 421h0M840 424h0M838 427h0M838 425h0M838 426h0M839 427h0M839 429h0M838 430h0M840 431h0M840 435h0M837 436h0M838 435h0M839 440h0M838 442h0M838 441h0M838 443h0M838 443h0M839 443h0M839 443h0M839 446h0M840 447h0M839 447h0M838 453h0M837 452h0M839 455h0M838 455h0M838 459h0M838 464h0M840 485h0M837 496h0M839 529h0M839 553h0M840 565h0M841 256h0M842 278h0M843 292h0M842 299h0M843 306h0M842 313h0M840 318h0M842 337h0M842 347h0M843 348h0M843 351h0M841 379h0M843 382h0M841 384h0M841 386h0M842 388h0M842 389h0M842 390h0M842 392h0M841 392h0M842 403h0M842 404h0M840 405h0M842 406h0M841 405h0M843 407h0M841 404h0M840 404h0M840 407h0M841 411h0M841 411h0M841 414h0M843 416h0M840 415h0M842 414h0M841 417h0M841 419h0M843 418h0M842 420h0M841 421h0M840 422h0M841 420h0M841 419h0M841 420h0M840 423h0M840 424h0M841 427h0M841 426h0M841 425h0M843 426h0M840 430h0M842 431h0M843 430h0M841 429h0M842 432h0M840 434h0M842 435h0M842 435h0M842 435h0M842 438h0M842 444h0M841 448h0M840 449h0M842 451h0M840 456h0M841 458h0M843 462h0M841 475h0M841 476h0M842 478h0M843 479h0M841 488h0M843 525h0M840 544h0M842 605h0M845 257h0M844 288h0M844 295h0M845 297h0M845 299h0M845 299h0M845 313h0M845 312h0M844 317h0M846 317h0M844 320h0M845 317h0M845 327h0M843 331h0M845 330h0M846 330h0M843 331h0M844 340h0M845 350h0M846 364h0M844 364h0M844 365h0M845 368h0M845 376h0M844 374h0M844 379h0M845 377h0M845 381h0M843 384h0M845 385h0M845 383h0M844 384h0M846 391h0M845 391h0M845 390h0M845 389h0M845 391h0M845 389h0M845 393h0M844 394h0M844 396h0M845 399h0M844 398h0M844 398h0M843 401h0M843 403h0M844 404h0M845 402h0M845 403h0M844 402h0M845 406h0M846 406h0M845 408h0M845 409h0M845 411h0M845 414h0M844 414h0M845 417h0M843 418h0M843 420h0M843 420h0M845 422h0M846 421h0M845 422h0M844 424h0M845 428h0M845 426h0M845 430h0M845 431h0M844 433h0M843 436h0M844 436h0M846 434h0M844 434h0M845 439h0M846 440h0M844 438h0M845 439h0M844 444h0M844 445h0M843 444h0M845 444h0M843 452h0M844 452h0M846 454h0M844 456h0M843 462h0M845 471h0M845 484h0M843 502h0M847 253h0M849 277h0M848 277h0M849 279h0M846 287h0M849 288h0M849 290h0M848 296h0M847 302h0M847 320h0M848 326h0M847 328h0M848 337h0M847 342h0M848 349h0M846 352h0M847 359h0M848 357h0M846 358h0M847 364h0M846 363h0M847 366h0M849 368h0M849 370h0M846 369h0M846 370h0M848 370h0M849 372h0M847 373h0M849 372h0M847 374h0M848 377h0M849 381h0M847 384h0M848 384h0M847 384h0M847 387h0M846 388h0M848 386h0M847 392h0M846 391h0M848 389h0M846 394h0M846 393h0M846 397h0M849 404h0M848 404h0M846 409h0M849 407h0M847 412h0M847 412h0M847 415h0M849 414h0M849 415h0M849 418h0M848 417h0M847 417h0M848 422h0M847 421h0M848 425h0M846 424h0M847 425h0M847 423h0M849 423h0M848 424h0M848 427h0M847 426h0M848 426h0M847 430h0M849 433h0M849 433h0M848 433h0M848 432h0M847 435h0M847 435h0M848 434h0M847 435h0M848 441h0M849 448h0M848 447h0M848 451h0M848 450h0M848 490h0M847 547h0M849 258h0M850 269h0M850 285h0M849 294h0M851 304h0M851 331h0M851 332h0M850 332h0M852 345h0M851 349h0M851 349h0M852 358h0M850 359h0M851 364h0M849 371h0M849 371h0M850 370h0M852 368h0M852 368h0M849 373h0M850 373h0M851 373h0M850 380h0M849 383h0M849 382h0M851 382h0M850 385h0M850 387h0M852 387h0M850 390h0M850 390h0M850 389h0M850 390h0M849 391h0M852 394h0M851 397h0M851 398h0M850 396h0M852 396h0M849 395h0M852 401h0M852 402h0M851 401h0M851 404h0M850 406h0M850 405h0M850 405h0M851 409h0M851 411h0M851 410h0M851 411h0M852 414h0M850 417h0M850 420h0M851 421h0M851 423h0M850 425h0M851 427h0M852 427h0M849 426h0M849 431h0M851 433h0M852 435h0M849 435h0M851 438h0M850 439h0M850 438h0M849 443h0M851 447h0M850 449h0M850 484h0M850 500h0M850 512h0M850 516h0M853 227h0M854 268h0M855 298h0M853 308h0M852 320h0M853 324h0M854 323h0M853 324h0M855 328h0M855 331h0M854 332h0M855 342h0M852 341h0M853 341h0M853 354h0M854 355h0M854 355h0M853 360h0M854 361h0M853 362h0M853 365h0M854 365h0M854 369h0M854 374h0M855 372h0M854 372h0M852 374h0M853 377h0M854 375h0M854 379h0M853 384h0M852 384h0M854 384h0M853 384h0M853 388h0M853 387h0M853 388h0M852 388h0M853 392h0M854 390h0M854 391h0M853 391h0M854 391h0M855 392h0M855 392h0M854 395h0M853 396h0M853 396h0M853 398h0M854 401h0M853 401h0M853 402h0M852 405h0M854 406h0M854 406h0M853 410h0M854 411h0M852 410h0M853 411h0M853 414h0M853 416h0M853 416h0M855 417h0M854 417h0M854 416h0M853 416h0M853 420h0M854 422h0M853 419h0M853 423h0M852 425h0M855 428h0M854 429h0M854 429h0M853 433h0M854 432h0M854 432h0M855 434h0M853 437h0M855 438h0M854 440h0M852 442h0M853 443h0M854 445h0M853 449h0M853 462h0M853 469h0M854 471h0M853 497h0M854 498h0M852 605h0M856 270h0M857 274h0M857 283h0M857 288h0M856 291h0M858 299h0M856 298h0M857 302h0M856 321h0M857 331h0M855 341h0M855 340h0M857 350h0M856 351h0M857 357h0M856 360h0M856 362h0M857 362h0M858 363h0M856 364h0M857 363h0M856 368h0M855 366h0M857 373h0M856 373h0M858 371h0M857 372h0M857 377h0M858 375h0M856 376h0M855 377h0M856 379h0M856 381h0M856 383h0M857 385h0M857 383h0M857 385h0M856 389h0M858 387h0M857 387h0M857 386h0M856 394h0M855 395h0M856 395h0M855 393h0M856 397h0M856 398h0M855 396h0M856 397h0M857 399h0M856 399h0M855 401h0M858 403h0M858 402h0M856 406h0M856 410h0M855 409h0M857 411h0M855 410h0M856 418h0M856 418h0M857 420h0M857 420h0M857 421h0M855 424h0M856 423h0M858 422h0M856 427h0M856 426h0M856 426h0M855 426h0M857 432h0M857 434h0M858 442h0M858 445h0M855 446h0M857 447h0M856 476h0M855 585h0M860 273h0M861 280h0M861 280h0M858 281h0M859 286h0M859 294h0M861 297h0M859 300h0M860 301h0M860 301h0M860 305h0M858 307h0M859 310h0M858 315h0M861 319h0M859 323h0M859 321h0M860 325h0M860 326h0M859 332h0M861 337h0M858 347h0M860 349h0M860 353h0M860 354h0M859 356h0M859 353h0M859 356h0M858 361h0M858 360h0M859 363h0M859 367h0M861 368h0M860 368h0M859 370h0M859 372h0M860 374h0M861 375h0M861 377h0M860 380h0M859 377h0M859 378h0M860 382h0M861 381h0M860 384h0M860 385h0M860 388h0M859 388h0M860 386h0M858 388h0M860 388h0M861 388h0M860 391h0M859 391h0M859 389h0M859 391h0M861 394h0M858 394h0M859 393h0M860 394h0M859 393h0M859 394h0M860 393h0M860 398h0M858 397h0M859 396h0M859 396h0M858 396h0M860 399h0M860 404h0M860 401h0M859 404h0M858 403h0M861 404h0M861 407h0M860 411h0M861 415h0M861 414h0M860 416h0M859 417h0M860 418h0M859 420h0M859 423h0M858 427h0M860 429h0M858 434h0M861 431h0M860 435h0M859 440h0M859 439h0M860 441h0M859 443h0M860 445h0M859 446h0M860 445h0M861 446h0M859 451h0M860 455h0M859 489h0M860 493h0M861 526h0M860 578h0M862 277h0M863 288h0M862 291h0M862 295h0M863 295h0M863 300h0M864 304h0M864 309h0M862 323h0M863 322h0M862 330h0M863 333h0M863 337h0M862 346h0M863 345h0M861 349h0M863 349h0M864 351h0M863 356h0M863 355h0M862 357h0M863 362h0M864 364h0M862 370h0M862 370h0M863 370h0M863 370h0M861 372h0M862 373h0M862 374h0M863 373h0M862 372h0M862 373h0M864 376h0M863 375h0M863 377h0M862 376h0M862 375h0M862 377h0M863 377h0M862 380h0M862 381h0M861 383h0M862 384h0M862 385h0M861 385h0M862 388h0M864 387h0M862 389h0M863 389h0M862 390h0M861 390h0M863 392h0M861 394h0M864 394h0M862 394h0M863 396h0M864 398h0M862 397h0M862 398h0M861 396h0M863 400h0M863 404h0M862 406h0M862 405h0M863 411h0M862 411h0M863 415h0M863 420h0M862 430h0M862 433h0M863 436h0M862 436h0M863 435h0M862 435h0M863 435h0M861 442h0M864 503h0M866 277h0M866 280h0M865 279h0M865 293h0M865 306h0M864 312h0M864 322h0M866 325h0M864 335h0M866 339h0M865 344h0M865 342h0M867 345h0M866 346h0M864 352h0M864 353h0M866 353h0M865 358h0M866 360h0M866 363h0M865 364h0M866 363h0M867 367h0M865 367h0M867 366h0M866 367h0M866 366h0M865 368h0M866 371h0M866 373h0M867 375h0M865 377h0M866 379h0M867 379h0M865 377h0M864 381h0M866 381h0M866 386h0M865 383h0M865 386h0M864 388h0M866 391h0M866 391h0M865 392h0M866 393h0M867 393h0M864 396h0M865 402h0M865 402h0M864 403h0M864 403h0M867 404h0M865 405h0M866 405h0M866 410h0M866 411h0M866 412h0M866 410h0M866 411h0M865 414h0M866 415h0M866 418h0M864 423h0M865 422h0M865 425h0M866 426h0M865 425h0M866 425h0M865 426h0M866 426h0M867 429h0M867 430h0M864 432h0M866 432h0M865 432h0M865 435h0M867 434h0M866 439h0M865 439h0M866 446h0M866 450h0M865 450h0M866 472h0M864 471h0M867 478h0M866 481h0M868 250h0M870 254h0M870 257h0M870 261h0M869 286h0M868 290h0M868 290h0M867 305h0M867 317h0M869 331h0M868 330h0M869 335h0M867 336h0M868 340h0M868 342h0M867 345h0M867 347h0M868 348h0M868 349h0M869 350h0M869 350h0M869 351h0M868 355h0M869 356h0M869 355h0M870 358h0M868 361h0M869 361h0M869 360h0M869 360h0M868 360h0M868 362h0M870 362h0M867 366h0M868 368h0M869 370h0M868 369h0M868 370h0M870 372h0M869 376h0M869 374h0M868 374h0M870 375h0M869 378h0M869 379h0M870 380h0M869 380h0M868 379h0M870 378h0M868 377h0M868 381h0M868 381h0M868 382h0M868 381h0M868 383h0M869 389h0M870 386h0M869 391h0M869 392h0M870 390h0M867 390h0M867 390h0M868 393h0M868 393h0M869 394h0M869 394h0M867 397h0M870 396h0M868 398h0M868 404h0M869 403h0M868 402h0M869 406h0M869 409h0M869 407h0M867 411h0M868 411h0M868 414h0M869 414h0M869 421h0M868 424h0M869 426h0M869 427h0M868 432h0M869 431h0M869 432h0M868 434h0M868 442h0M868 447h0M867 446h0M868 454h0M869 459h0M868 470h0M867 479h0M867 482h0M871 252h0M872 270h0M871 277h0M872 276h0M872 279h0M873 295h0M871 298h0M870 307h0M871 305h0M872 313h0M871 325h0M871 333h0M873 338h0M871 342h0M873 345h0M871 346h0M872 355h0M870 359h0M872 361h0M870 364h0M871 364h0M871 366h0M873 367h0M870 365h0M872 367h0M873 366h0M872 370h0M873 370h0M873 376h0M871 375h0M870 377h0M871 378h0M873 383h0M870 385h0M871 385h0M871 388h0M871 389h0M870 391h0M873 391h0M872 391h0M870 393h0M873 393h0M873 392h0M871 394h0M871 397h0M872 401h0M873 400h0M872 398h0M872 399h0M871 403h0M873 405h0M871 406h0M872 408h0M871 411h0M871 412h0M870 411h0M872 417h0M872 416h0M872 422h0M872 423h0M872 422h0M870 427h0M872 436h0M870 435h0M872 441h0M872 452h0M875 226h0M874 274h0M874 272h0M874 283h0M876 281h0M875 300h0M874 305h0M875 313h0M876 312h0M876 316h0M875 322h0M873 324h0M873 327h0M873 335h0M875 338h0M875 346h0M875 344h0M873 348h0M874 354h0M874 355h0M875 359h0M875 364h0M876 366h0M876 368h0M874 371h0M874 369h0M873 374h0M875 372h0M874 372h0M875 371h0M876 373h0M874 373h0M876 372h0M876 374h0M873 376h0M874 376h0M873 374h0M875 378h0M874 379h0M875 380h0M874 383h0M875 386h0M874 384h0M874 384h0M873 384h0M873 385h0M873 384h0M874 384h0M876 385h0M875 388h0M874 389h0M874 390h0M875 390h0M875 392h0M874 394h0M875 393h0M875 397h0M876 399h0M876 402h0M875 402h0M874 401h0M874 405h0M875 409h0M874 410h0M875 422h0M874 420h0M874 419h0M873 421h0M873 422h0M875 423h0M876 424h0M873 423h0M874 427h0M874 427h0M874 425h0M876 434h0M874 439h0M873 449h0M874 483h0M876 515h0M878 262h0M877 266h0M876 274h0M877 288h0M877 288h0M878 302h0M878 311h0M878 324h0M879 324h0M877 330h0M876 340h0M878 345h0M878 347h0M878 346h0M877 350h0M877 347h0M877 348h0M876 350h0M878 350h0M877 349h0M878 348h0M878 352h0M878 358h0M876 357h0M878 358h0M876 362h0M877 359h0M878 360h0M878 361h0M878 362h0M878 365h0M879 366h0M878 367h0M876 366h0M879 368h0M877 368h0M878 373h0M877 371h0M879 372h0M878 376h0M879 377h0M879 375h0M878 375h0M878 378h0M877 379h0M876 378h0M878 379h0M876 383h0M878 383h0M877 382h0M878 380h0M878 381h0M878 384h0M879 383h0M878 386h0M877 387h0M877 389h0M879 391h0M878 390h0M878 391h0M878 390h0M877 394h0M877 394h0M876 392h0M876 395h0M879 393h0M878 397h0M879 397h0M879 399h0M877 398h0M877 401h0M878 400h0M877 402h0M878 402h0M878 406h0M879 406h0M877 407h0M878 410h0M877 409h0M879 409h0M877 411h0M878 412h0M878 410h0M876 414h0M878 419h0M877 423h0M877 425h0M879 433h0M877 437h0M879 447h0M877 506h0M880 271h0M881 274h0M880 274h0M881 277h0M881 276h0M880 298h0M881 300h0M882 307h0M879 312h0M879 328h0M882 327h0M882 327h0M881 331h0M881 331h0M880 334h0M882 335h0M879 338h0M880 343h0M881 344h0M881 347h0M880 348h0M882 349h0M880 348h0M882 352h0M879 350h0M882 350h0M880 351h0M881 353h0M881 355h0M881 358h0M881 358h0M882 359h0M881 360h0M879 362h0M881 360h0M881 362h0M879 362h0M881 368h0M882 368h0M880 369h0M881 370h0M880 371h0M881 368h0M881 372h0M880 376h0M882 376h0M880 375h0M881 380h0M882 378h0M880 380h0M881 382h0M880 382h0M881 383h0M879 386h0M880 386h0M881 383h0M881 388h0M881 387h0M882 391h0M879 391h0M882 389h0M880 392h0M879 391h0M882 392h0M881 390h0M880 393h0M879 393h0M880 396h0M880 396h0M879 396h0M879 397h0M881 399h0M881 398h0M880 398h0M880 401h0M879 402h0M882 403h0M881 409h0M880 412h0M882 413h0M880 417h0M881 421h0M880 426h0M881 428h0M880 443h0M881 454h0M881 463h0M880 467h0M879 466h0M880 468h0M880 478h0M880 497h0M882 516h0M882 268h0M884 268h0M883 270h0M883 273h0M883 277h0M884 281h0M883 280h0M882 286h0M885 292h0M883 295h0M884 296h0M882 306h0M883 305h0M884 309h0M882 311h0M883 314h0M883 315h0M883 317h0M884 318h0M882 323h0M885 320h0M884 328h0M882 330h0M885 331h0M883 332h0M884 337h0M884 339h0M883 339h0M884 348h0M883 347h0M884 350h0M882 348h0M884 351h0M883 355h0M885 355h0M882 354h0M882 355h0M882 355h0M883 357h0M884 357h0M884 360h0M884 360h0M883 364h0M884 364h0M882 366h0M884 367h0M885 370h0M883 369h0M885 373h0M883 376h0M883 375h0M883 375h0M884 375h0M884 376h0M882 378h0M883 380h0M883 381h0M883 382h0M885 385h0M883 385h0M884 384h0M883 384h0M885 386h0M883 385h0M884 383h0M885 387h0M885 388h0M883 387h0M884 387h0M883 387h0M882 391h0M885 394h0M882 392h0M883 395h0M884 393h0M884 396h0M884 397h0M883 399h0M883 400h0M884 400h0M883 399h0M884 403h0M883 401h0M885 402h0M884 404h0M884 405h0M884 404h0M884 407h0M882 413h0M884 414h0M882 415h0M885 414h0M884 417h0M885 422h0M884 424h0M884 424h0M883 425h0M883 424h0M883 427h0M884 440h0M882 445h0M885 474h0M885 264h0M887 269h0M887 272h0M885 275h0M888 272h0M885 278h0M886 290h0M887 297h0M886 300h0M885 306h0M886 308h0M886 308h0M888 308h0M886 315h0M886 319h0M885 321h0M886 323h0M887 329h0M886 330h0M887 331h0M888 333h0M888 337h0M887 337h0M886 344h0M886 344h0M885 347h0M887 346h0M886 349h0M887 349h0M886 350h0M887 355h0M887 355h0M887 354h0M885 356h0M886 356h0M887 356h0M886 359h0M887 357h0M885 356h0M886 360h0M885 360h0M885 361h0M885 362h0M887 361h0M887 364h0M886 365h0M886 366h0M887 368h0M886 369h0M886 370h0M887 377h0M885 374h0M887 376h0M888 380h0M887 379h0M887 379h0M885 383h0M886 382h0M885 382h0M886 381h0M887 381h0M885 385h0M886 385h0M887 386h0M885 389h0M887 390h0M888 395h0M887 393h0M888 395h0M888 396h0M887 396h0M885 399h0M885 399h0M885 405h0M887 412h0M886 413h0M886 413h0M888 422h0M887 425h0M887 424h0M886 423h0M887 422h0M885 438h0M888 458h0M886 494h0M889 204h0M889 261h0M890 264h0M890 279h0M889 284h0M889 293h0M888 299h0M888 300h0M890 304h0M890 303h0M889 309h0M889 311h0M889 316h0M890 323h0M888 325h0M891 330h0M888 337h0M890 341h0M889 341h0M891 343h0M889 344h0M890 343h0M890 345h0M890 345h0M890 344h0M891 347h0M891 345h0M890 349h0M889 351h0M889 352h0M888 351h0M890 354h0M891 356h0M889 357h0M889 362h0M890 363h0M889 370h0M889 370h0M888 372h0M889 373h0M889 373h0M891 374h0M890 377h0M891 382h0M889 380h0M888 382h0M890 386h0M889 385h0M891 383h0M889 388h0M889 391h0M891 394h0M889 396h0M890 396h0M888 399h0M890 399h0M889 407h0M890 407h0M890 409h0M890 408h0M889 412h0M890 410h0M888 410h0M888 413h0M889 419h0M888 422h0M888 425h0M891 433h0M890 478h0M894 222h0M893 264h0M891 271h0M893 272h0M891 277h0M892 277h0M891 279h0M892 283h0M892 286h0M891 285h0M891 286h0M893 287h0M892 292h0M893 301h0M893 305h0M892 308h0M894 306h0M892 313h0M891 315h0M893 314h0M893 319h0M893 318h0M892 322h0M894 322h0M891 323h0M894 329h0M892 327h0M891 327h0M894 329h0M894 331h0M891 331h0M893 331h0M893 331h0M892 335h0M892 333h0M891 333h0M892 334h0M893 335h0M891 337h0M893 340h0M892 339h0M893 341h0M894 345h0M892 345h0M894 346h0M891 345h0M893 345h0M894 349h0M893 351h0M892 351h0M892 353h0M892 352h0M892 359h0M892 356h0M892 356h0M892 359h0M891 361h0M893 362h0M893 364h0M893 362h0M893 367h0M891 367h0M894 368h0M893 371h0M892 370h0M891 369h0M892 373h0M892 372h0M893 376h0M893 376h0M892 375h0M893 374h0M891 379h0M891 379h0M893 379h0M893 379h0M894 383h0M893 382h0M893 381h0M891 382h0M894 385h0M893 388h0M893 390h0M892 389h0M893 394h0M892 393h0M892 395h0M892 397h0M894 399h0M892 399h0M892 400h0M892 405h0M893 408h0M891 411h0M892 413h0M894 413h0M892 431h0M894 442h0M893 446h0M891 451h0M891 533h0M896 237h0M897 264h0M897 275h0M894 281h0M894 282h0M896 287h0M894 290h0M896 297h0M894 304h0M896 313h0M896 315h0M897 315h0M897 321h0M897 324h0M895 325h0M896 324h0M894 324h0M897 334h0M895 333h0M896 335h0M894 339h0M895 340h0M896 341h0M894 343h0M896 344h0M894 342h0M896 343h0M897 343h0M896 344h0M895 345h0M896 344h0M894 344h0M896 349h0M896 349h0M897 349h0M894 357h0M896 359h0M894 357h0M896 361h0M897 360h0M895 363h0M896 365h0M897 365h0M895 366h0M895 366h0M896 369h0M896 369h0M895 370h0M896 370h0M896 370h0M896 369h0M897 372h0M895 373h0M897 374h0M895 377h0M895 375h0M895 377h0M896 381h0M897 386h0M894 384h0M896 387h0M896 387h0M896 387h0M894 388h0M895 390h0M894 397h0M895 398h0M896 398h0M896 402h0M895 402h0M895 410h0M896 412h0M897 414h0M896 415h0M897 447h0M896 460h0M895 482h0M898 244h0M898 263h0M898 268h0M900 290h0M898 296h0M897 301h0M899 300h0M899 299h0M900 307h0M900 310h0M898 311h0M897 313h0M897 311h0M898 314h0M900 320h0M898 319h0M897 320h0M900 322h0M900 321h0M900 324h0M897 325h0M897 329h0M900 327h0M899 326h0M900 329h0M899 330h0M899 330h0M899 334h0M898 341h0M898 343h0M897 343h0M898 343h0M899 344h0M897 346h0M898 346h0M900 344h0M898 346h0M898 350h0M899 349h0M898 348h0M900 353h0M898 350h0M899 353h0M897 352h0M897 354h0M898 356h0M898 357h0M898 357h0M897 363h0M897 363h0M899 366h0M899 368h0M899 368h0M898 370h0M897 370h0M899 375h0M897 376h0M899 377h0M898 375h0M897 383h0M898 383h0M898 383h0M897 392h0M898 395h0M899 421h0M898 423h0M899 440h0M899 483h0M902 234h0M901 257h0M901 257h0M902 272h0M902 295h0M902 302h0M903 306h0M902 314h0M903 315h0M903 318h0M900 319h0M902 318h0M900 318h0M901 323h0M900 320h0M901 323h0M901 324h0M900 329h0M902 329h0M900 327h0M902 330h0M902 330h0M901 334h0M903 333h0M901 332h0M901 333h0M900 333h0M901 338h0M901 336h0M902 335h0M901 336h0M902 338h0M902 340h0M901 339h0M900 342h0M900 343h0M900 346h0M902 346h0M902 346h0M901 350h0M901 348h0M901 349h0M902 355h0M902 355h0M902 354h0M901 354h0M900 355h0M902 358h0M901 358h0M901 358h0M901 357h0M901 358h0M900 360h0M903 361h0M902 363h0M902 365h0M902 368h0M900 366h0M903 366h0M900 368h0M900 369h0M902 368h0M900 372h0M901 372h0M902 374h0M902 374h0M901 375h0M903 381h0M903 386h0M902 385h0M901 385h0M901 386h0M902 386h0M902 389h0M900 389h0M902 388h0M901 391h0M901 392h0M902 392h0M903 401h0M901 399h0M902 399h0M902 402h0M902 401h0M902 403h0M902 405h0M903 410h0M901 412h0M901 458h0M901 481h0M903 504h0M906 250h0M905 258h0M905 262h0M904 266h0M904 264h0M905 273h0M903 274h0M905 277h0M906 278h0M905 289h0M904 296h0M904 296h0M906 301h0M905 301h0M906 300h0M906 309h0M905 313h0M903 312h0M904 314h0M905 318h0M905 318h0M904 319h0M903 318h0M905 319h0M905 320h0M903 320h0M905 324h0M904 326h0M905 328h0M903 332h0M905 333h0M906 334h0M903 337h0M906 337h0M904 336h0M903 336h0M903 338h0M905 340h0M905 339h0M903 338h0M904 341h0M904 341h0M904 343h0M904 344h0M904 342h0M905 345h0M904 347h0M906 348h0M903 348h0M905 351h0M904 351h0M905 352h0M905 350h0M906 354h0M906 355h0M905 357h0M903 363h0M903 365h0M904 366h0M905 370h0M905 373h0M905 378h0M906 381h0M903 380h0M903 385h0M904 383h0M905 388h0M906 386h0M903 386h0M904 396h0M903 401h0M904 402h0M903 404h0M903 404h0M905 412h0M904 412h0M905 416h0M904 419h0M903 431h0M904 442h0M904 448h0M909 233h0M909 270h0M906 279h0M908 283h0M907 288h0M906 296h0M906 299h0M907 297h0M906 300h0M907 305h0M908 304h0M907 311h0M908 308h0M908 309h0M909 311h0M908 313h0M907 313h0M909 317h0M907 324h0M907 325h0M907 331h0M907 335h0M908 335h0M906 333h0M908 335h0M907 332h0M908 332h0M908 337h0M907 336h0M906 340h0M907 338h0M907 338h0M906 339h0M908 339h0M908 341h0M908 341h0M906 343h0M908 345h0M908 352h0M907 351h0M908 356h0M909 356h0M907 362h0M908 359h0M909 361h0M908 362h0M908 364h0M908 364h0M909 365h0M909 367h0M906 374h0M907 377h0M907 378h0M908 377h0M907 383h0M907 389h0M908 389h0M909 393h0M908 397h0M909 396h0M908 397h0M907 402h0M908 405h0M906 406h0M908 408h0M909 412h0M908 429h0M908 435h0M909 438h0M908 440h0M907 444h0M906 519h0M910 164h0M911 197h0M912 250h0M911 273h0M912 273h0M911 281h0M910 288h0M910 296h0M909 293h0M909 298h0M910 302h0M909 306h0M909 309h0M911 315h0M910 316h0M909 319h0M912 318h0M910 322h0M909 323h0M910 322h0M910 321h0M909 324h0M911 325h0M909 327h0M909 328h0M912 328h0M910 328h0M909 331h0M910 331h0M910 332h0M911 331h0M912 334h0M911 333h0M910 336h0M911 336h0M910 337h0M909 336h0M911 336h0M910 339h0M912 338h0M909 338h0M910 339h0M910 344h0M912 344h0M909 344h0M912 345h0M911 345h0M909 346h0M910 345h0M910 347h0M909 350h0M909 350h0M912 347h0M910 352h0M909 352h0M911 355h0M910 355h0M911 354h0M911 359h0M912 361h0M909 361h0M911 364h0M911 363h0M909 365h0M910 364h0M911 365h0M911 367h0M910 371h0M911 372h0M911 378h0M911 392h0M910 391h0M911 394h0M910 399h0M910 404h0M911 409h0M911 423h0M912 426h0M911 484h0M910 490h0M913 235h0M913 252h0M915 267h0M915 269h0M915 270h0M913 270h0M913 283h0M912 292h0M914 298h0M914 302h0M912 303h0M912 309h0M912 314h0M912 313h0M913 316h0M912 316h0M912 316h0M914 320h0M913 319h0M915 318h0M914 320h0M912 322h0M915 324h0M913 325h0M914 324h0M912 325h0M914 329h0M913 327h0M915 328h0M913 327h0M914 329h0M913 332h0M913 332h0M913 333h0M913 334h0M914 335h0M913 337h0M914 337h0M913 338h0M914 340h0M913 340h0M914 344h0M914 342h0M913 345h0M914 345h0M912 344h0M913 346h0M912 345h0M914 349h0M914 348h0M913 348h0M913 349h0M914 350h0M913 353h0M912 352h0M913 352h0M915 350h0M915 355h0M914 354h0M913 358h0M915 356h0M914 359h0M914 358h0M912 361h0M914 360h0M914 362h0M915 364h0M913 365h0M914 371h0M914 368h0M912 371h0M913 372h0M914 372h0M912 376h0M913 374h0M912 377h0M914 442h0M913 443h0M914 556h0M918 190h0M917 253h0M917 258h0M916 257h0M916 261h0M915 270h0M916 276h0M915 280h0M917 284h0M917 287h0M917 289h0M916 303h0M917 304h0M918 310h0M916 314h0M917 311h0M916 312h0M917 317h0M918 319h0M917 318h0M918 323h0M917 324h0M916 326h0M918 326h0M916 331h0M918 335h0M917 332h0M918 333h0M916 335h0M918 338h0M917 340h0M916 340h0M916 339h0M918 342h0M916 342h0M917 346h0M917 349h0M918 348h0M916 348h0M915 349h0M918 347h0M916 353h0M915 351h0M918 353h0M917 351h0M917 351h0M916 351h0M915 353h0M917 354h0M918 357h0M917 362h0M916 365h0M918 369h0M917 379h0M915 382h0M916 385h0M916 392h0M915 392h0M917 395h0M917 393h0M916 394h0M915 394h0M917 395h0M916 397h0M917 398h0M916 399h0M917 409h0M917 427h0M918 206h0M920 209h0M919 270h0M921 275h0M920 276h0M921 282h0M918 284h0M919 286h0M920 292h0M921 293h0M919 298h0M919 300h0M920 303h0M919 302h0M921 305h0M920 310h0M919 311h0M919 313h0M920 314h0M921 317h0M920 316h0M921 318h0M918 319h0M920 323h0M918 332h0M920 333h0M919 334h0M921 337h0M920 335h0M920 341h0M919 338h0M921 338h0M918 341h0M919 341h0M920 346h0M919 346h0M920 347h0M918 344h0M919 346h0M919 346h0M919 349h0M919 347h0M919 348h0M919 351h0M919 350h0M918 351h0M919 355h0M920 356h0M918 357h0M921 358h0M921 357h0M918 360h0M918 362h0M920 362h0M919 362h0M918 364h0M921 371h0M919 374h0M919 381h0M918 385h0M918 393h0M919 404h0M919 416h0M921 431h0M920 434h0M919 445h0M918 457h0M920 466h0M920 487h0M924 106h0M921 233h0M923 244h0M922 257h0M921 270h0M922 272h0M924 287h0M922 288h0M923 293h0M922 294h0M922 301h0M924 307h0M922 307h0M924 306h0M923 308h0M923 314h0M923 312h0M922 315h0M923 322h0M922 323h0M921 322h0M923 325h0M921 325h0M922 326h0M923 324h0M924 328h0M923 332h0M924 330h0M921 330h0M923 330h0M924 335h0M923 334h0M922 335h0M921 334h0M922 335h0M922 337h0M924 336h0M923 338h0M923 336h0M922 338h0M923 339h0M922 343h0M923 342h0M924 342h0M921 344h0M923 345h0M922 346h0M922 345h0M922 344h0M923 344h0M921 349h0M924 349h0M921 348h0M922 349h0M923 348h0M922 353h0M923 352h0M921 353h0M922 354h0M923 360h0M924 362h0M924 368h0M922 368h0M922 374h0M922 382h0M922 386h0M921 386h0M924 392h0M923 403h0M923 414h0M922 417h0M924 434h0M922 436h0M922 476h0M927 137h0M925 143h0M925 164h0M924 226h0M926 269h0M927 271h0M924 270h0M924 295h0M925 298h0M926 302h0M924 300h0M926 306h0M926 305h0M924 307h0M927 312h0M927 314h0M925 314h0M925 314h0M925 316h0M925 316h0M927 318h0M925 318h0M926 319h0M926 319h0M925 323h0M924 320h0M925 325h0M927 324h0M926 323h0M927 325h0M927 328h0M927 330h0M924 330h0M926 329h0M925 329h0M924 333h0M925 334h0M924 332h0M926 338h0M925 338h0M925 341h0M926 342h0M924 344h0M926 345h0M926 346h0M926 347h0M926 350h0M927 351h0M925 351h0M925 353h0M926 354h0M927 357h0M924 356h0M925 358h0M926 363h0M926 363h0M927 363h0M924 368h0M924 368h0M926 372h0M927 373h0M927 379h0M927 381h0M926 383h0M924 390h0M925 394h0M925 393h0M926 412h0M925 417h0M930 198h0M928 212h0M928 215h0M929 235h0M928 244h0M927 250h0M929 257h0M927 255h0M930 266h0M930 264h0M927 274h0M928 272h0M929 280h0M928 282h0M929 284h0M927 293h0M928 293h0M930 296h0M928 297h0M927 296h0M928 301h0M929 299h0M929 302h0M927 303h0M929 305h0M927 303h0M929 305h0M929 305h0M929 306h0M930 306h0M927 310h0M930 312h0M929 313h0M929 314h0M930 319h0M930 318h0M927 321h0M930 322h0M928 323h0M928 324h0M928 326h0M928 325h0M927 325h0M928 325h0M930 328h0M930 328h0M930 331h0M927 332h0M928 329h0M929 329h0M929 332h0M930 332h0M928 329h0M928 333h0M928 333h0M930 337h0M930 337h0M929 338h0M929 340h0M928 342h0M930 349h0M928 347h0M927 350h0M929 351h0M929 353h0M929 354h0M930 357h0M929 359h0M928 360h0M928 366h0M928 366h0M929 368h0M929 368h0M928 372h0M928 376h0M928 381h0M928 396h0M930 406h0M928 404h0M927 411h0M929 436h0M929 439h0M933 192h0M932 241h0M931 240h0M931 255h0M932 257h0M931 265h0M931 267h0M930 266h0M933 281h0M932 282h0M932 286h0M930 290h0M932 289h0M930 288h0M932 292h0M931 290h0M931 292h0M932 293h0M933 296h0M933 299h0M932 299h0M933 301h0M932 301h0M932 299h0M930 305h0M932 307h0M932 307h0M931 306h0M930 306h0M932 305h0M933 309h0M931 308h0M931 312h0M931 314h0M932 319h0M930 319h0M932 318h0M932 319h0M931 318h0M932 318h0M931 318h0M932 322h0M933 325h0M931 324h0M931 328h0M932 328h0M930 328h0M932 329h0M933 326h0M932 331h0M933 334h0M930 332h0M933 336h0M930 337h0M933 339h0M932 340h0M930 338h0M931 343h0M931 343h0M930 343h0M930 344h0M933 349h0M930 352h0M932 352h0M932 352h0M932 356h0M932 358h0M933 356h0M931 356h0M931 358h0M931 360h0M931 361h0M932 365h0M931 364h0M930 368h0M932 373h0M931 381h0M932 380h0M931 382h0M932 385h0M932 388h0M930 391h0M931 424h0M933 458h0M931 514h0M932 514h0M935 243h0M934 242h0M935 248h0M934 256h0M936 262h0M934 270h0M934 269h0M936 276h0M933 282h0M935 286h0M936 287h0M933 288h0M933 291h0M935 293h0M936 298h0M934 299h0M934 299h0M935 298h0M933 301h0M936 300h0M936 304h0M934 302h0M934 305h0M934 304h0M935 304h0M936 308h0M936 307h0M935 305h0M935 308h0M935 311h0M935 311h0M935 309h0M933 311h0M936 321h0M936 321h0M935 322h0M936 324h0M934 323h0M935 325h0M934 325h0M934 324h0M934 323h0M935 328h0M933 329h0M936 327h0M934 330h0M935 330h0M934 335h0M933 338h0M935 336h0M936 340h0M935 339h0M933 341h0M934 343h0M934 342h0M934 348h0M933 348h0M935 350h0M935 352h0M934 353h0M936 350h0M934 351h0M934 354h0M934 355h0M934 357h0M935 356h0M934 362h0M935 360h0M935 370h0M933 370h0M934 372h0M934 373h0M935 378h0M935 384h0M936 393h0M935 403h0M933 418h0M933 423h0M935 440h0M933 447h0M933 460h0M938 202h0M937 242h0M936 241h0M937 256h0M936 274h0M937 276h0M937 275h0M936 277h0M937 283h0M938 283h0M938 285h0M938 290h0M938 294h0M938 294h0M939 296h0M937 297h0M937 298h0M937 300h0M936 302h0M937 299h0M938 303h0M937 305h0M936 306h0M938 305h0M937 309h0M937 309h0M937 309h0M939 311h0M939 310h0M937 316h0M938 322h0M938 324h0M938 323h0M937 323h0M937 325h0M938 325h0M937 329h0M937 331h0M937 331h0M936 330h0M936 333h0M938 334h0M936 337h0M937 336h0M937 336h0M937 339h0M938 339h0M937 343h0M939 344h0M938 343h0M937 346h0M938 345h0M937 353h0M937 360h0M936 363h0M937 368h0M936 377h0M937 398h0M939 410h0M937 413h0M938 413h0M942 131h0M941 227h0M940 237h0M940 251h0M941 257h0M939 254h0M940 264h0M939 269h0M939 271h0M940 272h0M940 274h0M939 277h0M941 276h0M942 279h0M941 284h0M941 284h0M942 286h0M939 285h0M940 288h0M942 288h0M939 290h0M942 293h0M940 294h0M941 295h0M941 295h0M941 298h0M941 297h0M940 296h0M942 300h0M941 301h0M940 303h0M941 304h0M940 305h0M940 305h0M939 306h0M940 308h0M939 308h0M940 314h0M941 314h0M940 312h0M942 311h0M941 311h0M939 313h0M939 314h0M942 317h0M940 318h0M942 317h0M939 320h0M940 318h0M942 319h0M941 319h0M940 321h0M940 322h0M941 325h0M941 328h0M940 328h0M939 327h0M941 332h0M942 333h0M942 334h0M940 333h0M942 336h0M941 336h0M939 339h0M940 347h0M940 345h0M939 348h0M941 349h0M942 347h0M942 352h0M941 353h0M940 356h0M940 359h0M941 357h0M940 359h0M940 360h0M942 363h0M941 362h0M940 367h0M941 369h0M940 369h0M942 373h0M942 375h0M942 376h0M939 391h0M941 400h0M940 406h0M942 407h0M940 411h0M940 425h0M940 437h0M945 115h0M945 214h0M944 230h0M942 233h0M943 233h0M943 237h0M944 239h0M942 245h0M943 250h0M944 256h0M944 258h0M944 259h0M942 262h0M943 269h0M945 266h0M945 273h0M943 275h0M943 274h0M943 277h0M945 276h0M942 280h0M942 280h0M944 284h0M945 287h0M945 287h0M942 290h0M944 291h0M945 290h0M943 290h0M945 291h0M944 293h0M943 295h0M944 298h0M945 298h0M944 299h0M943 299h0M943 300h0M943 301h0M942 305h0M943 305h0M942 302h0M943 303h0M944 306h0M943 307h0M943 305h0M944 306h0M944 313h0M944 314h0M943 316h0M942 314h0M943 323h0M943 324h0M944 325h0M943 323h0M944 325h0M944 327h0M943 331h0M944 329h0M943 334h0M942 332h0M942 340h0M943 343h0M944 344h0M943 345h0M944 349h0M942 348h0M944 352h0M945 351h0M942 352h0M945 361h0M943 363h0M943 362h0M943 368h0M943 367h0M945 367h0M944 393h0M942 399h0M942 415h0M945 425h0M945 227h0M948 235h0M947 237h0M948 237h0M948 270h0M945 272h0M946 274h0M946 278h0M946 279h0M945 280h0M947 278h0M945 278h0M947 283h0M946 287h0M947 286h0M945 286h0M947 289h0M945 291h0M948 290h0M947 292h0M945 291h0M946 294h0M947 293h0M945 295h0M946 296h0M947 297h0M945 298h0M946 299h0M947 302h0M947 302h0M945 304h0M947 303h0M945 307h0M947 306h0M945 307h0M947 307h0M945 311h0M947 308h0M946 309h0M947 313h0M946 316h0M947 315h0M947 316h0M948 317h0M947 319h0M946 317h0M948 322h0M946 322h0M947 325h0M946 325h0M945 327h0M947 331h0M947 331h0M948 339h0M947 343h0M947 356h0M947 356h0M946 362h0M947 360h0M948 363h0M945 365h0M945 369h0M946 368h0M947 372h0M946 372h0M947 378h0M945 384h0M947 390h0M947 390h0M947 412h0M945 458h0M949 160h0M949 233h0M949 232h0M949 235h0M948 240h0M950 240h0M950 252h0M950 258h0M949 265h0M949 272h0M950 277h0M950 275h0M950 277h0M950 276h0M948 282h0M950 283h0M950 282h0M950 285h0M949 285h0M950 288h0M950 289h0M949 289h0M950 296h0M949 296h0M948 297h0M950 299h0M950 298h0M949 300h0M950 302h0M950 303h0M949 302h0M948 306h0M949 307h0M951 309h0M951 308h0M949 308h0M951 309h0M951 314h0M951 316h0M949 320h0M950 321h0M949 321h0M950 320h0M948 323h0M950 321h0M949 324h0M950 330h0M950 334h0M949 334h0M949 337h0M951 335h0M949 342h0M948 348h0M949 354h0M951 358h0M949 356h0M948 368h0M948 369h0M949 372h0M950 375h0M949 382h0M950 421h0M950 420h0M953 118h0M951 203h0M954 228h0M951 232h0M953 240h0M951 246h0M954 258h0M954 258h0M953 263h0M953 269h0M953 273h0M953 274h0M954 279h0M952 279h0M951 282h0M952 284h0M954 283h0M952 289h0M952 291h0M954 293h0M951 290h0M953 296h0M951 294h0M954 296h0M952 293h0M954 293h0M952 294h0M953 299h0M952 297h0M954 296h0M954 298h0M952 297h0M954 302h0M952 302h0M952 304h0M952 305h0M952 302h0M951 304h0M953 307h0M953 308h0M952 305h0M953 309h0M953 308h0M952 311h0M954 311h0M951 312h0M953 314h0M951 317h0M954 320h0M952 321h0M952 325h0M952 326h0M953 328h0M953 328h0M952 330h0M952 329h0M953 335h0M952 332h0M954 335h0M953 335h0M954 346h0M953 345h0M952 346h0M951 365h0M952 401h0M951 419h0M953 419h0M953 482h0M955 215h0M955 228h0M955 233h0M955 237h0M957 240h0M955 244h0M955 260h0M956 260h0M957 267h0M956 268h0M957 271h0M955 271h0M956 269h0M954 269h0M956 272h0M957 272h0M955 274h0M955 274h0M955 277h0M956 279h0M955 280h0M957 282h0M956 283h0M955 282h0M957 282h0M955 285h0M956 284h0M955 289h0M954 288h0M956 291h0M955 293h0M955 291h0M956 291h0M955 292h0M956 296h0M955 296h0M957 293h0M956 293h0M955 297h0M955 296h0M956 299h0M954 302h0M957 304h0M954 305h0M957 302h0M955 304h0M956 305h0M954 307h0M956 306h0M954 308h0M954 309h0M955 310h0M956 312h0M955 312h0M955 314h0M955 312h0M957 317h0M955 315h0M954 319h0M955 322h0M956 324h0M956 325h0M954 326h0M956 344h0M955 360h0M955 368h0M956 372h0M954 401h0M956 480h0M960 232h0M957 234h0M957 241h0M958 247h0M958 247h0M958 248h0M958 249h0M958 258h0M957 266h0M958 270h0M957 271h0M959 273h0M959 272h0M958 273h0M958 274h0M960 276h0M960 275h0M958 280h0M957 283h0M957 281h0M959 282h0M959 282h0M958 283h0M959 286h0M958 287h0M960 285h0M958 287h0M960 285h0M958 289h0M959 291h0M960 291h0M957 293h0M958 294h0M960 298h0M958 300h0M959 301h0M960 303h0M960 304h0M959 307h0M959 308h0M959 313h0M959 311h0M957 313h0M959 320h0M958 318h0M957 327h0M958 332h0M958 335h0M959 335h0M959 352h0M958 361h0M959 361h0M960 376h0M959 384h0M959 388h0M959 417h0M959 430h0M961 210h0M962 237h0M960 239h0M961 242h0M962 241h0M960 241h0M962 246h0M961 249h0M963 256h0M961 258h0M960 258h0M961 261h0M961 264h0M961 264h0M962 269h0M961 271h0M960 271h0M960 273h0M963 274h0M961 274h0M962 272h0M962 272h0M963 278h0M961 277h0M962 281h0M961 281h0M960 284h0M963 283h0M963 284h0M963 284h0M961 283h0M961 289h0M962 292h0M961 291h0M961 294h0M962 293h0M963 296h0M961 297h0M963 298h0M962 297h0M963 299h0M963 300h0M960 305h0M961 304h0M961 309h0M961 311h0M963 309h0M962 309h0M961 313h0M961 314h0M961 314h0M962 317h0M961 314h0M960 318h0M960 324h0M960 325h0M960 324h0M961 325h0M961 328h0M962 329h0M962 335h0M962 336h0M960 346h0M961 346h0M962 350h0M962 354h0M961 358h0M961 365h0M962 513h0M965 228h0M964 232h0M965 234h0M965 237h0M963 241h0M965 242h0M964 244h0M965 247h0M963 249h0M965 249h0M964 252h0M965 257h0M963 257h0M966 259h0M964 262h0M964 262h0M963 261h0M964 265h0M963 268h0M965 267h0M966 267h0M963 271h0M963 273h0M965 283h0M965 286h0M966 288h0M965 290h0M965 288h0M965 292h0M964 293h0M965 290h0M964 290h0M964 292h0M966 293h0M966 296h0M963 298h0M965 298h0M966 301h0M966 299h0M965 301h0M965 305h0M964 303h0M964 307h0M965 308h0M964 308h0M965 307h0M965 305h0M963 307h0M964 310h0M964 308h0M965 312h0M964 312h0M963 312h0M963 314h0M964 318h0M964 319h0M964 319h0M964 318h0M965 318h0M964 320h0M966 328h0M966 331h0M965 342h0M964 351h0M963 353h0M963 362h0M966 360h0M964 388h0M965 389h0M965 388h0M964 501h0M969 147h0M968 208h0M967 208h0M969 234h0M968 235h0M966 235h0M968 238h0M966 238h0M968 243h0M968 250h0M969 261h0M966 263h0M967 265h0M967 263h0M966 266h0M967 274h0M968 275h0M968 275h0M968 278h0M966 276h0M968 278h0M968 282h0M967 281h0M967 283h0M967 285h0M967 285h0M967 287h0M969 289h0M967 291h0M967 296h0M968 298h0M968 299h0M968 300h0M967 304h0M969 304h0M966 307h0M968 306h0M968 306h0M968 310h0M968 311h0M968 313h0M966 317h0M967 322h0M969 322h0M967 323h0M966 330h0M968 332h0M968 345h0M967 348h0M968 354h0M968 362h0M968 384h0M967 406h0M972 235h0M970 241h0M970 244h0M970 245h0M970 246h0M969 251h0M970 257h0M972 256h0M971 258h0M970 261h0M972 263h0M971 266h0M970 264h0M971 268h0M971 269h0M971 267h0M970 267h0M971 267h0M972 273h0M969 273h0M971 277h0M969 280h0M971 280h0M969 281h0M969 281h0M971 281h0M969 284h0M969 288h0M969 288h0M969 287h0M972 292h0M972 292h0M969 291h0M972 291h0M972 292h0M971 294h0M969 297h0M972 297h0M971 301h0M970 302h0M972 303h0M969 307h0M970 307h0M971 305h0M969 307h0M971 309h0M971 315h0M969 315h0M970 317h0M970 323h0M970 323h0M971 326h0M970 331h0M971 334h0M972 367h0M970 419h0M972 177h0M975 177h0M974 187h0M975 212h0M972 220h0M973 220h0M973 225h0M975 228h0M974 229h0M975 235h0M975 236h0M974 238h0M973 240h0M973 245h0M974 247h0M974 248h0M974 245h0M974 248h0M973 250h0M974 249h0M972 252h0M974 251h0M972 253h0M974 256h0M973 255h0M973 258h0M974 261h0M974 260h0M974 262h0M975 264h0M972 264h0M972 264h0M974 267h0M973 271h0M974 272h0M975 272h0M974 274h0M975 273h0M973 274h0M973 276h0M973 277h0M973 276h0M973 275h0M972 275h0M972 281h0M972 283h0M973 285h0M974 286h0M972 293h0M973 291h0M973 292h0M973 291h0M974 291h0M972 295h0M974 298h0M975 298h0M973 299h0M974 302h0M973 303h0M973 302h0M973 304h0M972 306h0M973 313h0M973 313h0M972 311h0M972 317h0M972 319h0M974 320h0M973 318h0M975 325h0M972 331h0M975 349h0M975 351h0M972 353h0M974 355h0M972 369h0M974 396h0M972 401h0M973 407h0M975 147h0M977 153h0M978 210h0M975 224h0M975 226h0M976 228h0M977 229h0M975 233h0M977 236h0M978 237h0M976 239h0M977 243h0M976 250h0M975 252h0M976 255h0M976 254h0M976 254h0M978 259h0M977 260h0M976 259h0M977 261h0M976 268h0M978 267h0M976 266h0M976 268h0M977 268h0M976 269h0M977 277h0M977 277h0M975 277h0M977 278h0M977 278h0M977 278h0M975 279h0M978 282h0M977 282h0M978 282h0M978 282h0M976 285h0M975 286h0M976 286h0M976 287h0M977 285h0M977 289h0M975 289h0M977 292h0M976 290h0M976 290h0M976 295h0M978 296h0M978 298h0M975 299h0M976 297h0M976 301h0M977 301h0M976 300h0M976 304h0M976 304h0M977 306h0M977 306h0M976 311h0M977 311h0M975 314h0M975 318h0M977 323h0M977 325h0M975 331h0M977 331h0M976 337h0M977 340h0M976 349h0M977 356h0M977 357h0M977 365h0M978 421h0M978 173h0M981 194h0M980 208h0M979 224h0M981 233h0M980 232h0M979 233h0M979 230h0M980 237h0M980 238h0M980 237h0M979 242h0M980 246h0M980 249h0M981 254h0M981 253h0M980 256h0M979 261h0M979 262h0M981 262h0M981 261h0M981 262h0M980 260h0M980 263h0M979 264h0M980 266h0M980 266h0M981 267h0M980 268h0M980 271h0M980 270h0M980 271h0M979 272h0M980 275h0M978 280h0M979 281h0M979 285h0M979 285h0M980 287h0M979 288h0M980 291h0M979 294h0M980 301h0M978 301h0M981 301h0M979 303h0M980 303h0M980 308h0M980 310h0M978 309h0M981 314h0M981 320h0M980 328h0M978 338h0M980 359h0M980 358h0M979 372h0M980 404h0M980 403h0M982 162h0M983 169h0M983 222h0M981 224h0M982 226h0M983 230h0M983 230h0M981 227h0M982 232h0M983 236h0M982 237h0M981 237h0M983 246h0M983 247h0M984 253h0M982 252h0M982 255h0M984 256h0M981 259h0M983 259h0M981 258h0M982 260h0M982 259h0M982 260h0M983 260h0M982 262h0M982 263h0M984 260h0M983 263h0M982 263h0M984 269h0M981 269h0M984 269h0M981 271h0M983 270h0M983 270h0M983 271h0M982 274h0M982 280h0M984 282h0M981 282h0M982 285h0M981 293h0M983 294h0M983 297h0M982 298h0M981 305h0M983 304h0M983 307h0M982 307h0M983 310h0M982 316h0M983 322h0M983 321h0M984 329h0M983 327h0M983 327h0M982 342h0M983 353h0M983 350h0M982 353h0M982 358h0M983 382h0M981 388h0M983 392h0M984 402h0M984 174h0M985 184h0M987 218h0M986 227h0M985 227h0M986 231h0M985 230h0M984 232h0M985 233h0M986 237h0M986 238h0M985 236h0M984 239h0M985 240h0M985 244h0M984 248h0M984 251h0M987 251h0M984 254h0M985 251h0M986 254h0M985 254h0M986 254h0M986 258h0M985 260h0M985 262h0M987 261h0M985 260h0M985 263h0M986 267h0M986 266h0M986 269h0M986 274h0M985 273h0M987 272h0M984 272h0M984 274h0M986 277h0M987 277h0M984 276h0M986 281h0M986 280h0M984 280h0M986 281h0M986 286h0M984 285h0M986 286h0M984 284h0M986 284h0M985 293h0M987 303h0M985 311h0M984 312h0M986 311h0M987 323h0M985 342h0M984 372h0M985 404h0M988 152h0M989 181h0M987 192h0M987 197h0M988 223h0M989 228h0M988 231h0M990 230h0M989 235h0M987 244h0M990 243h0M989 245h0M988 245h0M989 245h0M989 246h0M990 245h0M988 246h0M990 247h0M988 250h0M989 249h0M988 249h0M987 250h0M989 253h0M990 253h0M989 254h0M989 257h0M988 257h0M988 255h0M990 260h0M987 259h0M988 261h0M989 261h0M989 264h0M988 265h0M988 267h0M987 272h0M989 271h0M987 269h0M989 274h0M989 274h0M987 273h0M990 275h0M990 274h0M987 278h0M988 278h0M987 280h0M989 281h0M988 288h0M987 289h0M988 292h0M987 295h0M987 298h0M990 298h0M989 299h0M988 301h0M988 308h0M989 311h0M990 312h0M989 317h0M989 317h0M988 322h0M987 334h0M988 341h0M989 340h0M989 343h0M988 349h0M987 350h0M990 355h0M988 363h0M989 372h0M989 375h0M988 425h0M990 175h0M992 173h0M993 207h0M992 223h0M990 226h0M992 228h0M991 238h0M991 236h0M990 236h0M990 239h0M990 240h0M992 246h0M990 250h0M992 249h0M990 251h0M991 253h0M991 254h0M993 251h0M991 256h0M990 255h0M991 256h0M991 259h0M992 260h0M992 259h0M992 263h0M993 265h0M993 265h0M991 264h0M990 268h0M991 270h0M990 269h0M993 274h0M992 273h0M990 276h0M993 280h0M993 279h0M991 280h0M991 281h0M991 284h0M990 283h0M992 283h0M992 287h0M993 288h0M992 289h0M992 292h0M992 294h0M991 302h0M992 301h0M990 304h0M991 308h0M992 316h0M990 317h0M991 318h0M992 319h0M992 338h0M991 339h0M990 351h0M993 370h0M992 376h0M992 382h0M993 144h0M993 188h0M994 210h0M994 226h0M995 227h0M994 229h0M994 237h0M995 237h0M994 241h0M994 243h0M994 244h0M994 244h0M995 247h0M995 247h0M995 251h0M994 250h0M993 250h0M996 253h0M996 253h0M994 254h0M995 254h0M993 257h0M994 255h0M994 255h0M994 257h0M995 260h0M994 260h0M996 263h0M995 264h0M993 266h0M994 265h0M996 265h0M995 268h0M994 267h0M996 267h0M993 268h0M994 270h0M993 270h0M996 271h0M995 272h0M996 272h0M996 273h0M995 275h0M995 283h0M996 284h0M995 286h0M994 287h0M993 286h0M994 284h0M994 287h0M995 299h0M993 311h0M994 320h0M996 336h0M996 356h0M994 359h0M994 363h0M993 367h0M995 370h0M994 427h0M997 141h0M996 157h0M997 179h0M997 189h0M998 224h0M998 225h0M998 228h0M996 234h0M999 234h0M998 237h0M997 237h0M999 239h0M996 240h0M997 241h0M999 242h0M996 242h0M998 242h0M997 248h0M997 247h0M997 246h0M997 250h0M997 248h0M999 248h0M996 250h0M998 251h0M996 253h0M997 253h0M996 255h0M999 256h0M997 255h0M996 257h0M998 256h0M999 255h0M998 260h0M996 258h0M998 258h0M998 258h0M997 260h0M996 264h0M997 268h0M997 269h0M999 269h0M998 267h0M997 271h0M996 270h0M996 278h0M997 276h0M997 277h0M999 280h0M997 281h0M997 281h0M997 282h0M998 289h0M997 287h0M998 298h0M998 305h0M997 308h0M999 310h0M998 314h0M998 325h0M997 325h0M996 329h0M997 330h0M997 333h0M998 364h0M998 368h0M996 379h0M997 382h0M998 410h0M1002 154h0M1002 180h0M1002 211h0M1001 219h0M1001 220h0M1002 222h0M1001 222h0M1000 224h0M999 229h0M1002 236h0M1001 236h0M1001 237h0M1000 237h0M1000 244h0M1001 245h0M1001 246h0M1001 247h0M1000 247h0M999 246h0M1000 245h0M1001 248h0M999 248h0M1002 251h0M1002 253h0M1000 256h0M1000 257h0M1000 255h0M1002 255h0M1002 255h0M999 258h0M1000 262h0M1002 263h0M1001 261h0M1001 265h0M1000 264h0M1000 268h0M1002 266h0M1002 271h0M1000 270h0M1000 270h0M1000 271h0M999 270h0M1001 274h0M1002 275h0M1002 276h0M1001 276h0M999 280h0M1000 280h0M1001 284h0M1001 283h0M999 283h0M1002 286h0M1001 285h0M1000 291h0M1001 292h0M1001 298h0M1001 296h0M999 307h0M1000 309h0M1001 317h0M1002 327h0M1002 356h0M1001 363h0M1001 373h0M1001 375h0M1001 381h0M1002 142h0M1002 149h0M1004 154h0M1003 175h0M1004 197h0M1003 202h0M1002 208h0M1003 216h0M1004 229h0M1005 229h0M1002 229h0M1003 230h0M1003 228h0M1003 233h0M1002 234h0M1003 234h0M1002 236h0M1004 237h0M1004 237h0M1002 239h0M1004 239h0M1004 242h0M1004 239h0M1003 243h0M1002 242h0M1004 247h0M1003 246h0M1004 247h0M1005 249h0M1003 249h0M1005 249h0M1004 248h0M1002 249h0M1003 248h0M1004 252h0M1004 253h0M1004 253h0M1003 253h0M1005 254h0M1004 256h0M1002 255h0M1004 257h0M1004 256h0M1003 260h0M1003 260h0M1002 259h0M1005 261h0M1004 261h0M1003 260h0M1003 263h0M1005 271h0M1005 270h0M1003 274h0M1005 274h0M1003 274h0M1005 277h0M1003 277h0M1004 279h0M1002 281h0M1004 289h0M1004 290h0M1005 291h0M1003 295h0M1004 305h0M1002 307h0M1004 315h0M1005 369h0M1007 162h0M1007 207h0M1006 217h0M1008 220h0M1007 219h0M1005 223h0M1008 225h0M1008 230h0M1005 230h0M1007 233h0M1006 236h0M1007 233h0M1008 237h0M1007 245h0M1008 243h0M1008 247h0M1006 246h0M1005 249h0M1006 252h0M1006 253h0M1008 252h0M1007 255h0M1006 255h0M1007 260h0M1008 260h0M1006 259h0M1007 258h0M1008 258h0M1006 261h0M1006 261h0M1005 261h0M1006 264h0M1006 268h0M1007 269h0M1006 272h0M1008 273h0M1005 273h0M1007 276h0M1007 276h0M1006 277h0M1007 281h0M1007 287h0M1007 295h0M1007 302h0M1008 303h0M1006 317h0M1007 322h0M1005 321h0M1006 373h0M1007 415h0M1008 196h0M1010 208h0M1010 209h0M1008 216h0M1010 220h0M1010 221h0M1009 223h0M1008 228h0M1011 228h0M1010 229h0M1010 233h0M1010 233h0M1008 231h0M1010 236h0M1010 238h0M1008 242h0M1010 246h0M1009 251h0M1010 249h0M1011 252h0M1008 254h0M1010 254h0M1011 257h0M1008 254h0M1010 258h0M1010 260h0M1010 261h0M1008 261h0M1009 260h0M1009 265h0M1008 265h0M1009 263h0M1008 266h0M1009 267h0M1008 266h0M1010 267h0M1010 269h0M1010 270h0M1009 270h0M1010 273h0M1010 275h0M1011 275h0M1010 279h0M1011 279h0M1011 280h0M1009 281h0M1009 280h0M1009 284h0M1011 281h0M1010 289h0M1009 291h0M1010 294h0M1010 293h0M1010 296h0M1009 307h0M1011 320h0M1009 322h0M1011 328h0M1009 337h0M1008 386h0M1013 164h0M1014 199h0M1012 201h0M1013 210h0M1012 210h0M1012 212h0M1012 216h0M1011 219h0M1013 220h0M1012 219h0M1011 223h0M1012 226h0M1013 225h0M1011 224h0M1013 230h0M1014 229h0M1014 232h0M1011 233h0M1013 231h0M1013 236h0M1013 240h0M1011 242h0M1014 240h0M1014 242h0M1014 247h0M1012 248h0M1011 249h0M1012 249h0M1012 252h0M1014 252h0M1011 259h0M1012 257h0M1012 260h0M1011 268h0M1013 268h0M1012 269h0M1014 274h0M1013 275h0M1012 277h0M1013 276h0M1012 281h0M1014 279h0M1013 281h0M1011 281h0M1012 282h0M1013 282h0M1011 287h0M1014 291h0M1013 292h0M1013 291h0M1014 293h0M1013 293h0M1012 300h0M1013 307h0M1012 306h0M1012 313h0M1011 311h0M1011 317h0M1012 320h0M1013 320h0M1013 325h0M1014 330h0M1012 369h0M1012 374h0M1016 177h0M1015 193h0M1015 195h0M1015 213h0M1014 215h0M1015 218h0M1015 220h0M1016 229h0M1016 229h0M1014 234h0M1016 234h0M1016 238h0M1015 238h0M1016 238h0M1016 242h0M1014 241h0M1016 239h0M1016 241h0M1014 243h0M1016 245h0M1017 243h0M1016 252h0M1014 255h0M1017 254h0M1014 255h0M1015 257h0M1016 262h0M1014 262h0M1016 266h0M1015 265h0M1014 264h0M1016 275h0M1016 272h0M1017 286h0M1015 288h0M1016 288h0M1015 291h0M1015 295h0M1014 315h0M1014 317h0M1014 318h0M1017 348h0M1015 353h0M1017 374h0M1020 183h0M1017 185h0M1019 205h0M1019 208h0M1019 212h0M1019 219h0M1019 220h0M1020 222h0M1019 222h0M1017 227h0M1018 227h0M1020 229h0M1018 230h0M1019 230h0M1018 231h0M1017 231h0M1020 235h0M1019 239h0M1020 236h0M1019 239h0M1017 241h0M1017 241h0M1019 243h0M1018 248h0M1017 250h0M1018 249h0M1018 252h0M1017 256h0M1017 255h0M1018 256h0M1020 257h0M1018 261h0M1019 263h0M1019 265h0M1018 266h0M1018 267h0M1018 270h0M1017 278h0M1018 276h0M1019 280h0M1020 289h0M1018 288h0M1018 288h0M1019 290h0M1019 292h0M1018 294h0M1020 294h0M1020 298h0M1019 299h0M1018 314h0M1018 325h0M1018 325h0M1017 357h0M1022 173h0M1020 204h0M1022 204h0M1022 207h0M1021 211h0M1023 214h0M1021 217h0M1023 218h0M1023 215h0M1022 219h0M1022 220h0M1020 220h0M1020 219h0M1021 219h0M1020 220h0M1021 222h0M1022 221h0M1020 221h0M1022 226h0M1021 229h0M1021 227h0M1021 228h0M1021 231h0M1023 234h0M1021 233h0M1021 239h0M1023 239h0M1022 240h0M1023 241h0M1021 243h0M1022 243h0M1022 243h0M1023 252h0M1021 252h0M1020 255h0M1021 255h0M1022 256h0M1021 257h0M1021 255h0M1023 260h0M1020 260h0M1023 259h0M1022 262h0M1022 263h0M1020 265h0M1022 266h0M1022 268h0M1022 270h0M1022 274h0M1023 284h0M1022 281h0M1020 297h0M1021 301h0M1021 326h0M1023 344h0M1022 365h0M1021 368h0M1023 379h0M1026 169h0M1024 196h0M1023 201h0M1024 209h0M1025 207h0M1025 207h0M1025 210h0M1023 214h0M1026 217h0M1025 215h0M1023 218h0M1025 221h0M1026 224h0M1024 224h0M1025 224h0M1023 229h0M1024 228h0M1026 228h0M1023 231h0M1025 234h0M1026 236h0M1026 236h0M1024 244h0M1025 244h0M1024 245h0M1026 249h0M1025 254h0M1025 254h0M1025 251h0M1024 253h0M1024 260h0M1025 259h0M1024 260h0M1023 268h0M1023 273h0M1026 276h0M1025 284h0M1025 289h0M1024 293h0M1023 299h0M1023 332h0M1023 346h0M1025 350h0M1023 356h0M1028 213h0M1027 215h0M1028 213h0M1027 212h0M1027 216h0M1027 218h0M1027 217h0M1026 220h0M1027 219h0M1028 221h0M1028 220h0M1027 221h0M1028 223h0M1026 222h0M1027 226h0M1026 227h0M1028 229h0M1026 227h0M1027 236h0M1029 234h0M1028 234h0M1028 239h0M1026 240h0M1028 244h0M1028 243h0M1028 250h0M1027 250h0M1028 250h0M1029 252h0M1029 252h0M1028 261h0M1028 263h0M1028 261h0M1029 265h0M1028 269h0M1028 292h0M1028 296h0M1026 330h0M1027 365h0M1029 211h0M1031 212h0M1029 213h0M1029 214h0M1030 212h0M1031 217h0M1031 216h0M1031 218h0M1031 218h0M1031 218h0M1031 223h0M1031 223h0M1031 226h0M1031 227h0M1032 226h0M1031 225h0M1030 227h0M1031 230h0M1030 232h0M1030 230h0M1030 232h0M1030 233h0M1029 238h0M1030 242h0M1032 243h0M1030 249h0M1032 251h0M1030 255h0M1031 261h0M1031 265h0M1032 264h0M1032 269h0M1029 273h0M1030 276h0M1029 280h0M1030 283h0M1032 290h0M1030 300h0M1029 325h0M1033 138h0M1033 189h0M1033 196h0M1035 210h0M1033 212h0M1033 221h0M1035 226h0M1033 227h0M1033 228h0M1034 228h0M1032 232h0M1033 232h0M1033 233h0M1032 233h0M1033 239h0M1032 242h0M1035 243h0M1035 248h0M1035 251h0M1035 267h0M1033 281h0M1035 288h0M1033 321h0M1034 328h0M1034 343h0M1037 118h0M1038 160h0M1037 203h0M1035 208h0M1037 212h0M1036 211h0M1035 213h0M1038 215h0M1036 216h0M1038 215h0M1038 216h0M1036 217h0M1036 219h0M1037 222h0M1036 222h0M1036 228h0M1036 229h0M1038 228h0M1036 236h0M1038 233h0M1038 235h0M1035 237h0M1038 239h0M1036 240h0M1038 247h0M1038 250h0M1037 264h0M1037 265h0M1038 271h0M1037 276h0M1036 281h0M1037 279h0M1036 286h0M1037 292h0M1036 302h0M1037 311h0M1036 314h0M1037 353h0M1038 368h0M1039 190h0M1041 209h0M1040 210h0M1040 213h0M1039 214h0M1040 217h0M1039 216h0M1038 221h0M1038 218h0M1041 219h0M1039 219h0M1039 222h0M1038 222h0M1039 224h0M1041 228h0M1041 230h0M1040 228h0M1040 234h0M1039 234h0M1040 249h0M1040 252h0M1040 255h0M1039 261h0M1040 265h0M1040 266h0M1041 267h0M1040 285h0M1040 290h0M1040 290h0M1039 291h0M1040 371h0M1043 194h0M1043 202h0M1042 204h0M1041 213h0M1043 214h0M1043 216h0M1042 218h0M1042 216h0M1044 221h0M1041 218h0M1042 221h0M1044 223h0M1043 225h0M1043 224h0M1043 230h0M1043 228h0M1044 228h0M1042 231h0M1043 230h0M1043 233h0M1044 233h0M1042 234h0M1041 233h0M1042 234h0M1041 240h0M1041 239h0M1043 241h0M1042 242h0M1044 242h0M1043 245h0M1041 246h0M1041 254h0M1042 258h0M1043 265h0M1044 271h0M1041 275h0M1043 280h0M1041 280h0M1041 284h0M1041 282h0M1044 281h0M1042 283h0M1043 331h0M1047 158h0M1046 170h0M1046 194h0M1045 198h0M1044 206h0M1047 207h0M1045 207h0M1046 210h0M1046 215h0M1045 215h0M1045 218h0M1046 220h0M1045 220h0M1046 223h0M1045 225h0M1046 227h0M1046 224h0M1045 231h0M1046 232h0M1045 235h0M1045 235h0M1044 233h0M1045 233h0M1044 236h0M1047 239h0M1045 239h0M1047 242h0M1045 245h0M1045 246h0M1045 249h0M1047 254h0M1045 256h0M1047 258h0M1046 266h0M1046 271h0M1045 272h0M1046 279h0M1045 282h0M1046 284h0M1047 291h0M1045 304h0M1045 371h0M1048 205h0M1048 213h0M1049 216h0M1047 215h0M1048 219h0M1049 227h0M1049 226h0M1049 224h0M1049 229h0M1048 231h0M1048 233h0M1050 232h0M1049 230h0M1048 238h0M1049 238h0M1050 236h0M1050 239h0M1048 240h0M1048 246h0M1048 251h0M1048 255h0M1049 260h0M1050 263h0M1048 266h0M1049 266h0M1048 273h0M1048 278h0M1047 276h0M1052 164h0M1052 189h0M1052 194h0M1051 192h0M1052 206h0M1051 205h0M1051 203h0M1053 209h0M1053 221h0M1050 219h0M1050 220h0M1052 223h0M1052 222h0M1051 222h0M1051 228h0M1052 231h0M1053 231h0M1052 231h0M1052 236h0M1050 234h0M1051 242h0M1052 240h0M1051 240h0M1051 251h0M1051 250h0M1053 248h0M1051 253h0M1051 256h0M1053 257h0M1052 258h0M1053 266h0M1051 267h0M1051 268h0M1051 297h0M1051 327h0M1051 360h0M1054 179h0M1056 187h0M1054 189h0M1055 189h0M1054 200h0M1056 206h0M1054 208h0M1055 207h0M1053 209h0M1053 211h0M1055 211h0M1056 212h0M1054 214h0M1055 214h0M1055 218h0M1054 217h0M1055 218h0M1054 220h0M1054 228h0M1055 231h0M1054 232h0M1055 232h0M1054 235h0M1054 235h0M1054 238h0M1055 237h0M1054 242h0M1055 243h0M1056 248h0M1053 246h0M1055 251h0M1055 255h0M1055 256h0M1054 256h0M1054 259h0M1056 263h0M1056 264h0M1053 271h0M1054 289h0M1053 289h0M1054 300h0M1055 305h0M1056 182h0M1057 189h0M1058 199h0M1057 206h0M1057 211h0M1057 213h0M1059 212h0M1057 215h0M1057 216h0M1058 217h0M1056 215h0M1059 219h0M1056 219h0M1056 223h0M1058 224h0M1056 222h0M1058 230h0M1058 233h0M1058 230h0M1059 235h0M1056 235h0M1057 235h0M1056 237h0M1056 237h0M1057 237h0M1058 245h0M1057 250h0M1057 250h0M1058 250h0M1056 256h0M1058 258h0M1059 261h0M1059 269h0M1056 288h0M1059 297h0M1059 308h0M1058 306h0M1061 175h0M1060 189h0M1060 197h0M1062 202h0M1060 201h0M1060 201h0M1062 211h0M1062 216h0M1062 219h0M1059 224h0M1060 224h0M1061 232h0M1061 234h0M1061 237h0M1060 240h0M1060 243h0M1060 242h0M1060 244h0M1061 244h0M1059 246h0M1061 246h0M1059 245h0M1060 250h0M1061 254h0M1059 253h0M1061 265h0M1060 269h0M1061 270h0M1062 284h0M1061 282h0M1060 288h0M1059 306h0M1064 179h0M1065 207h0M1064 207h0M1063 211h0M1065 217h0M1065 216h0M1064 218h0M1063 217h0M1065 220h0M1063 226h0M1065 227h0M1063 225h0M1064 227h0M1064 228h0M1062 232h0M1063 235h0M1063 238h0M1063 241h0M1062 239h0M1063 244h0M1064 250h0M1064 257h0M1062 262h0M1062 269h0M1063 290h0M1063 317h0M1067 170h0M1067 199h0M1066 197h0M1068 199h0M1066 206h0M1066 206h0M1065 217h0M1067 216h0M1067 219h0M1066 220h0M1066 225h0M1066 225h0M1067 229h0M1066 227h0M1066 234h0M1066 233h0M1067 237h0M1067 242h0M1067 241h0M1066 243h0M1067 243h0M1065 247h0M1065 247h0M1067 249h0M1068 268h0M1066 267h0M1066 269h0M1066 273h0M1066 286h0M1068 189h0M1070 198h0M1071 205h0M1070 206h0M1070 213h0M1071 218h0M1070 222h0M1071 233h0M1070 230h0M1071 234h0M1069 240h0M1070 240h0M1069 240h0M1069 241h0M1071 241h0M1070 246h0M1068 256h0M1071 268h0M1070 271h0M1069 276h0M1070 276h0M1070 298h0M1073 166h0M1072 169h0M1074 188h0M1072 193h0M1071 191h0M1072 196h0M1072 201h0M1072 200h0M1074 214h0M1071 229h0M1072 230h0M1072 233h0M1073 234h0M1073 254h0M1072 256h0M1072 259h0M1073 286h0M1073 295h0M1077 179h0M1075 183h0M1077 193h0M1075 199h0M1075 202h0M1074 227h0M1075 227h0M1074 232h0M1076 232h0M1076 260h0M1076 294h0M1077 175h0M1079 190h0M1078 199h0M1079 200h0M1078 205h0M1079 216h0M1080 223h0M1077 226h0M1080 225h0M1079 233h0M1077 244h0M1078 250h0M1079 260h0M1079 267h0M1082 173h0M1082 191h0M1080 191h0M1082 203h0M1080 203h0M1082 204h0M1081 209h0M1082 209h0M1081 245h0M1081 269h0M1084 154h0M1086 171h0M1086 184h0M1085 188h0M1086 199h0M1085 199h0M1086 203h0M1084 208h0M1084 209h0M1085 211h0M1083 211h0M1085 217h0M1084 263h0M1089 160h0M1086 183h0M1088 182h0M1088 189h0M1088 193h0M1088 196h0M1087 197h0M1088 201h0M1087 206h0M1087 205h0M1088 208h0M1089 211h0M1088 211h0M1087 215h0M1088 216h0M1087 223h0M1088 231h0M1088 234h0M1089 234h0M1088 237h0M1090 148h0M1090 149h0M1089 194h0M1091 192h0M1091 196h0M1089 201h0M1089 202h0M1091 203h0M1090 206h0M1091 211h0M1091 209h0M1090 212h0M1091 213h0M1090 216h0M1091 234h0M1091 240h0M1093 139h0M1093 166h0M1093 185h0M1093 189h0M1095 194h0M1094 195h0M1094 199h0M1094 201h0M1094 205h0M1093 208h0M1093 217h0M1093 215h0M1095 225h0M1094 234h0M1092 238h0M1093 238h0M1094 252h0M1093 270h0M1097 194h0M1098 197h0M1097 202h0M1098 211h0M1097 220h0M1097 224h0M1097 233h0M1097 231h0M1097 234h0M1097 238h0M1098 244h0M1095 256h0M1098 154h0M1101 162h0M1100 169h0M1101 183h0M1099 191h0M1099 197h0M1101 195h0M1101 197h0M1099 200h0M1100 198h0M1101 201h0M1100 222h0M1101 239h0M1101 236h0M1100 237h0M1100 245h0M1101 265h0M1102 190h0M1104 196h0M1103 197h0M1101 199h0M1104 198h0M1102 198h0M1103 204h0M1103 204h0M1101 204h0M1103 229h0M1101 251h0M1106 136h0M1107 183h0M1106 186h0M1105 187h0M1105 197h0M1104 208h0M1105 219h0M1109 182h0M1107 187h0M1109 191h0M1108 191h0M1108 192h0M1110 199h0M1110 207h0M1109 208h0M1109 213h0M1109 220h0M1109 229h0M1108 227h0M1113 178h0M1111 182h0M1112 186h0M1111 191h0M1112 197h0M1111 195h0M1112 194h0M1111 200h0M1111 203h0M1111 224h0M1111 231h0M1111 233h0M1111 251h0M1114 160h0M1114 170h0M1116 193h0M1115 204h0M1115 223h0M1118 173h0M1117 188h0M1117 202h0M1120 156h0M1120 164h0M1121 184h0M1120 197h0M1119 200h0M1121 211h0M1120 214h0M1124 183h0M1123 188h0M1124 187h0M1123 192h0M1124 196h0M1122 203h0M1123 219h0M1126 171h0M1125 189h0M1128 206h0M1130 171h0M1130 170h0M1130 179h0M1130 181h0M1130 188h0M1130 195h0M1129 206h0M1128 209h0M1133 177h0M1133 178h0M1132 196h0M1133 198h0M1136 172h0M1135 172h0M1135 177h0M1136 201h0M1137 200h0M1138 170h0M1137 203h0M1142 171h0M257 530h0M257 656h0M396 302h0M478 374h0M1008 95h0M717 922h0M1147 150h0M466 983h0M408 586h0M438 550h0M494 523h0M539 436h0M567 382h0M586 333h0M577 347h0M592 364h0M628 340h0M843 142h0M814 158h0M906 135h0M924 141h0M954 127h0M1066 129h0M519 928h0M616 273h0M687 244h0" stroke="#001b62" stroke-width="9.6" stroke-linecap="round" fill="none"/>
<path d="M255.5 979.3L1148 117.8" stroke="#ff0000" stroke-width="3.4" stroke-linecap="round"/>
<g class="t"><text x="202" y="1011.6" text-anchor="end">0</text><text x="202" y="822.0" text-anchor="end">200</text><text x="202" y="631.2" text-anchor="end">400</text><text x="202" y="439.4" text-anchor="end">600</text><text x="202" y="249.2" text-anchor="end">800</text><text x="202" y="58.2" text-anchor="end">1000</text><text x="254.0" y="1083" text-anchor="middle">0</text><text x="444.4" y="1083" text-anchor="middle">200</text><text x="634.8" y="1083" text-anchor="middle">400</text><text x="825.2" y="1083" text-anchor="middle">600</text><text x="1015.6" y="1083" text-anchor="middle">800</text><text x="1207.5" y="1083" text-anchor="middle">1000</text></g>
<text class="b" transform="translate(448.8,1160.6) scale(0.955,1)" style="letter-spacing:0.2px" x="0" y="0">Measurement (W/m<tspan font-size="41" dy="-19" stroke="#000" stroke-width="1.2">2</tspan><tspan dy="19">)</tspan></text>
<text class="b" transform="translate(60.6,700.6) rotate(-90) scale(0.955,1)" x="0" y="0">Model (W/m<tspan font-size="41" dy="-19" stroke="#000" stroke-width="1.2">2</tspan><tspan dy="19">)</tspan></text>
</g>
</svg>
</body></html>
